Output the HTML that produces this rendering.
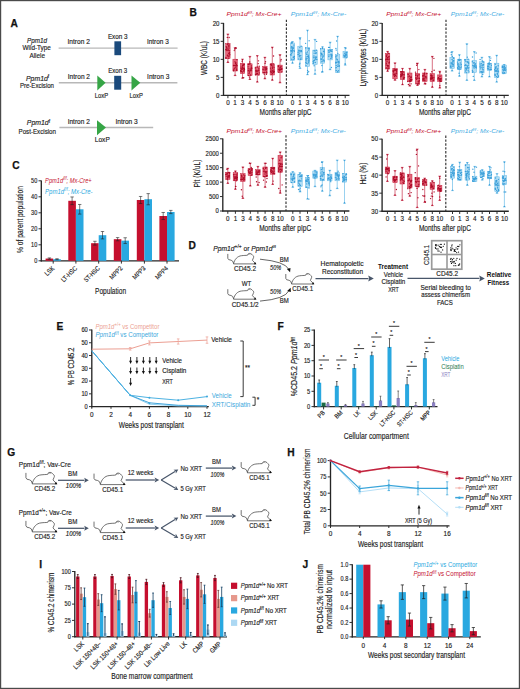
<!DOCTYPE html>
<html><head><meta charset="utf-8"><style>
html,body{margin:0;padding:0;background:#fff;}
#fig{position:absolute;left:0;top:0;width:520px;height:689px;overflow:hidden;}
svg{display:block;font-family:"Liberation Sans", sans-serif;}
</style></head><body><div id="fig">
<svg width="520" height="689" viewBox="0 0 520 689" fill="#222222">
<rect x="0" y="0" width="520" height="689" fill="#fff"/>
<text x="10.60" y="27.40" font-size="10.2" fill="#111" font-weight="bold" stroke="#111" stroke-width="0.25">A</text>
<text x="37.00" y="42.50" font-size="6.9" text-anchor="middle" stroke="#222222" stroke-width="0.15" font-style="italic" textLength="20.00" lengthAdjust="spacingAndGlyphs">Ppm1d</text>
<text x="36.70" y="50.30" font-size="6.9" text-anchor="middle" stroke="#222222" stroke-width="0.15" textLength="28.30" lengthAdjust="spacingAndGlyphs">Wild-Type</text>
<text x="37.20" y="57.60" font-size="6.9" text-anchor="middle" stroke="#222222" stroke-width="0.15" textLength="15.60" lengthAdjust="spacingAndGlyphs">Allele</text>
<line x1="58.60" y1="48.10" x2="177.60" y2="48.10" stroke="#b8b8b8" stroke-width="1.4"/>
<rect x="114.40" y="41.30" width="6.70" height="13.90" fill="#1b4a7c"/>
<text x="107.90" y="38.90" font-size="6.9" stroke="#222222" stroke-width="0.15" textLength="19.70" lengthAdjust="spacingAndGlyphs">Exon 3</text>
<text x="67.50" y="44.40" font-size="6.9" stroke="#222222" stroke-width="0.15" textLength="22.40" lengthAdjust="spacingAndGlyphs">Intron 2</text>
<text x="147.00" y="44.40" font-size="6.9" stroke="#222222" stroke-width="0.15" textLength="21.70" lengthAdjust="spacingAndGlyphs">Intron 3</text>
<text x="26.00" y="80.60" font-size="6.9" stroke="#222222" stroke-width="0.15"><tspan font-style="italic">Ppm1d</tspan><tspan font-size="72%" dy="-2.5">f</tspan></text>
<text x="19.90" y="88.00" font-size="6.9" stroke="#222222" stroke-width="0.15" textLength="34.10" lengthAdjust="spacingAndGlyphs">Pre-Excision</text>
<line x1="58.80" y1="82.80" x2="177.40" y2="82.80" stroke="#b8b8b8" stroke-width="1.4"/>
<rect x="114.20" y="75.80" width="7.00" height="13.90" fill="#1b4a7c"/>
<path d="M97.3,75.5 L105.6,82.8 L97.3,90.4 Z" stroke="none" fill="#36a546" stroke-width="0.8"/>
<path d="M131.5,75.5 L140.3,82.8 L131.5,90.4 Z" stroke="none" fill="#36a546" stroke-width="0.8"/>
<text x="108.20" y="72.70" font-size="6.9" stroke="#222222" stroke-width="0.15" textLength="19.00" lengthAdjust="spacingAndGlyphs">Exon 3</text>
<text x="67.80" y="78.60" font-size="6.9" stroke="#222222" stroke-width="0.15" textLength="22.20" lengthAdjust="spacingAndGlyphs">Intron 2</text>
<text x="147.10" y="79.00" font-size="6.9" stroke="#222222" stroke-width="0.15" textLength="22.20" lengthAdjust="spacingAndGlyphs">Intron 3</text>
<text x="94.80" y="97.50" font-size="6.9" stroke="#222222" stroke-width="0.15" textLength="13.40" lengthAdjust="spacingAndGlyphs">LoxP</text>
<text x="129.50" y="97.50" font-size="6.9" stroke="#222222" stroke-width="0.15" textLength="13.30" lengthAdjust="spacingAndGlyphs">LoxP</text>
<text x="26.80" y="125.40" font-size="6.9" stroke="#222222" stroke-width="0.15"><tspan font-style="italic">Ppm1d</tspan><tspan font-size="72%" dy="-2.5">f</tspan></text>
<text x="18.50" y="133.70" font-size="6.9" stroke="#222222" stroke-width="0.15" textLength="37.50" lengthAdjust="spacingAndGlyphs">Post-Excision</text>
<line x1="59.40" y1="127.50" x2="153.20" y2="127.50" stroke="#b8b8b8" stroke-width="1.4"/>
<path d="M97,120.2 L106,127.6 L97,135.2 Z" stroke="none" fill="#36a546" stroke-width="0.8"/>
<text x="67.70" y="123.80" font-size="6.9" stroke="#222222" stroke-width="0.15" textLength="22.10" lengthAdjust="spacingAndGlyphs">Intron 2</text>
<text x="115.40" y="123.80" font-size="6.9" stroke="#222222" stroke-width="0.15" textLength="22.40" lengthAdjust="spacingAndGlyphs">Intron 3</text>
<text x="94.80" y="142.30" font-size="6.9" stroke="#222222" stroke-width="0.15" textLength="15.00" lengthAdjust="spacingAndGlyphs">LoxP</text>
<text x="189.60" y="15.60" font-size="10.2" fill="#111" font-weight="bold" stroke="#111" stroke-width="0.25">B</text>
<line x1="223.50" y1="22.90" x2="223.50" y2="96.00" stroke="#262626" stroke-width="1.35"/>
<line x1="220.70" y1="95.40" x2="223.50" y2="95.40" stroke="#262626" stroke-width="0.95"/>
<text x="219.50" y="97.78" font-size="6.6" text-anchor="end" stroke="#222222" stroke-width="0.15" textLength="3.40" lengthAdjust="spacingAndGlyphs">0</text>
<line x1="220.70" y1="77.38" x2="223.50" y2="77.38" stroke="#262626" stroke-width="0.95"/>
<text x="219.50" y="79.75" font-size="6.6" text-anchor="end" stroke="#222222" stroke-width="0.15" textLength="3.40" lengthAdjust="spacingAndGlyphs">5</text>
<line x1="220.70" y1="59.35" x2="223.50" y2="59.35" stroke="#262626" stroke-width="0.95"/>
<text x="219.50" y="61.73" font-size="6.6" text-anchor="end" stroke="#222222" stroke-width="0.15" textLength="6.80" lengthAdjust="spacingAndGlyphs">10</text>
<line x1="220.70" y1="41.33" x2="223.50" y2="41.33" stroke="#262626" stroke-width="0.95"/>
<text x="219.50" y="43.70" font-size="6.6" text-anchor="end" stroke="#222222" stroke-width="0.15" textLength="6.80" lengthAdjust="spacingAndGlyphs">15</text>
<line x1="220.70" y1="23.30" x2="223.50" y2="23.30" stroke="#262626" stroke-width="0.95"/>
<text x="219.50" y="25.68" font-size="6.6" text-anchor="end" stroke="#222222" stroke-width="0.15" textLength="6.80" lengthAdjust="spacingAndGlyphs">20</text>
<line x1="222.90" y1="95.40" x2="349.50" y2="95.40" stroke="#262626" stroke-width="1.35"/>
<line x1="227.90" y1="95.40" x2="227.90" y2="98.20" stroke="#262626" stroke-width="0.95"/>
<text x="227.90" y="105.00" font-size="6.6" text-anchor="middle" stroke="#222222" stroke-width="0.15" textLength="3.50" lengthAdjust="spacingAndGlyphs">0</text>
<line x1="292.50" y1="95.40" x2="292.50" y2="98.20" stroke="#262626" stroke-width="0.95"/>
<text x="292.50" y="105.00" font-size="6.6" text-anchor="middle" stroke="#222222" stroke-width="0.15" textLength="3.50" lengthAdjust="spacingAndGlyphs">0</text>
<line x1="235.10" y1="95.40" x2="235.10" y2="98.20" stroke="#262626" stroke-width="0.95"/>
<text x="235.10" y="105.00" font-size="6.6" text-anchor="middle" stroke="#222222" stroke-width="0.15" textLength="3.50" lengthAdjust="spacingAndGlyphs">1</text>
<line x1="300.00" y1="95.40" x2="300.00" y2="98.20" stroke="#262626" stroke-width="0.95"/>
<text x="300.00" y="105.00" font-size="6.6" text-anchor="middle" stroke="#222222" stroke-width="0.15" textLength="3.50" lengthAdjust="spacingAndGlyphs">1</text>
<line x1="242.50" y1="95.40" x2="242.50" y2="98.20" stroke="#262626" stroke-width="0.95"/>
<text x="242.50" y="105.00" font-size="6.6" text-anchor="middle" stroke="#222222" stroke-width="0.15" textLength="3.50" lengthAdjust="spacingAndGlyphs">3</text>
<line x1="307.50" y1="95.40" x2="307.50" y2="98.20" stroke="#262626" stroke-width="0.95"/>
<text x="307.50" y="105.00" font-size="6.6" text-anchor="middle" stroke="#222222" stroke-width="0.15" textLength="3.50" lengthAdjust="spacingAndGlyphs">3</text>
<line x1="249.90" y1="95.40" x2="249.90" y2="98.20" stroke="#262626" stroke-width="0.95"/>
<text x="249.90" y="105.00" font-size="6.6" text-anchor="middle" stroke="#222222" stroke-width="0.15" textLength="3.50" lengthAdjust="spacingAndGlyphs">4</text>
<line x1="315.00" y1="95.40" x2="315.00" y2="98.20" stroke="#262626" stroke-width="0.95"/>
<text x="315.00" y="105.00" font-size="6.6" text-anchor="middle" stroke="#222222" stroke-width="0.15" textLength="3.50" lengthAdjust="spacingAndGlyphs">4</text>
<line x1="257.30" y1="95.40" x2="257.30" y2="98.20" stroke="#262626" stroke-width="0.95"/>
<text x="257.30" y="105.00" font-size="6.6" text-anchor="middle" stroke="#222222" stroke-width="0.15" textLength="3.50" lengthAdjust="spacingAndGlyphs">5</text>
<line x1="322.50" y1="95.40" x2="322.50" y2="98.20" stroke="#262626" stroke-width="0.95"/>
<text x="322.50" y="105.00" font-size="6.6" text-anchor="middle" stroke="#222222" stroke-width="0.15" textLength="3.50" lengthAdjust="spacingAndGlyphs">5</text>
<line x1="264.90" y1="95.40" x2="264.90" y2="98.20" stroke="#262626" stroke-width="0.95"/>
<text x="264.90" y="105.00" font-size="6.6" text-anchor="middle" stroke="#222222" stroke-width="0.15" textLength="3.50" lengthAdjust="spacingAndGlyphs">6</text>
<line x1="330.10" y1="95.40" x2="330.10" y2="98.20" stroke="#262626" stroke-width="0.95"/>
<text x="330.10" y="105.00" font-size="6.6" text-anchor="middle" stroke="#222222" stroke-width="0.15" textLength="3.50" lengthAdjust="spacingAndGlyphs">6</text>
<line x1="272.30" y1="95.40" x2="272.30" y2="98.20" stroke="#262626" stroke-width="0.95"/>
<text x="272.30" y="105.00" font-size="6.6" text-anchor="middle" stroke="#222222" stroke-width="0.15" textLength="3.50" lengthAdjust="spacingAndGlyphs">8</text>
<line x1="337.60" y1="95.40" x2="337.60" y2="98.20" stroke="#262626" stroke-width="0.95"/>
<text x="337.60" y="105.00" font-size="6.6" text-anchor="middle" stroke="#222222" stroke-width="0.15" textLength="3.50" lengthAdjust="spacingAndGlyphs">8</text>
<line x1="280.00" y1="95.40" x2="280.00" y2="98.20" stroke="#262626" stroke-width="0.95"/>
<text x="280.00" y="105.00" font-size="6.6" text-anchor="middle" stroke="#222222" stroke-width="0.15" textLength="7.00" lengthAdjust="spacingAndGlyphs">10</text>
<line x1="345.20" y1="95.40" x2="345.20" y2="98.20" stroke="#262626" stroke-width="0.95"/>
<text x="345.20" y="105.00" font-size="6.6" text-anchor="middle" stroke="#222222" stroke-width="0.15" textLength="7.00" lengthAdjust="spacingAndGlyphs">10</text>
<line x1="286.40" y1="19.70" x2="286.40" y2="95.40" stroke="#333" stroke-width="1.15" stroke-dasharray="2.4,1.5"/>
<line x1="227.90" y1="34.10" x2="227.90" y2="62.50" stroke="#c4233f" stroke-width="0.65"/>
<line x1="226.60" y1="34.10" x2="229.20" y2="34.10" stroke="#c4233f" stroke-width="0.75"/>
<line x1="226.60" y1="62.50" x2="229.20" y2="62.50" stroke="#c4233f" stroke-width="0.75"/>
<rect x="225.70" y="43.50" width="4.40" height="15.10" fill="#e5677a" stroke="#c4233f" stroke-width="0.5"/>
<line x1="225.70" y1="50.54" x2="230.10" y2="50.54" stroke="#ad0c29" stroke-width="0.8"/>
<circle cx="228.03" cy="49.42" r="0.7" fill="#ad0c29"/>
<circle cx="228.99" cy="53.68" r="0.7" fill="#ad0c29"/>
<circle cx="229.00" cy="53.53" r="0.7" fill="#ad0c29"/>
<circle cx="228.53" cy="58.08" r="0.7" fill="#ad0c29"/>
<circle cx="227.32" cy="37.41" r="0.7" fill="#ad0c29"/>
<circle cx="226.19" cy="49.51" r="0.7" fill="#ad0c29"/>
<circle cx="229.78" cy="54.64" r="0.7" fill="#ad0c29"/>
<circle cx="229.14" cy="55.93" r="0.7" fill="#ad0c29"/>
<circle cx="226.66" cy="47.67" r="0.7" fill="#ad0c29"/>
<circle cx="229.14" cy="37.48" r="0.7" fill="#ad0c29"/>
<circle cx="227.31" cy="44.33" r="0.7" fill="#ad0c29"/>
<circle cx="227.42" cy="55.31" r="0.7" fill="#ad0c29"/>
<circle cx="228.12" cy="56.24" r="0.7" fill="#ad0c29"/>
<circle cx="228.90" cy="47.98" r="0.7" fill="#ad0c29"/>
<circle cx="229.36" cy="52.15" r="0.7" fill="#ad0c29"/>
<circle cx="225.95" cy="57.40" r="0.7" fill="#ad0c29"/>
<circle cx="226.23" cy="46.70" r="0.7" fill="#ad0c29"/>
<circle cx="229.54" cy="52.84" r="0.7" fill="#ad0c29"/>
<circle cx="225.96" cy="58.39" r="0.7" fill="#ad0c29"/>
<circle cx="227.00" cy="48.32" r="0.7" fill="#ad0c29"/>
<circle cx="228.93" cy="46.32" r="0.7" fill="#ad0c29"/>
<circle cx="228.05" cy="43.65" r="0.7" fill="#ad0c29"/>
<circle cx="229.03" cy="45.03" r="0.7" fill="#ad0c29"/>
<circle cx="225.96" cy="49.38" r="0.7" fill="#ad0c29"/>
<circle cx="228.29" cy="45.89" r="0.7" fill="#ad0c29"/>
<circle cx="227.90" cy="34.60" r="0.7" fill="#ad0c29"/>
<circle cx="227.90" cy="62.00" r="0.7" fill="#ad0c29"/>
<line x1="235.10" y1="47.70" x2="235.10" y2="75.60" stroke="#c4233f" stroke-width="0.65"/>
<line x1="233.80" y1="47.70" x2="236.40" y2="47.70" stroke="#c4233f" stroke-width="0.75"/>
<line x1="233.80" y1="75.60" x2="236.40" y2="75.60" stroke="#c4233f" stroke-width="0.75"/>
<rect x="232.90" y="59.20" width="4.40" height="11.80" fill="#e5677a" stroke="#c4233f" stroke-width="0.5"/>
<line x1="232.90" y1="65.58" x2="237.30" y2="65.58" stroke="#ad0c29" stroke-width="0.8"/>
<circle cx="236.63" cy="70.28" r="0.7" fill="#ad0c29"/>
<circle cx="236.15" cy="66.98" r="0.7" fill="#ad0c29"/>
<circle cx="236.58" cy="69.92" r="0.7" fill="#ad0c29"/>
<circle cx="236.14" cy="65.07" r="0.7" fill="#ad0c29"/>
<circle cx="235.84" cy="47.73" r="0.7" fill="#ad0c29"/>
<circle cx="236.18" cy="48.36" r="0.7" fill="#ad0c29"/>
<circle cx="233.62" cy="70.03" r="0.7" fill="#ad0c29"/>
<circle cx="235.39" cy="65.86" r="0.7" fill="#ad0c29"/>
<circle cx="236.96" cy="59.66" r="0.7" fill="#ad0c29"/>
<circle cx="235.13" cy="67.68" r="0.7" fill="#ad0c29"/>
<circle cx="234.92" cy="61.86" r="0.7" fill="#ad0c29"/>
<circle cx="234.75" cy="65.38" r="0.7" fill="#ad0c29"/>
<circle cx="236.48" cy="68.89" r="0.7" fill="#ad0c29"/>
<circle cx="235.80" cy="62.51" r="0.7" fill="#ad0c29"/>
<circle cx="236.35" cy="64.21" r="0.7" fill="#ad0c29"/>
<circle cx="233.56" cy="70.71" r="0.7" fill="#ad0c29"/>
<circle cx="233.74" cy="65.54" r="0.7" fill="#ad0c29"/>
<circle cx="234.26" cy="50.59" r="0.7" fill="#ad0c29"/>
<circle cx="234.69" cy="48.98" r="0.7" fill="#ad0c29"/>
<circle cx="236.97" cy="65.73" r="0.7" fill="#ad0c29"/>
<circle cx="234.26" cy="68.81" r="0.7" fill="#ad0c29"/>
<circle cx="235.53" cy="63.47" r="0.7" fill="#ad0c29"/>
<circle cx="235.10" cy="48.20" r="0.7" fill="#ad0c29"/>
<circle cx="235.10" cy="75.10" r="0.7" fill="#ad0c29"/>
<line x1="242.50" y1="59.20" x2="242.50" y2="78.20" stroke="#c4233f" stroke-width="0.65"/>
<line x1="241.20" y1="59.20" x2="243.80" y2="59.20" stroke="#c4233f" stroke-width="0.75"/>
<line x1="241.20" y1="78.20" x2="243.80" y2="78.20" stroke="#c4233f" stroke-width="0.75"/>
<rect x="240.30" y="63.20" width="4.40" height="10.40" fill="#e5677a" stroke="#c4233f" stroke-width="0.5"/>
<line x1="240.30" y1="68.65" x2="244.70" y2="68.65" stroke="#ad0c29" stroke-width="0.8"/>
<circle cx="243.67" cy="77.63" r="0.7" fill="#ad0c29"/>
<circle cx="243.43" cy="65.04" r="0.7" fill="#ad0c29"/>
<circle cx="242.66" cy="67.25" r="0.7" fill="#ad0c29"/>
<circle cx="244.48" cy="69.52" r="0.7" fill="#ad0c29"/>
<circle cx="242.49" cy="66.97" r="0.7" fill="#ad0c29"/>
<circle cx="244.18" cy="68.23" r="0.7" fill="#ad0c29"/>
<circle cx="243.90" cy="70.40" r="0.7" fill="#ad0c29"/>
<circle cx="241.10" cy="67.09" r="0.7" fill="#ad0c29"/>
<circle cx="242.27" cy="71.94" r="0.7" fill="#ad0c29"/>
<circle cx="241.42" cy="71.28" r="0.7" fill="#ad0c29"/>
<circle cx="242.06" cy="69.46" r="0.7" fill="#ad0c29"/>
<circle cx="242.11" cy="61.19" r="0.7" fill="#ad0c29"/>
<circle cx="242.59" cy="67.91" r="0.7" fill="#ad0c29"/>
<circle cx="244.24" cy="64.55" r="0.7" fill="#ad0c29"/>
<circle cx="243.16" cy="64.68" r="0.7" fill="#ad0c29"/>
<circle cx="240.72" cy="70.82" r="0.7" fill="#ad0c29"/>
<circle cx="243.86" cy="71.27" r="0.7" fill="#ad0c29"/>
<circle cx="240.73" cy="71.10" r="0.7" fill="#ad0c29"/>
<circle cx="243.58" cy="68.78" r="0.7" fill="#ad0c29"/>
<circle cx="242.59" cy="65.51" r="0.7" fill="#ad0c29"/>
<circle cx="241.89" cy="69.14" r="0.7" fill="#ad0c29"/>
<circle cx="242.50" cy="59.70" r="0.7" fill="#ad0c29"/>
<circle cx="242.50" cy="77.70" r="0.7" fill="#ad0c29"/>
<line x1="249.90" y1="56.40" x2="249.90" y2="79.50" stroke="#c4233f" stroke-width="0.65"/>
<line x1="248.60" y1="56.40" x2="251.20" y2="56.40" stroke="#c4233f" stroke-width="0.75"/>
<line x1="248.60" y1="79.50" x2="251.20" y2="79.50" stroke="#c4233f" stroke-width="0.75"/>
<rect x="247.70" y="63.80" width="4.40" height="11.80" fill="#e5677a" stroke="#c4233f" stroke-width="0.5"/>
<line x1="247.70" y1="70.75" x2="252.10" y2="70.75" stroke="#ad0c29" stroke-width="0.8"/>
<circle cx="249.44" cy="71.83" r="0.7" fill="#ad0c29"/>
<circle cx="248.32" cy="64.57" r="0.7" fill="#ad0c29"/>
<circle cx="249.01" cy="73.60" r="0.7" fill="#ad0c29"/>
<circle cx="248.44" cy="70.63" r="0.7" fill="#ad0c29"/>
<circle cx="248.38" cy="68.87" r="0.7" fill="#ad0c29"/>
<circle cx="251.53" cy="67.98" r="0.7" fill="#ad0c29"/>
<circle cx="251.18" cy="69.23" r="0.7" fill="#ad0c29"/>
<circle cx="250.54" cy="74.96" r="0.7" fill="#ad0c29"/>
<circle cx="249.92" cy="63.82" r="0.7" fill="#ad0c29"/>
<circle cx="249.72" cy="62.06" r="0.7" fill="#ad0c29"/>
<circle cx="248.51" cy="75.57" r="0.7" fill="#ad0c29"/>
<circle cx="249.23" cy="72.83" r="0.7" fill="#ad0c29"/>
<circle cx="249.42" cy="77.11" r="0.7" fill="#ad0c29"/>
<circle cx="248.64" cy="64.20" r="0.7" fill="#ad0c29"/>
<circle cx="248.20" cy="66.87" r="0.7" fill="#ad0c29"/>
<circle cx="251.37" cy="66.01" r="0.7" fill="#ad0c29"/>
<circle cx="249.96" cy="68.97" r="0.7" fill="#ad0c29"/>
<circle cx="250.88" cy="70.17" r="0.7" fill="#ad0c29"/>
<circle cx="249.77" cy="63.96" r="0.7" fill="#ad0c29"/>
<circle cx="250.61" cy="70.62" r="0.7" fill="#ad0c29"/>
<circle cx="251.24" cy="67.92" r="0.7" fill="#ad0c29"/>
<circle cx="251.72" cy="68.28" r="0.7" fill="#ad0c29"/>
<circle cx="249.90" cy="56.90" r="0.7" fill="#ad0c29"/>
<circle cx="249.90" cy="79.00" r="0.7" fill="#ad0c29"/>
<line x1="257.30" y1="55.60" x2="257.30" y2="82.10" stroke="#c4233f" stroke-width="0.65"/>
<line x1="256.00" y1="55.60" x2="258.60" y2="55.60" stroke="#c4233f" stroke-width="0.75"/>
<line x1="256.00" y1="82.10" x2="258.60" y2="82.10" stroke="#c4233f" stroke-width="0.75"/>
<rect x="255.10" y="67.00" width="4.40" height="8.00" fill="#e5677a" stroke="#c4233f" stroke-width="0.5"/>
<line x1="255.10" y1="70.91" x2="259.50" y2="70.91" stroke="#ad0c29" stroke-width="0.8"/>
<circle cx="257.13" cy="71.62" r="0.7" fill="#ad0c29"/>
<circle cx="256.36" cy="70.91" r="0.7" fill="#ad0c29"/>
<circle cx="259.20" cy="66.27" r="0.7" fill="#ad0c29"/>
<circle cx="259.28" cy="72.90" r="0.7" fill="#ad0c29"/>
<circle cx="257.08" cy="74.16" r="0.7" fill="#ad0c29"/>
<circle cx="257.26" cy="67.04" r="0.7" fill="#ad0c29"/>
<circle cx="256.13" cy="73.95" r="0.7" fill="#ad0c29"/>
<circle cx="256.00" cy="70.32" r="0.7" fill="#ad0c29"/>
<circle cx="258.49" cy="60.86" r="0.7" fill="#ad0c29"/>
<circle cx="255.40" cy="67.89" r="0.7" fill="#ad0c29"/>
<circle cx="257.43" cy="73.39" r="0.7" fill="#ad0c29"/>
<circle cx="256.17" cy="71.86" r="0.7" fill="#ad0c29"/>
<circle cx="258.23" cy="63.62" r="0.7" fill="#ad0c29"/>
<circle cx="255.60" cy="74.69" r="0.7" fill="#ad0c29"/>
<circle cx="257.09" cy="73.49" r="0.7" fill="#ad0c29"/>
<circle cx="258.11" cy="70.56" r="0.7" fill="#ad0c29"/>
<circle cx="258.78" cy="69.88" r="0.7" fill="#ad0c29"/>
<circle cx="258.82" cy="68.36" r="0.7" fill="#ad0c29"/>
<circle cx="258.78" cy="74.91" r="0.7" fill="#ad0c29"/>
<circle cx="257.30" cy="56.10" r="0.7" fill="#ad0c29"/>
<circle cx="257.30" cy="81.60" r="0.7" fill="#ad0c29"/>
<line x1="264.90" y1="57.30" x2="264.90" y2="78.80" stroke="#c4233f" stroke-width="0.65"/>
<line x1="263.60" y1="57.30" x2="266.20" y2="57.30" stroke="#c4233f" stroke-width="0.75"/>
<line x1="263.60" y1="78.80" x2="266.20" y2="78.80" stroke="#c4233f" stroke-width="0.75"/>
<rect x="262.70" y="66.40" width="4.40" height="6.60" fill="#e5677a" stroke="#c4233f" stroke-width="0.5"/>
<line x1="262.70" y1="69.90" x2="267.10" y2="69.90" stroke="#ad0c29" stroke-width="0.8"/>
<circle cx="264.63" cy="72.55" r="0.7" fill="#ad0c29"/>
<circle cx="265.26" cy="67.91" r="0.7" fill="#ad0c29"/>
<circle cx="264.06" cy="67.82" r="0.7" fill="#ad0c29"/>
<circle cx="266.77" cy="72.89" r="0.7" fill="#ad0c29"/>
<circle cx="263.39" cy="72.81" r="0.7" fill="#ad0c29"/>
<circle cx="266.19" cy="67.79" r="0.7" fill="#ad0c29"/>
<circle cx="266.40" cy="69.13" r="0.7" fill="#ad0c29"/>
<circle cx="266.46" cy="71.98" r="0.7" fill="#ad0c29"/>
<circle cx="265.06" cy="63.38" r="0.7" fill="#ad0c29"/>
<circle cx="265.54" cy="61.82" r="0.7" fill="#ad0c29"/>
<circle cx="263.03" cy="69.19" r="0.7" fill="#ad0c29"/>
<circle cx="266.34" cy="72.79" r="0.7" fill="#ad0c29"/>
<circle cx="265.57" cy="69.83" r="0.7" fill="#ad0c29"/>
<circle cx="266.75" cy="68.66" r="0.7" fill="#ad0c29"/>
<circle cx="264.29" cy="74.17" r="0.7" fill="#ad0c29"/>
<circle cx="265.45" cy="68.10" r="0.7" fill="#ad0c29"/>
<circle cx="266.46" cy="74.18" r="0.7" fill="#ad0c29"/>
<circle cx="264.90" cy="57.80" r="0.7" fill="#ad0c29"/>
<circle cx="264.90" cy="78.30" r="0.7" fill="#ad0c29"/>
<line x1="272.30" y1="47.20" x2="272.30" y2="80.20" stroke="#c4233f" stroke-width="0.65"/>
<line x1="271.00" y1="47.20" x2="273.60" y2="47.20" stroke="#c4233f" stroke-width="0.75"/>
<line x1="271.00" y1="80.20" x2="273.60" y2="80.20" stroke="#c4233f" stroke-width="0.75"/>
<rect x="270.10" y="63.80" width="4.40" height="11.20" fill="#e5677a" stroke="#c4233f" stroke-width="0.5"/>
<line x1="270.10" y1="70.09" x2="274.50" y2="70.09" stroke="#ad0c29" stroke-width="0.8"/>
<circle cx="272.39" cy="67.32" r="0.7" fill="#ad0c29"/>
<circle cx="274.27" cy="71.70" r="0.7" fill="#ad0c29"/>
<circle cx="273.37" cy="71.23" r="0.7" fill="#ad0c29"/>
<circle cx="271.93" cy="74.18" r="0.7" fill="#ad0c29"/>
<circle cx="272.39" cy="73.31" r="0.7" fill="#ad0c29"/>
<circle cx="272.50" cy="70.63" r="0.7" fill="#ad0c29"/>
<circle cx="272.55" cy="68.36" r="0.7" fill="#ad0c29"/>
<circle cx="270.50" cy="64.63" r="0.7" fill="#ad0c29"/>
<circle cx="272.97" cy="65.93" r="0.7" fill="#ad0c29"/>
<circle cx="273.99" cy="67.58" r="0.7" fill="#ad0c29"/>
<circle cx="271.20" cy="63.87" r="0.7" fill="#ad0c29"/>
<circle cx="271.39" cy="72.31" r="0.7" fill="#ad0c29"/>
<circle cx="273.55" cy="55.95" r="0.7" fill="#ad0c29"/>
<circle cx="273.29" cy="72.26" r="0.7" fill="#ad0c29"/>
<circle cx="272.16" cy="71.37" r="0.7" fill="#ad0c29"/>
<circle cx="271.56" cy="65.59" r="0.7" fill="#ad0c29"/>
<circle cx="270.57" cy="71.70" r="0.7" fill="#ad0c29"/>
<circle cx="273.47" cy="72.48" r="0.7" fill="#ad0c29"/>
<circle cx="270.59" cy="68.13" r="0.7" fill="#ad0c29"/>
<circle cx="273.23" cy="63.94" r="0.7" fill="#ad0c29"/>
<circle cx="273.48" cy="71.73" r="0.7" fill="#ad0c29"/>
<circle cx="271.66" cy="64.73" r="0.7" fill="#ad0c29"/>
<circle cx="272.30" cy="47.70" r="0.7" fill="#ad0c29"/>
<circle cx="272.30" cy="79.70" r="0.7" fill="#ad0c29"/>
<line x1="280.00" y1="54.70" x2="280.00" y2="82.80" stroke="#c4233f" stroke-width="0.65"/>
<line x1="278.70" y1="54.70" x2="281.30" y2="54.70" stroke="#c4233f" stroke-width="0.75"/>
<line x1="278.70" y1="82.80" x2="281.30" y2="82.80" stroke="#c4233f" stroke-width="0.75"/>
<rect x="277.80" y="65.10" width="4.40" height="7.20" fill="#e5677a" stroke="#c4233f" stroke-width="0.5"/>
<line x1="277.80" y1="69.39" x2="282.20" y2="69.39" stroke="#ad0c29" stroke-width="0.8"/>
<circle cx="279.99" cy="69.80" r="0.7" fill="#ad0c29"/>
<circle cx="279.10" cy="70.07" r="0.7" fill="#ad0c29"/>
<circle cx="281.83" cy="71.84" r="0.7" fill="#ad0c29"/>
<circle cx="281.12" cy="59.44" r="0.7" fill="#ad0c29"/>
<circle cx="278.55" cy="66.51" r="0.7" fill="#ad0c29"/>
<circle cx="281.87" cy="68.81" r="0.7" fill="#ad0c29"/>
<circle cx="280.89" cy="69.15" r="0.7" fill="#ad0c29"/>
<circle cx="278.27" cy="66.09" r="0.7" fill="#ad0c29"/>
<circle cx="278.82" cy="72.15" r="0.7" fill="#ad0c29"/>
<circle cx="281.53" cy="69.18" r="0.7" fill="#ad0c29"/>
<circle cx="280.98" cy="66.44" r="0.7" fill="#ad0c29"/>
<circle cx="279.83" cy="70.69" r="0.7" fill="#ad0c29"/>
<circle cx="280.73" cy="67.58" r="0.7" fill="#ad0c29"/>
<circle cx="280.82" cy="60.89" r="0.7" fill="#ad0c29"/>
<circle cx="279.79" cy="69.57" r="0.7" fill="#ad0c29"/>
<circle cx="280.72" cy="69.14" r="0.7" fill="#ad0c29"/>
<circle cx="278.63" cy="66.00" r="0.7" fill="#ad0c29"/>
<circle cx="279.34" cy="68.06" r="0.7" fill="#ad0c29"/>
<circle cx="280.00" cy="55.20" r="0.7" fill="#ad0c29"/>
<circle cx="280.00" cy="82.30" r="0.7" fill="#ad0c29"/>
<line x1="292.50" y1="41.60" x2="292.50" y2="63.20" stroke="#62b8e6" stroke-width="0.65"/>
<line x1="291.20" y1="41.60" x2="293.80" y2="41.60" stroke="#62b8e6" stroke-width="0.75"/>
<line x1="291.20" y1="63.20" x2="293.80" y2="63.20" stroke="#62b8e6" stroke-width="0.75"/>
<rect x="290.30" y="42.90" width="4.40" height="17.60" fill="#b3def5" stroke="#62b8e6" stroke-width="0.5"/>
<line x1="290.30" y1="50.62" x2="294.70" y2="50.62" stroke="#3b9fd9" stroke-width="0.8"/>
<circle cx="293.42" cy="47.11" r="0.7" fill="#3b9fd9"/>
<circle cx="293.86" cy="45.11" r="0.7" fill="#3b9fd9"/>
<circle cx="292.42" cy="52.01" r="0.7" fill="#3b9fd9"/>
<circle cx="293.88" cy="57.48" r="0.7" fill="#3b9fd9"/>
<circle cx="291.72" cy="59.31" r="0.7" fill="#3b9fd9"/>
<circle cx="291.95" cy="50.21" r="0.7" fill="#3b9fd9"/>
<circle cx="291.22" cy="54.95" r="0.7" fill="#3b9fd9"/>
<circle cx="292.00" cy="48.01" r="0.7" fill="#3b9fd9"/>
<circle cx="291.67" cy="53.32" r="0.7" fill="#3b9fd9"/>
<circle cx="291.26" cy="47.92" r="0.7" fill="#3b9fd9"/>
<circle cx="294.32" cy="51.19" r="0.7" fill="#3b9fd9"/>
<circle cx="291.07" cy="50.93" r="0.7" fill="#3b9fd9"/>
<circle cx="291.49" cy="51.07" r="0.7" fill="#3b9fd9"/>
<circle cx="292.24" cy="50.88" r="0.7" fill="#3b9fd9"/>
<circle cx="293.28" cy="57.32" r="0.7" fill="#3b9fd9"/>
<circle cx="292.50" cy="49.26" r="0.7" fill="#3b9fd9"/>
<circle cx="291.71" cy="42.57" r="0.7" fill="#3b9fd9"/>
<circle cx="291.47" cy="46.76" r="0.7" fill="#3b9fd9"/>
<circle cx="293.19" cy="59.39" r="0.7" fill="#3b9fd9"/>
<circle cx="294.39" cy="56.56" r="0.7" fill="#3b9fd9"/>
<circle cx="293.02" cy="48.20" r="0.7" fill="#3b9fd9"/>
<circle cx="294.31" cy="58.78" r="0.7" fill="#3b9fd9"/>
<circle cx="293.49" cy="57.22" r="0.7" fill="#3b9fd9"/>
<circle cx="291.88" cy="43.40" r="0.7" fill="#3b9fd9"/>
<circle cx="293.09" cy="48.49" r="0.7" fill="#3b9fd9"/>
<circle cx="292.48" cy="47.13" r="0.7" fill="#3b9fd9"/>
<circle cx="290.52" cy="54.69" r="0.7" fill="#3b9fd9"/>
<circle cx="292.50" cy="42.10" r="0.7" fill="#3b9fd9"/>
<circle cx="292.50" cy="62.70" r="0.7" fill="#3b9fd9"/>
<line x1="300.00" y1="37.70" x2="300.00" y2="68.40" stroke="#62b8e6" stroke-width="0.65"/>
<line x1="298.70" y1="37.70" x2="301.30" y2="37.70" stroke="#62b8e6" stroke-width="0.75"/>
<line x1="298.70" y1="68.40" x2="301.30" y2="68.40" stroke="#62b8e6" stroke-width="0.75"/>
<rect x="297.80" y="46.20" width="4.40" height="13.70" fill="#b3def5" stroke="#62b8e6" stroke-width="0.5"/>
<line x1="297.80" y1="51.77" x2="302.20" y2="51.77" stroke="#3b9fd9" stroke-width="0.8"/>
<circle cx="299.82" cy="47.61" r="0.7" fill="#3b9fd9"/>
<circle cx="299.89" cy="63.18" r="0.7" fill="#3b9fd9"/>
<circle cx="301.26" cy="50.69" r="0.7" fill="#3b9fd9"/>
<circle cx="298.88" cy="54.72" r="0.7" fill="#3b9fd9"/>
<circle cx="299.18" cy="53.22" r="0.7" fill="#3b9fd9"/>
<circle cx="299.52" cy="64.15" r="0.7" fill="#3b9fd9"/>
<circle cx="299.85" cy="55.69" r="0.7" fill="#3b9fd9"/>
<circle cx="299.42" cy="66.23" r="0.7" fill="#3b9fd9"/>
<circle cx="298.05" cy="54.51" r="0.7" fill="#3b9fd9"/>
<circle cx="300.63" cy="59.30" r="0.7" fill="#3b9fd9"/>
<circle cx="298.81" cy="50.30" r="0.7" fill="#3b9fd9"/>
<circle cx="301.14" cy="46.22" r="0.7" fill="#3b9fd9"/>
<circle cx="298.98" cy="50.60" r="0.7" fill="#3b9fd9"/>
<circle cx="300.75" cy="59.35" r="0.7" fill="#3b9fd9"/>
<circle cx="299.61" cy="55.84" r="0.7" fill="#3b9fd9"/>
<circle cx="298.81" cy="59.04" r="0.7" fill="#3b9fd9"/>
<circle cx="299.97" cy="50.44" r="0.7" fill="#3b9fd9"/>
<circle cx="299.18" cy="56.79" r="0.7" fill="#3b9fd9"/>
<circle cx="300.81" cy="55.82" r="0.7" fill="#3b9fd9"/>
<circle cx="298.12" cy="52.62" r="0.7" fill="#3b9fd9"/>
<circle cx="300.99" cy="58.07" r="0.7" fill="#3b9fd9"/>
<circle cx="301.25" cy="50.74" r="0.7" fill="#3b9fd9"/>
<circle cx="300.13" cy="39.07" r="0.7" fill="#3b9fd9"/>
<circle cx="301.30" cy="51.19" r="0.7" fill="#3b9fd9"/>
<circle cx="300.00" cy="38.20" r="0.7" fill="#3b9fd9"/>
<circle cx="300.00" cy="67.90" r="0.7" fill="#3b9fd9"/>
<line x1="307.50" y1="30.20" x2="307.50" y2="74.70" stroke="#62b8e6" stroke-width="0.65"/>
<line x1="306.20" y1="30.20" x2="308.80" y2="30.20" stroke="#62b8e6" stroke-width="0.75"/>
<line x1="306.20" y1="74.70" x2="308.80" y2="74.70" stroke="#62b8e6" stroke-width="0.75"/>
<rect x="305.30" y="47.50" width="4.40" height="18.90" fill="#b3def5" stroke="#62b8e6" stroke-width="0.5"/>
<line x1="305.30" y1="58.32" x2="309.70" y2="58.32" stroke="#3b9fd9" stroke-width="0.8"/>
<circle cx="306.78" cy="60.91" r="0.7" fill="#3b9fd9"/>
<circle cx="305.82" cy="59.84" r="0.7" fill="#3b9fd9"/>
<circle cx="309.13" cy="40.82" r="0.7" fill="#3b9fd9"/>
<circle cx="308.46" cy="62.71" r="0.7" fill="#3b9fd9"/>
<circle cx="308.69" cy="61.15" r="0.7" fill="#3b9fd9"/>
<circle cx="306.26" cy="56.84" r="0.7" fill="#3b9fd9"/>
<circle cx="308.23" cy="48.46" r="0.7" fill="#3b9fd9"/>
<circle cx="306.60" cy="63.31" r="0.7" fill="#3b9fd9"/>
<circle cx="308.67" cy="71.69" r="0.7" fill="#3b9fd9"/>
<circle cx="307.76" cy="63.87" r="0.7" fill="#3b9fd9"/>
<circle cx="306.10" cy="53.07" r="0.7" fill="#3b9fd9"/>
<circle cx="308.53" cy="50.10" r="0.7" fill="#3b9fd9"/>
<circle cx="308.41" cy="56.65" r="0.7" fill="#3b9fd9"/>
<circle cx="307.58" cy="52.03" r="0.7" fill="#3b9fd9"/>
<circle cx="307.73" cy="56.40" r="0.7" fill="#3b9fd9"/>
<circle cx="305.82" cy="62.46" r="0.7" fill="#3b9fd9"/>
<circle cx="309.24" cy="48.73" r="0.7" fill="#3b9fd9"/>
<circle cx="308.84" cy="60.63" r="0.7" fill="#3b9fd9"/>
<circle cx="305.73" cy="48.03" r="0.7" fill="#3b9fd9"/>
<circle cx="307.94" cy="54.13" r="0.7" fill="#3b9fd9"/>
<circle cx="308.85" cy="59.69" r="0.7" fill="#3b9fd9"/>
<circle cx="305.60" cy="43.34" r="0.7" fill="#3b9fd9"/>
<circle cx="307.57" cy="70.47" r="0.7" fill="#3b9fd9"/>
<circle cx="307.61" cy="72.63" r="0.7" fill="#3b9fd9"/>
<circle cx="306.07" cy="65.63" r="0.7" fill="#3b9fd9"/>
<circle cx="308.62" cy="57.27" r="0.7" fill="#3b9fd9"/>
<circle cx="306.54" cy="59.04" r="0.7" fill="#3b9fd9"/>
<circle cx="308.32" cy="55.77" r="0.7" fill="#3b9fd9"/>
<circle cx="306.51" cy="54.36" r="0.7" fill="#3b9fd9"/>
<circle cx="307.50" cy="30.70" r="0.7" fill="#3b9fd9"/>
<circle cx="307.50" cy="74.20" r="0.7" fill="#3b9fd9"/>
<line x1="315.00" y1="39.40" x2="315.00" y2="74.30" stroke="#62b8e6" stroke-width="0.65"/>
<line x1="313.70" y1="39.40" x2="316.30" y2="39.40" stroke="#62b8e6" stroke-width="0.75"/>
<line x1="313.70" y1="74.30" x2="316.30" y2="74.30" stroke="#62b8e6" stroke-width="0.75"/>
<rect x="312.80" y="50.10" width="4.40" height="14.40" fill="#b3def5" stroke="#62b8e6" stroke-width="0.5"/>
<line x1="312.80" y1="57.10" x2="317.20" y2="57.10" stroke="#3b9fd9" stroke-width="0.8"/>
<circle cx="316.04" cy="52.83" r="0.7" fill="#3b9fd9"/>
<circle cx="314.52" cy="60.52" r="0.7" fill="#3b9fd9"/>
<circle cx="313.16" cy="61.34" r="0.7" fill="#3b9fd9"/>
<circle cx="316.59" cy="41.38" r="0.7" fill="#3b9fd9"/>
<circle cx="315.30" cy="62.56" r="0.7" fill="#3b9fd9"/>
<circle cx="316.88" cy="59.56" r="0.7" fill="#3b9fd9"/>
<circle cx="313.27" cy="63.40" r="0.7" fill="#3b9fd9"/>
<circle cx="315.44" cy="58.76" r="0.7" fill="#3b9fd9"/>
<circle cx="314.14" cy="65.76" r="0.7" fill="#3b9fd9"/>
<circle cx="313.91" cy="55.87" r="0.7" fill="#3b9fd9"/>
<circle cx="315.15" cy="70.12" r="0.7" fill="#3b9fd9"/>
<circle cx="316.33" cy="50.22" r="0.7" fill="#3b9fd9"/>
<circle cx="316.20" cy="52.93" r="0.7" fill="#3b9fd9"/>
<circle cx="315.02" cy="50.96" r="0.7" fill="#3b9fd9"/>
<circle cx="314.10" cy="50.69" r="0.7" fill="#3b9fd9"/>
<circle cx="313.67" cy="62.32" r="0.7" fill="#3b9fd9"/>
<circle cx="313.75" cy="60.53" r="0.7" fill="#3b9fd9"/>
<circle cx="315.66" cy="57.17" r="0.7" fill="#3b9fd9"/>
<circle cx="313.89" cy="57.75" r="0.7" fill="#3b9fd9"/>
<circle cx="316.24" cy="57.25" r="0.7" fill="#3b9fd9"/>
<circle cx="315.04" cy="59.35" r="0.7" fill="#3b9fd9"/>
<circle cx="315.35" cy="53.35" r="0.7" fill="#3b9fd9"/>
<circle cx="314.14" cy="53.14" r="0.7" fill="#3b9fd9"/>
<circle cx="316.19" cy="59.16" r="0.7" fill="#3b9fd9"/>
<circle cx="315.00" cy="39.90" r="0.7" fill="#3b9fd9"/>
<circle cx="315.00" cy="73.80" r="0.7" fill="#3b9fd9"/>
<line x1="322.50" y1="46.80" x2="322.50" y2="72.00" stroke="#62b8e6" stroke-width="0.65"/>
<line x1="321.20" y1="46.80" x2="323.80" y2="46.80" stroke="#62b8e6" stroke-width="0.75"/>
<line x1="321.20" y1="72.00" x2="323.80" y2="72.00" stroke="#62b8e6" stroke-width="0.75"/>
<rect x="320.30" y="48.80" width="4.40" height="14.40" fill="#b3def5" stroke="#62b8e6" stroke-width="0.5"/>
<line x1="320.30" y1="55.89" x2="324.70" y2="55.89" stroke="#3b9fd9" stroke-width="0.8"/>
<circle cx="321.31" cy="54.35" r="0.7" fill="#3b9fd9"/>
<circle cx="322.26" cy="58.96" r="0.7" fill="#3b9fd9"/>
<circle cx="321.54" cy="53.53" r="0.7" fill="#3b9fd9"/>
<circle cx="324.17" cy="60.99" r="0.7" fill="#3b9fd9"/>
<circle cx="322.50" cy="48.46" r="0.7" fill="#3b9fd9"/>
<circle cx="321.70" cy="54.11" r="0.7" fill="#3b9fd9"/>
<circle cx="324.35" cy="49.10" r="0.7" fill="#3b9fd9"/>
<circle cx="323.57" cy="59.86" r="0.7" fill="#3b9fd9"/>
<circle cx="320.66" cy="48.82" r="0.7" fill="#3b9fd9"/>
<circle cx="322.66" cy="57.37" r="0.7" fill="#3b9fd9"/>
<circle cx="320.92" cy="53.12" r="0.7" fill="#3b9fd9"/>
<circle cx="323.52" cy="51.57" r="0.7" fill="#3b9fd9"/>
<circle cx="321.93" cy="61.79" r="0.7" fill="#3b9fd9"/>
<circle cx="324.29" cy="53.97" r="0.7" fill="#3b9fd9"/>
<circle cx="323.81" cy="60.79" r="0.7" fill="#3b9fd9"/>
<circle cx="321.90" cy="65.57" r="0.7" fill="#3b9fd9"/>
<circle cx="321.00" cy="58.99" r="0.7" fill="#3b9fd9"/>
<circle cx="321.91" cy="72.00" r="0.7" fill="#3b9fd9"/>
<circle cx="321.32" cy="59.24" r="0.7" fill="#3b9fd9"/>
<circle cx="322.22" cy="60.90" r="0.7" fill="#3b9fd9"/>
<circle cx="324.30" cy="51.07" r="0.7" fill="#3b9fd9"/>
<circle cx="323.04" cy="56.21" r="0.7" fill="#3b9fd9"/>
<circle cx="324.45" cy="52.11" r="0.7" fill="#3b9fd9"/>
<circle cx="322.19" cy="54.35" r="0.7" fill="#3b9fd9"/>
<circle cx="322.50" cy="47.30" r="0.7" fill="#3b9fd9"/>
<circle cx="322.50" cy="71.50" r="0.7" fill="#3b9fd9"/>
<line x1="330.10" y1="42.20" x2="330.10" y2="69.70" stroke="#62b8e6" stroke-width="0.65"/>
<line x1="328.80" y1="42.20" x2="331.40" y2="42.20" stroke="#62b8e6" stroke-width="0.75"/>
<line x1="328.80" y1="69.70" x2="331.40" y2="69.70" stroke="#62b8e6" stroke-width="0.75"/>
<rect x="327.90" y="49.40" width="4.40" height="10.50" fill="#b3def5" stroke="#62b8e6" stroke-width="0.5"/>
<line x1="327.90" y1="54.95" x2="332.30" y2="54.95" stroke="#3b9fd9" stroke-width="0.8"/>
<circle cx="331.11" cy="54.29" r="0.7" fill="#3b9fd9"/>
<circle cx="331.35" cy="55.99" r="0.7" fill="#3b9fd9"/>
<circle cx="329.49" cy="47.41" r="0.7" fill="#3b9fd9"/>
<circle cx="331.44" cy="67.55" r="0.7" fill="#3b9fd9"/>
<circle cx="328.94" cy="52.26" r="0.7" fill="#3b9fd9"/>
<circle cx="328.61" cy="47.41" r="0.7" fill="#3b9fd9"/>
<circle cx="328.85" cy="56.55" r="0.7" fill="#3b9fd9"/>
<circle cx="328.50" cy="50.58" r="0.7" fill="#3b9fd9"/>
<circle cx="332.01" cy="49.59" r="0.7" fill="#3b9fd9"/>
<circle cx="330.80" cy="58.58" r="0.7" fill="#3b9fd9"/>
<circle cx="331.36" cy="56.71" r="0.7" fill="#3b9fd9"/>
<circle cx="329.16" cy="52.05" r="0.7" fill="#3b9fd9"/>
<circle cx="330.55" cy="50.94" r="0.7" fill="#3b9fd9"/>
<circle cx="330.02" cy="50.06" r="0.7" fill="#3b9fd9"/>
<circle cx="330.27" cy="50.48" r="0.7" fill="#3b9fd9"/>
<circle cx="331.62" cy="55.02" r="0.7" fill="#3b9fd9"/>
<circle cx="331.03" cy="58.15" r="0.7" fill="#3b9fd9"/>
<circle cx="331.59" cy="51.06" r="0.7" fill="#3b9fd9"/>
<circle cx="331.85" cy="56.96" r="0.7" fill="#3b9fd9"/>
<circle cx="331.85" cy="55.15" r="0.7" fill="#3b9fd9"/>
<circle cx="331.78" cy="51.39" r="0.7" fill="#3b9fd9"/>
<circle cx="330.10" cy="42.70" r="0.7" fill="#3b9fd9"/>
<circle cx="330.10" cy="69.20" r="0.7" fill="#3b9fd9"/>
<line x1="337.60" y1="36.30" x2="337.60" y2="72.30" stroke="#62b8e6" stroke-width="0.65"/>
<line x1="336.30" y1="36.30" x2="338.90" y2="36.30" stroke="#62b8e6" stroke-width="0.75"/>
<line x1="336.30" y1="72.30" x2="338.90" y2="72.30" stroke="#62b8e6" stroke-width="0.75"/>
<rect x="335.40" y="54.70" width="4.40" height="17.60" fill="#b3def5" stroke="#62b8e6" stroke-width="0.5"/>
<line x1="335.40" y1="62.24" x2="339.80" y2="62.24" stroke="#3b9fd9" stroke-width="0.8"/>
<circle cx="337.40" cy="59.36" r="0.7" fill="#3b9fd9"/>
<circle cx="335.91" cy="67.84" r="0.7" fill="#3b9fd9"/>
<circle cx="335.83" cy="62.99" r="0.7" fill="#3b9fd9"/>
<circle cx="339.17" cy="65.84" r="0.7" fill="#3b9fd9"/>
<circle cx="336.24" cy="50.11" r="0.7" fill="#3b9fd9"/>
<circle cx="335.92" cy="48.52" r="0.7" fill="#3b9fd9"/>
<circle cx="339.29" cy="65.93" r="0.7" fill="#3b9fd9"/>
<circle cx="336.31" cy="67.62" r="0.7" fill="#3b9fd9"/>
<circle cx="338.65" cy="66.09" r="0.7" fill="#3b9fd9"/>
<circle cx="336.31" cy="62.52" r="0.7" fill="#3b9fd9"/>
<circle cx="337.58" cy="66.28" r="0.7" fill="#3b9fd9"/>
<circle cx="338.35" cy="70.74" r="0.7" fill="#3b9fd9"/>
<circle cx="338.27" cy="61.88" r="0.7" fill="#3b9fd9"/>
<circle cx="336.38" cy="58.97" r="0.7" fill="#3b9fd9"/>
<circle cx="336.22" cy="70.49" r="0.7" fill="#3b9fd9"/>
<circle cx="338.78" cy="63.04" r="0.7" fill="#3b9fd9"/>
<circle cx="335.93" cy="62.56" r="0.7" fill="#3b9fd9"/>
<circle cx="336.19" cy="65.52" r="0.7" fill="#3b9fd9"/>
<circle cx="338.23" cy="61.33" r="0.7" fill="#3b9fd9"/>
<circle cx="335.94" cy="56.29" r="0.7" fill="#3b9fd9"/>
<circle cx="337.17" cy="60.12" r="0.7" fill="#3b9fd9"/>
<circle cx="336.98" cy="55.71" r="0.7" fill="#3b9fd9"/>
<circle cx="336.61" cy="41.02" r="0.7" fill="#3b9fd9"/>
<circle cx="335.98" cy="57.11" r="0.7" fill="#3b9fd9"/>
<circle cx="338.06" cy="64.35" r="0.7" fill="#3b9fd9"/>
<circle cx="337.84" cy="53.34" r="0.7" fill="#3b9fd9"/>
<circle cx="338.71" cy="61.55" r="0.7" fill="#3b9fd9"/>
<circle cx="337.60" cy="36.80" r="0.7" fill="#3b9fd9"/>
<circle cx="337.60" cy="71.80" r="0.7" fill="#3b9fd9"/>
<line x1="345.20" y1="47.50" x2="345.20" y2="65.10" stroke="#62b8e6" stroke-width="0.65"/>
<line x1="343.90" y1="47.50" x2="346.50" y2="47.50" stroke="#62b8e6" stroke-width="0.75"/>
<line x1="343.90" y1="65.10" x2="346.50" y2="65.10" stroke="#62b8e6" stroke-width="0.75"/>
<rect x="343.00" y="51.40" width="4.40" height="6.50" fill="#b3def5" stroke="#62b8e6" stroke-width="0.5"/>
<line x1="343.00" y1="55.16" x2="347.40" y2="55.16" stroke="#3b9fd9" stroke-width="0.8"/>
<circle cx="345.88" cy="54.57" r="0.7" fill="#3b9fd9"/>
<circle cx="346.21" cy="57.75" r="0.7" fill="#3b9fd9"/>
<circle cx="346.03" cy="55.23" r="0.7" fill="#3b9fd9"/>
<circle cx="344.15" cy="56.06" r="0.7" fill="#3b9fd9"/>
<circle cx="344.74" cy="53.29" r="0.7" fill="#3b9fd9"/>
<circle cx="345.13" cy="63.74" r="0.7" fill="#3b9fd9"/>
<circle cx="345.91" cy="54.42" r="0.7" fill="#3b9fd9"/>
<circle cx="345.37" cy="56.09" r="0.7" fill="#3b9fd9"/>
<circle cx="346.78" cy="52.52" r="0.7" fill="#3b9fd9"/>
<circle cx="344.69" cy="56.57" r="0.7" fill="#3b9fd9"/>
<circle cx="346.93" cy="56.85" r="0.7" fill="#3b9fd9"/>
<circle cx="346.05" cy="52.60" r="0.7" fill="#3b9fd9"/>
<circle cx="345.83" cy="48.47" r="0.7" fill="#3b9fd9"/>
<circle cx="344.68" cy="56.69" r="0.7" fill="#3b9fd9"/>
<circle cx="346.19" cy="54.15" r="0.7" fill="#3b9fd9"/>
<circle cx="346.07" cy="53.09" r="0.7" fill="#3b9fd9"/>
<circle cx="345.13" cy="55.28" r="0.7" fill="#3b9fd9"/>
<circle cx="345.20" cy="48.00" r="0.7" fill="#3b9fd9"/>
<circle cx="345.20" cy="64.60" r="0.7" fill="#3b9fd9"/>
<text x="226.50" y="16.20" font-size="6.0" fill="#c50f2e" font-style="italic" textLength="55.00" lengthAdjust="spacingAndGlyphs">Ppm1d<tspan font-size="72%" dy="-2.6">f/f</tspan><tspan dy="2.6">; Mx-Cre+</tspan></text>
<text x="290.80" y="16.20" font-size="6.0" fill="#45ace3" font-style="italic" textLength="55.50" lengthAdjust="spacingAndGlyphs">Ppm1d<tspan font-size="72%" dy="-2.6">f/f</tspan><tspan dy="2.6">; Mx-Cre-</tspan></text>
<text x="285.55" y="115.40" font-size="8.6" text-anchor="middle" stroke="#222222" stroke-width="0.15" textLength="52.00" lengthAdjust="spacingAndGlyphs">Months after pIpC</text>
<text x="207.20" y="58.00" font-size="8.4" text-anchor="middle" stroke="#222222" stroke-width="0.15" textLength="34.00" lengthAdjust="spacingAndGlyphs" transform="rotate(-90 207.20 58.00)">WBC (K/uL)</text>
<line x1="382.20" y1="22.90" x2="382.20" y2="96.00" stroke="#262626" stroke-width="1.35"/>
<line x1="379.40" y1="95.40" x2="382.20" y2="95.40" stroke="#262626" stroke-width="0.95"/>
<text x="378.20" y="97.78" font-size="6.6" text-anchor="end" stroke="#222222" stroke-width="0.15" textLength="3.40" lengthAdjust="spacingAndGlyphs">0</text>
<line x1="379.40" y1="77.38" x2="382.20" y2="77.38" stroke="#262626" stroke-width="0.95"/>
<text x="378.20" y="79.75" font-size="6.6" text-anchor="end" stroke="#222222" stroke-width="0.15" textLength="3.40" lengthAdjust="spacingAndGlyphs">5</text>
<line x1="379.40" y1="59.35" x2="382.20" y2="59.35" stroke="#262626" stroke-width="0.95"/>
<text x="378.20" y="61.73" font-size="6.6" text-anchor="end" stroke="#222222" stroke-width="0.15" textLength="6.80" lengthAdjust="spacingAndGlyphs">10</text>
<line x1="379.40" y1="41.33" x2="382.20" y2="41.33" stroke="#262626" stroke-width="0.95"/>
<text x="378.20" y="43.70" font-size="6.6" text-anchor="end" stroke="#222222" stroke-width="0.15" textLength="6.80" lengthAdjust="spacingAndGlyphs">15</text>
<line x1="379.40" y1="23.30" x2="382.20" y2="23.30" stroke="#262626" stroke-width="0.95"/>
<text x="378.20" y="25.68" font-size="6.6" text-anchor="end" stroke="#222222" stroke-width="0.15" textLength="6.80" lengthAdjust="spacingAndGlyphs">20</text>
<line x1="381.60" y1="95.40" x2="508.80" y2="95.40" stroke="#262626" stroke-width="1.35"/>
<line x1="387.60" y1="95.40" x2="387.60" y2="98.20" stroke="#262626" stroke-width="0.95"/>
<text x="387.60" y="105.00" font-size="6.6" text-anchor="middle" stroke="#222222" stroke-width="0.15" textLength="3.50" lengthAdjust="spacingAndGlyphs">0</text>
<line x1="452.10" y1="95.40" x2="452.10" y2="98.20" stroke="#262626" stroke-width="0.95"/>
<text x="452.10" y="105.00" font-size="6.6" text-anchor="middle" stroke="#222222" stroke-width="0.15" textLength="3.50" lengthAdjust="spacingAndGlyphs">0</text>
<line x1="395.00" y1="95.40" x2="395.00" y2="98.20" stroke="#262626" stroke-width="0.95"/>
<text x="395.00" y="105.00" font-size="6.6" text-anchor="middle" stroke="#222222" stroke-width="0.15" textLength="3.50" lengthAdjust="spacingAndGlyphs">1</text>
<line x1="459.40" y1="95.40" x2="459.40" y2="98.20" stroke="#262626" stroke-width="0.95"/>
<text x="459.40" y="105.00" font-size="6.6" text-anchor="middle" stroke="#222222" stroke-width="0.15" textLength="3.50" lengthAdjust="spacingAndGlyphs">1</text>
<line x1="402.50" y1="95.40" x2="402.50" y2="98.20" stroke="#262626" stroke-width="0.95"/>
<text x="402.50" y="105.00" font-size="6.6" text-anchor="middle" stroke="#222222" stroke-width="0.15" textLength="3.50" lengthAdjust="spacingAndGlyphs">3</text>
<line x1="466.90" y1="95.40" x2="466.90" y2="98.20" stroke="#262626" stroke-width="0.95"/>
<text x="466.90" y="105.00" font-size="6.6" text-anchor="middle" stroke="#222222" stroke-width="0.15" textLength="3.50" lengthAdjust="spacingAndGlyphs">3</text>
<line x1="409.80" y1="95.40" x2="409.80" y2="98.20" stroke="#262626" stroke-width="0.95"/>
<text x="409.80" y="105.00" font-size="6.6" text-anchor="middle" stroke="#222222" stroke-width="0.15" textLength="3.50" lengthAdjust="spacingAndGlyphs">4</text>
<line x1="474.30" y1="95.40" x2="474.30" y2="98.20" stroke="#262626" stroke-width="0.95"/>
<text x="474.30" y="105.00" font-size="6.6" text-anchor="middle" stroke="#222222" stroke-width="0.15" textLength="3.50" lengthAdjust="spacingAndGlyphs">4</text>
<line x1="417.50" y1="95.40" x2="417.50" y2="98.20" stroke="#262626" stroke-width="0.95"/>
<text x="417.50" y="105.00" font-size="6.6" text-anchor="middle" stroke="#222222" stroke-width="0.15" textLength="3.50" lengthAdjust="spacingAndGlyphs">5</text>
<line x1="481.90" y1="95.40" x2="481.90" y2="98.20" stroke="#262626" stroke-width="0.95"/>
<text x="481.90" y="105.00" font-size="6.6" text-anchor="middle" stroke="#222222" stroke-width="0.15" textLength="3.50" lengthAdjust="spacingAndGlyphs">5</text>
<line x1="424.90" y1="95.40" x2="424.90" y2="98.20" stroke="#262626" stroke-width="0.95"/>
<text x="424.90" y="105.00" font-size="6.6" text-anchor="middle" stroke="#222222" stroke-width="0.15" textLength="3.50" lengthAdjust="spacingAndGlyphs">6</text>
<line x1="489.40" y1="95.40" x2="489.40" y2="98.20" stroke="#262626" stroke-width="0.95"/>
<text x="489.40" y="105.00" font-size="6.6" text-anchor="middle" stroke="#222222" stroke-width="0.15" textLength="3.50" lengthAdjust="spacingAndGlyphs">6</text>
<line x1="432.30" y1="95.40" x2="432.30" y2="98.20" stroke="#262626" stroke-width="0.95"/>
<text x="432.30" y="105.00" font-size="6.6" text-anchor="middle" stroke="#222222" stroke-width="0.15" textLength="3.50" lengthAdjust="spacingAndGlyphs">8</text>
<line x1="496.70" y1="95.40" x2="496.70" y2="98.20" stroke="#262626" stroke-width="0.95"/>
<text x="496.70" y="105.00" font-size="6.6" text-anchor="middle" stroke="#222222" stroke-width="0.15" textLength="3.50" lengthAdjust="spacingAndGlyphs">8</text>
<line x1="439.80" y1="95.40" x2="439.80" y2="98.20" stroke="#262626" stroke-width="0.95"/>
<text x="439.80" y="105.00" font-size="6.6" text-anchor="middle" stroke="#222222" stroke-width="0.15" textLength="7.00" lengthAdjust="spacingAndGlyphs">10</text>
<line x1="504.20" y1="95.40" x2="504.20" y2="98.20" stroke="#262626" stroke-width="0.95"/>
<text x="504.20" y="105.00" font-size="6.6" text-anchor="middle" stroke="#222222" stroke-width="0.15" textLength="7.00" lengthAdjust="spacingAndGlyphs">10</text>
<line x1="446.00" y1="19.70" x2="446.00" y2="95.40" stroke="#333" stroke-width="1.15" stroke-dasharray="2.4,1.5"/>
<line x1="387.60" y1="51.40" x2="387.60" y2="71.30" stroke="#c4233f" stroke-width="0.65"/>
<line x1="386.30" y1="51.40" x2="388.90" y2="51.40" stroke="#c4233f" stroke-width="0.75"/>
<line x1="386.30" y1="71.30" x2="388.90" y2="71.30" stroke="#c4233f" stroke-width="0.75"/>
<rect x="385.40" y="53.30" width="4.40" height="15.70" fill="#e5677a" stroke="#c4233f" stroke-width="0.5"/>
<line x1="385.40" y1="59.76" x2="389.80" y2="59.76" stroke="#ad0c29" stroke-width="0.8"/>
<circle cx="388.64" cy="56.85" r="0.7" fill="#ad0c29"/>
<circle cx="387.56" cy="65.44" r="0.7" fill="#ad0c29"/>
<circle cx="386.96" cy="54.74" r="0.7" fill="#ad0c29"/>
<circle cx="388.34" cy="65.63" r="0.7" fill="#ad0c29"/>
<circle cx="386.33" cy="63.18" r="0.7" fill="#ad0c29"/>
<circle cx="389.27" cy="62.25" r="0.7" fill="#ad0c29"/>
<circle cx="386.54" cy="56.25" r="0.7" fill="#ad0c29"/>
<circle cx="386.28" cy="67.97" r="0.7" fill="#ad0c29"/>
<circle cx="387.79" cy="57.62" r="0.7" fill="#ad0c29"/>
<circle cx="386.98" cy="61.64" r="0.7" fill="#ad0c29"/>
<circle cx="388.07" cy="68.49" r="0.7" fill="#ad0c29"/>
<circle cx="389.09" cy="56.76" r="0.7" fill="#ad0c29"/>
<circle cx="389.20" cy="62.25" r="0.7" fill="#ad0c29"/>
<circle cx="386.20" cy="59.04" r="0.7" fill="#ad0c29"/>
<circle cx="387.35" cy="57.93" r="0.7" fill="#ad0c29"/>
<circle cx="386.55" cy="56.06" r="0.7" fill="#ad0c29"/>
<circle cx="387.64" cy="59.46" r="0.7" fill="#ad0c29"/>
<circle cx="387.20" cy="57.51" r="0.7" fill="#ad0c29"/>
<circle cx="386.26" cy="64.94" r="0.7" fill="#ad0c29"/>
<circle cx="389.08" cy="59.02" r="0.7" fill="#ad0c29"/>
<circle cx="388.69" cy="53.32" r="0.7" fill="#ad0c29"/>
<circle cx="387.98" cy="68.92" r="0.7" fill="#ad0c29"/>
<circle cx="389.07" cy="63.13" r="0.7" fill="#ad0c29"/>
<circle cx="387.99" cy="66.61" r="0.7" fill="#ad0c29"/>
<circle cx="388.11" cy="67.10" r="0.7" fill="#ad0c29"/>
<circle cx="385.93" cy="59.70" r="0.7" fill="#ad0c29"/>
<circle cx="387.60" cy="51.90" r="0.7" fill="#ad0c29"/>
<circle cx="387.60" cy="70.80" r="0.7" fill="#ad0c29"/>
<line x1="395.00" y1="62.90" x2="395.00" y2="80.20" stroke="#c4233f" stroke-width="0.65"/>
<line x1="393.70" y1="62.90" x2="396.30" y2="62.90" stroke="#c4233f" stroke-width="0.75"/>
<line x1="393.70" y1="80.20" x2="396.30" y2="80.20" stroke="#c4233f" stroke-width="0.75"/>
<rect x="392.80" y="68.40" width="4.40" height="10.40" fill="#e5677a" stroke="#c4233f" stroke-width="0.5"/>
<line x1="392.80" y1="73.95" x2="397.20" y2="73.95" stroke="#ad0c29" stroke-width="0.8"/>
<circle cx="394.66" cy="74.37" r="0.7" fill="#ad0c29"/>
<circle cx="396.20" cy="73.30" r="0.7" fill="#ad0c29"/>
<circle cx="393.99" cy="70.43" r="0.7" fill="#ad0c29"/>
<circle cx="394.19" cy="68.93" r="0.7" fill="#ad0c29"/>
<circle cx="393.60" cy="72.01" r="0.7" fill="#ad0c29"/>
<circle cx="396.39" cy="76.11" r="0.7" fill="#ad0c29"/>
<circle cx="396.12" cy="69.95" r="0.7" fill="#ad0c29"/>
<circle cx="393.96" cy="74.51" r="0.7" fill="#ad0c29"/>
<circle cx="396.64" cy="73.04" r="0.7" fill="#ad0c29"/>
<circle cx="394.62" cy="76.48" r="0.7" fill="#ad0c29"/>
<circle cx="396.81" cy="69.66" r="0.7" fill="#ad0c29"/>
<circle cx="393.51" cy="71.46" r="0.7" fill="#ad0c29"/>
<circle cx="394.23" cy="70.24" r="0.7" fill="#ad0c29"/>
<circle cx="396.57" cy="69.99" r="0.7" fill="#ad0c29"/>
<circle cx="394.75" cy="74.59" r="0.7" fill="#ad0c29"/>
<circle cx="394.13" cy="75.20" r="0.7" fill="#ad0c29"/>
<circle cx="395.40" cy="75.50" r="0.7" fill="#ad0c29"/>
<circle cx="395.34" cy="69.58" r="0.7" fill="#ad0c29"/>
<circle cx="396.60" cy="71.32" r="0.7" fill="#ad0c29"/>
<circle cx="393.05" cy="71.00" r="0.7" fill="#ad0c29"/>
<circle cx="395.30" cy="70.21" r="0.7" fill="#ad0c29"/>
<circle cx="395.00" cy="63.40" r="0.7" fill="#ad0c29"/>
<circle cx="395.00" cy="79.70" r="0.7" fill="#ad0c29"/>
<line x1="402.50" y1="68.40" x2="402.50" y2="84.70" stroke="#c4233f" stroke-width="0.65"/>
<line x1="401.20" y1="68.40" x2="403.80" y2="68.40" stroke="#c4233f" stroke-width="0.75"/>
<line x1="401.20" y1="84.70" x2="403.80" y2="84.70" stroke="#c4233f" stroke-width="0.75"/>
<rect x="400.30" y="71.70" width="4.40" height="7.80" fill="#e5677a" stroke="#c4233f" stroke-width="0.5"/>
<line x1="400.30" y1="74.90" x2="404.70" y2="74.90" stroke="#ad0c29" stroke-width="0.8"/>
<circle cx="401.09" cy="76.04" r="0.7" fill="#ad0c29"/>
<circle cx="403.92" cy="74.58" r="0.7" fill="#ad0c29"/>
<circle cx="400.87" cy="74.75" r="0.7" fill="#ad0c29"/>
<circle cx="402.38" cy="74.44" r="0.7" fill="#ad0c29"/>
<circle cx="401.99" cy="74.16" r="0.7" fill="#ad0c29"/>
<circle cx="403.39" cy="77.14" r="0.7" fill="#ad0c29"/>
<circle cx="404.48" cy="77.61" r="0.7" fill="#ad0c29"/>
<circle cx="403.89" cy="79.09" r="0.7" fill="#ad0c29"/>
<circle cx="401.94" cy="75.73" r="0.7" fill="#ad0c29"/>
<circle cx="402.04" cy="73.67" r="0.7" fill="#ad0c29"/>
<circle cx="401.62" cy="75.66" r="0.7" fill="#ad0c29"/>
<circle cx="401.62" cy="71.75" r="0.7" fill="#ad0c29"/>
<circle cx="400.85" cy="71.70" r="0.7" fill="#ad0c29"/>
<circle cx="402.42" cy="71.50" r="0.7" fill="#ad0c29"/>
<circle cx="403.42" cy="78.38" r="0.7" fill="#ad0c29"/>
<circle cx="400.76" cy="76.64" r="0.7" fill="#ad0c29"/>
<circle cx="402.39" cy="73.72" r="0.7" fill="#ad0c29"/>
<circle cx="402.03" cy="72.80" r="0.7" fill="#ad0c29"/>
<circle cx="403.26" cy="72.02" r="0.7" fill="#ad0c29"/>
<circle cx="402.50" cy="68.90" r="0.7" fill="#ad0c29"/>
<circle cx="402.50" cy="84.20" r="0.7" fill="#ad0c29"/>
<line x1="409.80" y1="68.40" x2="409.80" y2="86.00" stroke="#c4233f" stroke-width="0.65"/>
<line x1="408.50" y1="68.40" x2="411.10" y2="68.40" stroke="#c4233f" stroke-width="0.75"/>
<line x1="408.50" y1="86.00" x2="411.10" y2="86.00" stroke="#c4233f" stroke-width="0.75"/>
<rect x="407.60" y="73.00" width="4.40" height="8.50" fill="#e5677a" stroke="#c4233f" stroke-width="0.5"/>
<line x1="407.60" y1="76.82" x2="412.00" y2="76.82" stroke="#ad0c29" stroke-width="0.8"/>
<circle cx="411.38" cy="79.67" r="0.7" fill="#ad0c29"/>
<circle cx="409.71" cy="81.29" r="0.7" fill="#ad0c29"/>
<circle cx="411.16" cy="83.86" r="0.7" fill="#ad0c29"/>
<circle cx="409.40" cy="80.61" r="0.7" fill="#ad0c29"/>
<circle cx="410.41" cy="81.19" r="0.7" fill="#ad0c29"/>
<circle cx="408.41" cy="84.49" r="0.7" fill="#ad0c29"/>
<circle cx="411.66" cy="79.42" r="0.7" fill="#ad0c29"/>
<circle cx="410.73" cy="79.77" r="0.7" fill="#ad0c29"/>
<circle cx="410.83" cy="79.91" r="0.7" fill="#ad0c29"/>
<circle cx="407.83" cy="81.54" r="0.7" fill="#ad0c29"/>
<circle cx="410.70" cy="79.75" r="0.7" fill="#ad0c29"/>
<circle cx="409.27" cy="75.98" r="0.7" fill="#ad0c29"/>
<circle cx="411.67" cy="80.03" r="0.7" fill="#ad0c29"/>
<circle cx="411.21" cy="77.33" r="0.7" fill="#ad0c29"/>
<circle cx="410.03" cy="81.03" r="0.7" fill="#ad0c29"/>
<circle cx="409.73" cy="78.89" r="0.7" fill="#ad0c29"/>
<circle cx="410.78" cy="77.80" r="0.7" fill="#ad0c29"/>
<circle cx="408.12" cy="74.43" r="0.7" fill="#ad0c29"/>
<circle cx="410.73" cy="80.80" r="0.7" fill="#ad0c29"/>
<circle cx="409.80" cy="68.90" r="0.7" fill="#ad0c29"/>
<circle cx="409.80" cy="85.50" r="0.7" fill="#ad0c29"/>
<line x1="417.50" y1="63.20" x2="417.50" y2="85.40" stroke="#c4233f" stroke-width="0.65"/>
<line x1="416.20" y1="63.20" x2="418.80" y2="63.20" stroke="#c4233f" stroke-width="0.75"/>
<line x1="416.20" y1="85.40" x2="418.80" y2="85.40" stroke="#c4233f" stroke-width="0.75"/>
<rect x="415.30" y="73.60" width="4.40" height="10.40" fill="#e5677a" stroke="#c4233f" stroke-width="0.5"/>
<line x1="415.30" y1="78.07" x2="419.70" y2="78.07" stroke="#ad0c29" stroke-width="0.8"/>
<circle cx="416.82" cy="63.59" r="0.7" fill="#ad0c29"/>
<circle cx="417.35" cy="78.11" r="0.7" fill="#ad0c29"/>
<circle cx="415.72" cy="75.27" r="0.7" fill="#ad0c29"/>
<circle cx="418.22" cy="81.67" r="0.7" fill="#ad0c29"/>
<circle cx="417.74" cy="75.22" r="0.7" fill="#ad0c29"/>
<circle cx="419.26" cy="81.06" r="0.7" fill="#ad0c29"/>
<circle cx="415.54" cy="72.14" r="0.7" fill="#ad0c29"/>
<circle cx="416.71" cy="65.21" r="0.7" fill="#ad0c29"/>
<circle cx="415.90" cy="77.93" r="0.7" fill="#ad0c29"/>
<circle cx="418.88" cy="69.58" r="0.7" fill="#ad0c29"/>
<circle cx="416.52" cy="79.19" r="0.7" fill="#ad0c29"/>
<circle cx="415.88" cy="75.10" r="0.7" fill="#ad0c29"/>
<circle cx="417.08" cy="83.82" r="0.7" fill="#ad0c29"/>
<circle cx="418.83" cy="81.95" r="0.7" fill="#ad0c29"/>
<circle cx="418.34" cy="83.80" r="0.7" fill="#ad0c29"/>
<circle cx="419.06" cy="74.73" r="0.7" fill="#ad0c29"/>
<circle cx="415.78" cy="73.86" r="0.7" fill="#ad0c29"/>
<circle cx="419.30" cy="78.50" r="0.7" fill="#ad0c29"/>
<circle cx="419.08" cy="83.99" r="0.7" fill="#ad0c29"/>
<circle cx="417.56" cy="76.26" r="0.7" fill="#ad0c29"/>
<circle cx="419.12" cy="80.34" r="0.7" fill="#ad0c29"/>
<circle cx="417.50" cy="63.70" r="0.7" fill="#ad0c29"/>
<circle cx="417.50" cy="84.90" r="0.7" fill="#ad0c29"/>
<line x1="424.90" y1="69.40" x2="424.90" y2="84.00" stroke="#c4233f" stroke-width="0.65"/>
<line x1="423.60" y1="69.40" x2="426.20" y2="69.40" stroke="#c4233f" stroke-width="0.75"/>
<line x1="423.60" y1="84.00" x2="426.20" y2="84.00" stroke="#c4233f" stroke-width="0.75"/>
<rect x="422.70" y="73.00" width="4.40" height="8.50" fill="#e5677a" stroke="#c4233f" stroke-width="0.5"/>
<line x1="422.70" y1="77.98" x2="427.10" y2="77.98" stroke="#ad0c29" stroke-width="0.8"/>
<circle cx="423.08" cy="79.96" r="0.7" fill="#ad0c29"/>
<circle cx="423.10" cy="78.63" r="0.7" fill="#ad0c29"/>
<circle cx="425.96" cy="76.93" r="0.7" fill="#ad0c29"/>
<circle cx="422.94" cy="75.70" r="0.7" fill="#ad0c29"/>
<circle cx="424.24" cy="75.16" r="0.7" fill="#ad0c29"/>
<circle cx="423.02" cy="76.26" r="0.7" fill="#ad0c29"/>
<circle cx="423.36" cy="78.97" r="0.7" fill="#ad0c29"/>
<circle cx="425.76" cy="76.68" r="0.7" fill="#ad0c29"/>
<circle cx="424.99" cy="76.55" r="0.7" fill="#ad0c29"/>
<circle cx="424.33" cy="73.48" r="0.7" fill="#ad0c29"/>
<circle cx="426.84" cy="73.56" r="0.7" fill="#ad0c29"/>
<circle cx="423.04" cy="80.05" r="0.7" fill="#ad0c29"/>
<circle cx="424.93" cy="80.18" r="0.7" fill="#ad0c29"/>
<circle cx="424.40" cy="73.24" r="0.7" fill="#ad0c29"/>
<circle cx="424.25" cy="74.78" r="0.7" fill="#ad0c29"/>
<circle cx="425.65" cy="83.78" r="0.7" fill="#ad0c29"/>
<circle cx="424.16" cy="80.26" r="0.7" fill="#ad0c29"/>
<circle cx="424.11" cy="78.77" r="0.7" fill="#ad0c29"/>
<circle cx="423.12" cy="75.35" r="0.7" fill="#ad0c29"/>
<circle cx="424.90" cy="69.90" r="0.7" fill="#ad0c29"/>
<circle cx="424.90" cy="83.50" r="0.7" fill="#ad0c29"/>
<line x1="432.30" y1="56.40" x2="432.30" y2="87.30" stroke="#c4233f" stroke-width="0.65"/>
<line x1="431.00" y1="56.40" x2="433.60" y2="56.40" stroke="#c4233f" stroke-width="0.75"/>
<line x1="431.00" y1="87.30" x2="433.60" y2="87.30" stroke="#c4233f" stroke-width="0.75"/>
<rect x="430.10" y="73.60" width="4.40" height="7.90" fill="#e5677a" stroke="#c4233f" stroke-width="0.5"/>
<line x1="430.10" y1="77.65" x2="434.50" y2="77.65" stroke="#ad0c29" stroke-width="0.8"/>
<circle cx="430.56" cy="78.58" r="0.7" fill="#ad0c29"/>
<circle cx="431.21" cy="76.87" r="0.7" fill="#ad0c29"/>
<circle cx="433.28" cy="80.30" r="0.7" fill="#ad0c29"/>
<circle cx="431.08" cy="75.17" r="0.7" fill="#ad0c29"/>
<circle cx="431.40" cy="78.56" r="0.7" fill="#ad0c29"/>
<circle cx="434.12" cy="70.20" r="0.7" fill="#ad0c29"/>
<circle cx="433.20" cy="80.20" r="0.7" fill="#ad0c29"/>
<circle cx="432.33" cy="78.18" r="0.7" fill="#ad0c29"/>
<circle cx="432.00" cy="79.06" r="0.7" fill="#ad0c29"/>
<circle cx="432.57" cy="75.94" r="0.7" fill="#ad0c29"/>
<circle cx="431.22" cy="75.46" r="0.7" fill="#ad0c29"/>
<circle cx="431.50" cy="76.07" r="0.7" fill="#ad0c29"/>
<circle cx="430.88" cy="79.45" r="0.7" fill="#ad0c29"/>
<circle cx="433.90" cy="58.33" r="0.7" fill="#ad0c29"/>
<circle cx="432.24" cy="78.28" r="0.7" fill="#ad0c29"/>
<circle cx="432.10" cy="77.82" r="0.7" fill="#ad0c29"/>
<circle cx="431.85" cy="71.76" r="0.7" fill="#ad0c29"/>
<circle cx="432.81" cy="78.19" r="0.7" fill="#ad0c29"/>
<circle cx="431.29" cy="75.28" r="0.7" fill="#ad0c29"/>
<circle cx="432.30" cy="56.90" r="0.7" fill="#ad0c29"/>
<circle cx="432.30" cy="86.80" r="0.7" fill="#ad0c29"/>
<line x1="439.80" y1="71.30" x2="439.80" y2="88.00" stroke="#c4233f" stroke-width="0.65"/>
<line x1="438.50" y1="71.30" x2="441.10" y2="71.30" stroke="#c4233f" stroke-width="0.75"/>
<line x1="438.50" y1="88.00" x2="441.10" y2="88.00" stroke="#c4233f" stroke-width="0.75"/>
<rect x="437.60" y="74.90" width="4.40" height="6.60" fill="#e5677a" stroke="#c4233f" stroke-width="0.5"/>
<line x1="437.60" y1="78.82" x2="442.00" y2="78.82" stroke="#ad0c29" stroke-width="0.8"/>
<circle cx="440.93" cy="81.00" r="0.7" fill="#ad0c29"/>
<circle cx="438.44" cy="77.72" r="0.7" fill="#ad0c29"/>
<circle cx="439.97" cy="76.22" r="0.7" fill="#ad0c29"/>
<circle cx="439.39" cy="80.39" r="0.7" fill="#ad0c29"/>
<circle cx="440.64" cy="79.11" r="0.7" fill="#ad0c29"/>
<circle cx="438.48" cy="77.58" r="0.7" fill="#ad0c29"/>
<circle cx="439.67" cy="80.38" r="0.7" fill="#ad0c29"/>
<circle cx="440.78" cy="78.96" r="0.7" fill="#ad0c29"/>
<circle cx="439.85" cy="85.67" r="0.7" fill="#ad0c29"/>
<circle cx="440.95" cy="81.15" r="0.7" fill="#ad0c29"/>
<circle cx="439.92" cy="80.99" r="0.7" fill="#ad0c29"/>
<circle cx="439.90" cy="72.79" r="0.7" fill="#ad0c29"/>
<circle cx="438.00" cy="79.04" r="0.7" fill="#ad0c29"/>
<circle cx="439.69" cy="79.14" r="0.7" fill="#ad0c29"/>
<circle cx="440.13" cy="78.79" r="0.7" fill="#ad0c29"/>
<circle cx="439.02" cy="78.52" r="0.7" fill="#ad0c29"/>
<circle cx="440.68" cy="81.42" r="0.7" fill="#ad0c29"/>
<circle cx="439.80" cy="71.80" r="0.7" fill="#ad0c29"/>
<circle cx="439.80" cy="87.50" r="0.7" fill="#ad0c29"/>
<line x1="452.10" y1="51.60" x2="452.10" y2="71.00" stroke="#62b8e6" stroke-width="0.65"/>
<line x1="450.80" y1="51.60" x2="453.40" y2="51.60" stroke="#62b8e6" stroke-width="0.75"/>
<line x1="450.80" y1="71.00" x2="453.40" y2="71.00" stroke="#62b8e6" stroke-width="0.75"/>
<rect x="449.90" y="57.30" width="4.40" height="11.10" fill="#b3def5" stroke="#62b8e6" stroke-width="0.5"/>
<line x1="449.90" y1="63.04" x2="454.30" y2="63.04" stroke="#3b9fd9" stroke-width="0.8"/>
<circle cx="453.31" cy="58.01" r="0.7" fill="#3b9fd9"/>
<circle cx="450.84" cy="65.13" r="0.7" fill="#3b9fd9"/>
<circle cx="452.77" cy="64.35" r="0.7" fill="#3b9fd9"/>
<circle cx="450.97" cy="67.44" r="0.7" fill="#3b9fd9"/>
<circle cx="452.95" cy="60.48" r="0.7" fill="#3b9fd9"/>
<circle cx="453.35" cy="64.66" r="0.7" fill="#3b9fd9"/>
<circle cx="451.33" cy="54.72" r="0.7" fill="#3b9fd9"/>
<circle cx="453.70" cy="60.79" r="0.7" fill="#3b9fd9"/>
<circle cx="452.67" cy="66.11" r="0.7" fill="#3b9fd9"/>
<circle cx="453.63" cy="60.92" r="0.7" fill="#3b9fd9"/>
<circle cx="453.73" cy="58.26" r="0.7" fill="#3b9fd9"/>
<circle cx="452.75" cy="61.66" r="0.7" fill="#3b9fd9"/>
<circle cx="453.25" cy="65.95" r="0.7" fill="#3b9fd9"/>
<circle cx="451.81" cy="63.82" r="0.7" fill="#3b9fd9"/>
<circle cx="451.21" cy="52.54" r="0.7" fill="#3b9fd9"/>
<circle cx="450.66" cy="66.45" r="0.7" fill="#3b9fd9"/>
<circle cx="450.87" cy="66.61" r="0.7" fill="#3b9fd9"/>
<circle cx="452.11" cy="59.38" r="0.7" fill="#3b9fd9"/>
<circle cx="452.28" cy="56.56" r="0.7" fill="#3b9fd9"/>
<circle cx="451.92" cy="62.78" r="0.7" fill="#3b9fd9"/>
<circle cx="452.31" cy="63.92" r="0.7" fill="#3b9fd9"/>
<circle cx="452.10" cy="52.10" r="0.7" fill="#3b9fd9"/>
<circle cx="452.10" cy="70.50" r="0.7" fill="#3b9fd9"/>
<line x1="459.40" y1="54.70" x2="459.40" y2="76.20" stroke="#62b8e6" stroke-width="0.65"/>
<line x1="458.10" y1="54.70" x2="460.70" y2="54.70" stroke="#62b8e6" stroke-width="0.75"/>
<line x1="458.10" y1="76.20" x2="460.70" y2="76.20" stroke="#62b8e6" stroke-width="0.75"/>
<rect x="457.20" y="59.20" width="4.40" height="10.50" fill="#b3def5" stroke="#62b8e6" stroke-width="0.5"/>
<line x1="457.20" y1="64.99" x2="461.60" y2="64.99" stroke="#3b9fd9" stroke-width="0.8"/>
<circle cx="458.48" cy="65.99" r="0.7" fill="#3b9fd9"/>
<circle cx="457.47" cy="62.12" r="0.7" fill="#3b9fd9"/>
<circle cx="461.23" cy="67.04" r="0.7" fill="#3b9fd9"/>
<circle cx="457.89" cy="68.31" r="0.7" fill="#3b9fd9"/>
<circle cx="458.35" cy="68.94" r="0.7" fill="#3b9fd9"/>
<circle cx="459.76" cy="69.06" r="0.7" fill="#3b9fd9"/>
<circle cx="458.84" cy="59.52" r="0.7" fill="#3b9fd9"/>
<circle cx="459.06" cy="60.06" r="0.7" fill="#3b9fd9"/>
<circle cx="459.68" cy="60.21" r="0.7" fill="#3b9fd9"/>
<circle cx="458.54" cy="66.73" r="0.7" fill="#3b9fd9"/>
<circle cx="458.41" cy="63.92" r="0.7" fill="#3b9fd9"/>
<circle cx="460.06" cy="67.54" r="0.7" fill="#3b9fd9"/>
<circle cx="457.62" cy="64.07" r="0.7" fill="#3b9fd9"/>
<circle cx="460.45" cy="59.67" r="0.7" fill="#3b9fd9"/>
<circle cx="459.42" cy="66.91" r="0.7" fill="#3b9fd9"/>
<circle cx="460.00" cy="69.04" r="0.7" fill="#3b9fd9"/>
<circle cx="458.83" cy="60.21" r="0.7" fill="#3b9fd9"/>
<circle cx="459.10" cy="73.22" r="0.7" fill="#3b9fd9"/>
<circle cx="457.59" cy="67.81" r="0.7" fill="#3b9fd9"/>
<circle cx="461.22" cy="64.33" r="0.7" fill="#3b9fd9"/>
<circle cx="460.26" cy="62.93" r="0.7" fill="#3b9fd9"/>
<circle cx="459.40" cy="55.20" r="0.7" fill="#3b9fd9"/>
<circle cx="459.40" cy="75.70" r="0.7" fill="#3b9fd9"/>
<line x1="466.90" y1="43.80" x2="466.90" y2="80.40" stroke="#62b8e6" stroke-width="0.65"/>
<line x1="465.60" y1="43.80" x2="468.20" y2="43.80" stroke="#62b8e6" stroke-width="0.75"/>
<line x1="465.60" y1="80.40" x2="468.20" y2="80.40" stroke="#62b8e6" stroke-width="0.75"/>
<rect x="464.70" y="59.20" width="4.40" height="13.80" fill="#b3def5" stroke="#62b8e6" stroke-width="0.5"/>
<line x1="464.70" y1="65.56" x2="469.10" y2="65.56" stroke="#3b9fd9" stroke-width="0.8"/>
<circle cx="466.21" cy="68.20" r="0.7" fill="#3b9fd9"/>
<circle cx="467.50" cy="66.72" r="0.7" fill="#3b9fd9"/>
<circle cx="466.22" cy="72.65" r="0.7" fill="#3b9fd9"/>
<circle cx="468.67" cy="63.77" r="0.7" fill="#3b9fd9"/>
<circle cx="468.84" cy="71.86" r="0.7" fill="#3b9fd9"/>
<circle cx="465.76" cy="64.80" r="0.7" fill="#3b9fd9"/>
<circle cx="465.88" cy="61.56" r="0.7" fill="#3b9fd9"/>
<circle cx="467.31" cy="61.91" r="0.7" fill="#3b9fd9"/>
<circle cx="468.06" cy="59.19" r="0.7" fill="#3b9fd9"/>
<circle cx="465.78" cy="68.04" r="0.7" fill="#3b9fd9"/>
<circle cx="466.10" cy="69.07" r="0.7" fill="#3b9fd9"/>
<circle cx="468.81" cy="67.72" r="0.7" fill="#3b9fd9"/>
<circle cx="468.62" cy="62.25" r="0.7" fill="#3b9fd9"/>
<circle cx="466.25" cy="68.87" r="0.7" fill="#3b9fd9"/>
<circle cx="465.10" cy="59.81" r="0.7" fill="#3b9fd9"/>
<circle cx="468.18" cy="70.22" r="0.7" fill="#3b9fd9"/>
<circle cx="467.60" cy="62.07" r="0.7" fill="#3b9fd9"/>
<circle cx="467.96" cy="68.41" r="0.7" fill="#3b9fd9"/>
<circle cx="465.62" cy="70.97" r="0.7" fill="#3b9fd9"/>
<circle cx="467.22" cy="67.20" r="0.7" fill="#3b9fd9"/>
<circle cx="467.31" cy="57.17" r="0.7" fill="#3b9fd9"/>
<circle cx="464.99" cy="65.36" r="0.7" fill="#3b9fd9"/>
<circle cx="465.14" cy="60.05" r="0.7" fill="#3b9fd9"/>
<circle cx="466.36" cy="69.92" r="0.7" fill="#3b9fd9"/>
<circle cx="466.90" cy="44.30" r="0.7" fill="#3b9fd9"/>
<circle cx="466.90" cy="79.90" r="0.7" fill="#3b9fd9"/>
<line x1="474.30" y1="51.60" x2="474.30" y2="80.40" stroke="#62b8e6" stroke-width="0.65"/>
<line x1="473.00" y1="51.60" x2="475.60" y2="51.60" stroke="#62b8e6" stroke-width="0.75"/>
<line x1="473.00" y1="80.40" x2="475.60" y2="80.40" stroke="#62b8e6" stroke-width="0.75"/>
<rect x="472.10" y="60.50" width="4.40" height="11.80" fill="#b3def5" stroke="#62b8e6" stroke-width="0.5"/>
<line x1="472.10" y1="65.67" x2="476.50" y2="65.67" stroke="#3b9fd9" stroke-width="0.8"/>
<circle cx="472.43" cy="70.33" r="0.7" fill="#3b9fd9"/>
<circle cx="475.15" cy="67.02" r="0.7" fill="#3b9fd9"/>
<circle cx="473.63" cy="62.93" r="0.7" fill="#3b9fd9"/>
<circle cx="473.28" cy="76.38" r="0.7" fill="#3b9fd9"/>
<circle cx="474.80" cy="65.61" r="0.7" fill="#3b9fd9"/>
<circle cx="476.10" cy="53.05" r="0.7" fill="#3b9fd9"/>
<circle cx="474.95" cy="64.24" r="0.7" fill="#3b9fd9"/>
<circle cx="474.12" cy="68.03" r="0.7" fill="#3b9fd9"/>
<circle cx="476.17" cy="66.09" r="0.7" fill="#3b9fd9"/>
<circle cx="472.33" cy="61.82" r="0.7" fill="#3b9fd9"/>
<circle cx="475.01" cy="64.01" r="0.7" fill="#3b9fd9"/>
<circle cx="472.48" cy="57.07" r="0.7" fill="#3b9fd9"/>
<circle cx="473.02" cy="65.33" r="0.7" fill="#3b9fd9"/>
<circle cx="472.85" cy="71.82" r="0.7" fill="#3b9fd9"/>
<circle cx="472.51" cy="72.13" r="0.7" fill="#3b9fd9"/>
<circle cx="473.55" cy="66.83" r="0.7" fill="#3b9fd9"/>
<circle cx="474.44" cy="66.42" r="0.7" fill="#3b9fd9"/>
<circle cx="476.15" cy="67.25" r="0.7" fill="#3b9fd9"/>
<circle cx="475.78" cy="67.11" r="0.7" fill="#3b9fd9"/>
<circle cx="476.22" cy="67.94" r="0.7" fill="#3b9fd9"/>
<circle cx="474.22" cy="62.34" r="0.7" fill="#3b9fd9"/>
<circle cx="475.41" cy="63.83" r="0.7" fill="#3b9fd9"/>
<circle cx="474.30" cy="52.10" r="0.7" fill="#3b9fd9"/>
<circle cx="474.30" cy="79.90" r="0.7" fill="#3b9fd9"/>
<line x1="481.90" y1="57.30" x2="481.90" y2="76.90" stroke="#62b8e6" stroke-width="0.65"/>
<line x1="480.60" y1="57.30" x2="483.20" y2="57.30" stroke="#62b8e6" stroke-width="0.75"/>
<line x1="480.60" y1="76.90" x2="483.20" y2="76.90" stroke="#62b8e6" stroke-width="0.75"/>
<rect x="479.70" y="61.80" width="4.40" height="11.20" fill="#b3def5" stroke="#62b8e6" stroke-width="0.5"/>
<line x1="479.70" y1="67.40" x2="484.10" y2="67.40" stroke="#3b9fd9" stroke-width="0.8"/>
<circle cx="482.28" cy="72.60" r="0.7" fill="#3b9fd9"/>
<circle cx="482.72" cy="74.48" r="0.7" fill="#3b9fd9"/>
<circle cx="482.80" cy="61.90" r="0.7" fill="#3b9fd9"/>
<circle cx="480.43" cy="71.84" r="0.7" fill="#3b9fd9"/>
<circle cx="480.18" cy="64.06" r="0.7" fill="#3b9fd9"/>
<circle cx="482.50" cy="65.87" r="0.7" fill="#3b9fd9"/>
<circle cx="482.93" cy="64.68" r="0.7" fill="#3b9fd9"/>
<circle cx="482.55" cy="69.00" r="0.7" fill="#3b9fd9"/>
<circle cx="481.06" cy="65.72" r="0.7" fill="#3b9fd9"/>
<circle cx="480.10" cy="59.46" r="0.7" fill="#3b9fd9"/>
<circle cx="482.83" cy="72.26" r="0.7" fill="#3b9fd9"/>
<circle cx="480.65" cy="68.85" r="0.7" fill="#3b9fd9"/>
<circle cx="483.52" cy="64.42" r="0.7" fill="#3b9fd9"/>
<circle cx="481.45" cy="63.71" r="0.7" fill="#3b9fd9"/>
<circle cx="483.17" cy="69.82" r="0.7" fill="#3b9fd9"/>
<circle cx="483.02" cy="65.36" r="0.7" fill="#3b9fd9"/>
<circle cx="481.33" cy="71.81" r="0.7" fill="#3b9fd9"/>
<circle cx="482.51" cy="61.03" r="0.7" fill="#3b9fd9"/>
<circle cx="483.72" cy="61.93" r="0.7" fill="#3b9fd9"/>
<circle cx="481.57" cy="71.93" r="0.7" fill="#3b9fd9"/>
<circle cx="482.97" cy="71.22" r="0.7" fill="#3b9fd9"/>
<circle cx="480.12" cy="66.15" r="0.7" fill="#3b9fd9"/>
<circle cx="481.90" cy="57.80" r="0.7" fill="#3b9fd9"/>
<circle cx="481.90" cy="76.40" r="0.7" fill="#3b9fd9"/>
<line x1="489.40" y1="56.60" x2="489.40" y2="76.90" stroke="#62b8e6" stroke-width="0.65"/>
<line x1="488.10" y1="56.60" x2="490.70" y2="56.60" stroke="#62b8e6" stroke-width="0.75"/>
<line x1="488.10" y1="76.90" x2="490.70" y2="76.90" stroke="#62b8e6" stroke-width="0.75"/>
<rect x="487.20" y="63.20" width="4.40" height="7.10" fill="#b3def5" stroke="#62b8e6" stroke-width="0.5"/>
<line x1="487.20" y1="67.20" x2="491.60" y2="67.20" stroke="#3b9fd9" stroke-width="0.8"/>
<circle cx="488.67" cy="68.84" r="0.7" fill="#3b9fd9"/>
<circle cx="490.40" cy="60.38" r="0.7" fill="#3b9fd9"/>
<circle cx="488.72" cy="68.95" r="0.7" fill="#3b9fd9"/>
<circle cx="488.65" cy="66.40" r="0.7" fill="#3b9fd9"/>
<circle cx="490.81" cy="63.81" r="0.7" fill="#3b9fd9"/>
<circle cx="488.54" cy="64.91" r="0.7" fill="#3b9fd9"/>
<circle cx="489.53" cy="64.65" r="0.7" fill="#3b9fd9"/>
<circle cx="489.30" cy="63.23" r="0.7" fill="#3b9fd9"/>
<circle cx="489.04" cy="63.20" r="0.7" fill="#3b9fd9"/>
<circle cx="490.83" cy="58.10" r="0.7" fill="#3b9fd9"/>
<circle cx="489.77" cy="69.67" r="0.7" fill="#3b9fd9"/>
<circle cx="487.60" cy="68.76" r="0.7" fill="#3b9fd9"/>
<circle cx="491.03" cy="69.56" r="0.7" fill="#3b9fd9"/>
<circle cx="487.66" cy="66.26" r="0.7" fill="#3b9fd9"/>
<circle cx="491.34" cy="65.34" r="0.7" fill="#3b9fd9"/>
<circle cx="490.84" cy="69.54" r="0.7" fill="#3b9fd9"/>
<circle cx="488.48" cy="63.57" r="0.7" fill="#3b9fd9"/>
<circle cx="490.67" cy="69.18" r="0.7" fill="#3b9fd9"/>
<circle cx="489.40" cy="57.10" r="0.7" fill="#3b9fd9"/>
<circle cx="489.40" cy="76.40" r="0.7" fill="#3b9fd9"/>
<line x1="496.70" y1="55.30" x2="496.70" y2="82.10" stroke="#62b8e6" stroke-width="0.65"/>
<line x1="495.40" y1="55.30" x2="498.00" y2="55.30" stroke="#62b8e6" stroke-width="0.75"/>
<line x1="495.40" y1="82.10" x2="498.00" y2="82.10" stroke="#62b8e6" stroke-width="0.75"/>
<rect x="494.50" y="63.20" width="4.40" height="14.30" fill="#b3def5" stroke="#62b8e6" stroke-width="0.5"/>
<line x1="494.50" y1="70.30" x2="498.90" y2="70.30" stroke="#3b9fd9" stroke-width="0.8"/>
<circle cx="496.18" cy="66.74" r="0.7" fill="#3b9fd9"/>
<circle cx="498.45" cy="71.77" r="0.7" fill="#3b9fd9"/>
<circle cx="495.23" cy="75.09" r="0.7" fill="#3b9fd9"/>
<circle cx="496.50" cy="70.98" r="0.7" fill="#3b9fd9"/>
<circle cx="497.79" cy="68.35" r="0.7" fill="#3b9fd9"/>
<circle cx="496.32" cy="76.39" r="0.7" fill="#3b9fd9"/>
<circle cx="495.60" cy="71.08" r="0.7" fill="#3b9fd9"/>
<circle cx="494.99" cy="71.08" r="0.7" fill="#3b9fd9"/>
<circle cx="496.12" cy="71.04" r="0.7" fill="#3b9fd9"/>
<circle cx="495.91" cy="68.07" r="0.7" fill="#3b9fd9"/>
<circle cx="497.37" cy="74.18" r="0.7" fill="#3b9fd9"/>
<circle cx="495.10" cy="75.29" r="0.7" fill="#3b9fd9"/>
<circle cx="495.29" cy="64.31" r="0.7" fill="#3b9fd9"/>
<circle cx="494.97" cy="74.28" r="0.7" fill="#3b9fd9"/>
<circle cx="497.29" cy="71.77" r="0.7" fill="#3b9fd9"/>
<circle cx="497.27" cy="73.43" r="0.7" fill="#3b9fd9"/>
<circle cx="495.56" cy="67.20" r="0.7" fill="#3b9fd9"/>
<circle cx="498.17" cy="65.70" r="0.7" fill="#3b9fd9"/>
<circle cx="497.62" cy="77.36" r="0.7" fill="#3b9fd9"/>
<circle cx="498.09" cy="75.61" r="0.7" fill="#3b9fd9"/>
<circle cx="494.77" cy="69.43" r="0.7" fill="#3b9fd9"/>
<circle cx="498.26" cy="76.45" r="0.7" fill="#3b9fd9"/>
<circle cx="495.65" cy="68.41" r="0.7" fill="#3b9fd9"/>
<circle cx="497.30" cy="69.62" r="0.7" fill="#3b9fd9"/>
<circle cx="496.70" cy="55.80" r="0.7" fill="#3b9fd9"/>
<circle cx="496.70" cy="81.60" r="0.7" fill="#3b9fd9"/>
<line x1="504.20" y1="64.50" x2="504.20" y2="73.60" stroke="#62b8e6" stroke-width="0.65"/>
<line x1="502.90" y1="64.50" x2="505.50" y2="64.50" stroke="#62b8e6" stroke-width="0.75"/>
<line x1="502.90" y1="73.60" x2="505.50" y2="73.60" stroke="#62b8e6" stroke-width="0.75"/>
<rect x="502.00" y="65.10" width="4.40" height="8.50" fill="#b3def5" stroke="#62b8e6" stroke-width="0.5"/>
<line x1="502.00" y1="69.70" x2="506.40" y2="69.70" stroke="#3b9fd9" stroke-width="0.8"/>
<circle cx="502.87" cy="66.41" r="0.7" fill="#3b9fd9"/>
<circle cx="504.44" cy="70.05" r="0.7" fill="#3b9fd9"/>
<circle cx="503.44" cy="70.71" r="0.7" fill="#3b9fd9"/>
<circle cx="504.57" cy="72.71" r="0.7" fill="#3b9fd9"/>
<circle cx="503.10" cy="67.77" r="0.7" fill="#3b9fd9"/>
<circle cx="502.34" cy="67.42" r="0.7" fill="#3b9fd9"/>
<circle cx="504.20" cy="69.35" r="0.7" fill="#3b9fd9"/>
<circle cx="504.67" cy="69.30" r="0.7" fill="#3b9fd9"/>
<circle cx="503.04" cy="73.59" r="0.7" fill="#3b9fd9"/>
<circle cx="502.40" cy="66.52" r="0.7" fill="#3b9fd9"/>
<circle cx="505.02" cy="67.76" r="0.7" fill="#3b9fd9"/>
<circle cx="505.02" cy="67.97" r="0.7" fill="#3b9fd9"/>
<circle cx="503.08" cy="67.03" r="0.7" fill="#3b9fd9"/>
<circle cx="504.50" cy="66.52" r="0.7" fill="#3b9fd9"/>
<circle cx="504.94" cy="68.20" r="0.7" fill="#3b9fd9"/>
<circle cx="504.00" cy="68.31" r="0.7" fill="#3b9fd9"/>
<circle cx="503.96" cy="70.58" r="0.7" fill="#3b9fd9"/>
<circle cx="505.50" cy="70.60" r="0.7" fill="#3b9fd9"/>
<circle cx="502.92" cy="72.48" r="0.7" fill="#3b9fd9"/>
<circle cx="504.20" cy="65.00" r="0.7" fill="#3b9fd9"/>
<circle cx="504.20" cy="73.10" r="0.7" fill="#3b9fd9"/>
<text x="386.30" y="16.20" font-size="6.0" fill="#c50f2e" font-style="italic" textLength="55.00" lengthAdjust="spacingAndGlyphs">Ppm1d<tspan font-size="72%" dy="-2.6">f/f</tspan><tspan dy="2.6">; Mx-Cre+</tspan></text>
<text x="450.80" y="16.20" font-size="6.0" fill="#45ace3" font-style="italic" textLength="53.50" lengthAdjust="spacingAndGlyphs">Ppm1d<tspan font-size="72%" dy="-2.6">f/f</tspan><tspan dy="2.6">; Mx-Cre-</tspan></text>
<text x="444.90" y="115.40" font-size="8.6" text-anchor="middle" stroke="#222222" stroke-width="0.15" textLength="52.00" lengthAdjust="spacingAndGlyphs">Months after pIpC</text>
<text x="366.30" y="57.70" font-size="8.4" text-anchor="middle" stroke="#222222" stroke-width="0.15" textLength="57.80" lengthAdjust="spacingAndGlyphs" transform="rotate(-90 366.30 57.70)">Lymphocytes (K/uL)</text>
<line x1="222.80" y1="138.40" x2="222.80" y2="211.60" stroke="#262626" stroke-width="1.35"/>
<line x1="220.00" y1="211.00" x2="222.80" y2="211.00" stroke="#262626" stroke-width="0.95"/>
<text x="218.80" y="213.38" font-size="6.6" text-anchor="end" stroke="#222222" stroke-width="0.15" textLength="3.30" lengthAdjust="spacingAndGlyphs">0</text>
<line x1="220.00" y1="196.56" x2="222.80" y2="196.56" stroke="#262626" stroke-width="0.95"/>
<text x="218.80" y="198.94" font-size="6.6" text-anchor="end" stroke="#222222" stroke-width="0.15" textLength="9.90" lengthAdjust="spacingAndGlyphs">500</text>
<line x1="220.00" y1="182.12" x2="222.80" y2="182.12" stroke="#262626" stroke-width="0.95"/>
<text x="218.80" y="184.50" font-size="6.6" text-anchor="end" stroke="#222222" stroke-width="0.15" textLength="13.20" lengthAdjust="spacingAndGlyphs">1000</text>
<line x1="220.00" y1="167.68" x2="222.80" y2="167.68" stroke="#262626" stroke-width="0.95"/>
<text x="218.80" y="170.06" font-size="6.6" text-anchor="end" stroke="#222222" stroke-width="0.15" textLength="13.20" lengthAdjust="spacingAndGlyphs">1500</text>
<line x1="220.00" y1="153.24" x2="222.80" y2="153.24" stroke="#262626" stroke-width="0.95"/>
<text x="218.80" y="155.62" font-size="6.6" text-anchor="end" stroke="#222222" stroke-width="0.15" textLength="13.20" lengthAdjust="spacingAndGlyphs">2000</text>
<line x1="220.00" y1="138.80" x2="222.80" y2="138.80" stroke="#262626" stroke-width="0.95"/>
<text x="218.80" y="141.18" font-size="6.6" text-anchor="end" stroke="#222222" stroke-width="0.15" textLength="13.20" lengthAdjust="spacingAndGlyphs">2500</text>
<line x1="222.20" y1="211.00" x2="349.40" y2="211.00" stroke="#262626" stroke-width="1.35"/>
<line x1="227.80" y1="211.00" x2="227.80" y2="213.80" stroke="#262626" stroke-width="0.95"/>
<text x="227.80" y="220.60" font-size="6.6" text-anchor="middle" stroke="#222222" stroke-width="0.15" textLength="3.50" lengthAdjust="spacingAndGlyphs">0</text>
<line x1="292.80" y1="211.00" x2="292.80" y2="213.80" stroke="#262626" stroke-width="0.95"/>
<text x="292.80" y="220.60" font-size="6.6" text-anchor="middle" stroke="#222222" stroke-width="0.15" textLength="3.50" lengthAdjust="spacingAndGlyphs">0</text>
<line x1="235.40" y1="211.00" x2="235.40" y2="213.80" stroke="#262626" stroke-width="0.95"/>
<text x="235.40" y="220.60" font-size="6.6" text-anchor="middle" stroke="#222222" stroke-width="0.15" textLength="3.50" lengthAdjust="spacingAndGlyphs">1</text>
<line x1="300.00" y1="211.00" x2="300.00" y2="213.80" stroke="#262626" stroke-width="0.95"/>
<text x="300.00" y="220.60" font-size="6.6" text-anchor="middle" stroke="#222222" stroke-width="0.15" textLength="3.50" lengthAdjust="spacingAndGlyphs">1</text>
<line x1="242.90" y1="211.00" x2="242.90" y2="213.80" stroke="#262626" stroke-width="0.95"/>
<text x="242.90" y="220.60" font-size="6.6" text-anchor="middle" stroke="#222222" stroke-width="0.15" textLength="3.50" lengthAdjust="spacingAndGlyphs">3</text>
<line x1="307.50" y1="211.00" x2="307.50" y2="213.80" stroke="#262626" stroke-width="0.95"/>
<text x="307.50" y="220.60" font-size="6.6" text-anchor="middle" stroke="#222222" stroke-width="0.15" textLength="3.50" lengthAdjust="spacingAndGlyphs">3</text>
<line x1="250.30" y1="211.00" x2="250.30" y2="213.80" stroke="#262626" stroke-width="0.95"/>
<text x="250.30" y="220.60" font-size="6.6" text-anchor="middle" stroke="#222222" stroke-width="0.15" textLength="3.50" lengthAdjust="spacingAndGlyphs">4</text>
<line x1="315.00" y1="211.00" x2="315.00" y2="213.80" stroke="#262626" stroke-width="0.95"/>
<text x="315.00" y="220.60" font-size="6.6" text-anchor="middle" stroke="#222222" stroke-width="0.15" textLength="3.50" lengthAdjust="spacingAndGlyphs">4</text>
<line x1="257.90" y1="211.00" x2="257.90" y2="213.80" stroke="#262626" stroke-width="0.95"/>
<text x="257.90" y="220.60" font-size="6.6" text-anchor="middle" stroke="#222222" stroke-width="0.15" textLength="3.50" lengthAdjust="spacingAndGlyphs">5</text>
<line x1="322.30" y1="211.00" x2="322.30" y2="213.80" stroke="#262626" stroke-width="0.95"/>
<text x="322.30" y="220.60" font-size="6.6" text-anchor="middle" stroke="#222222" stroke-width="0.15" textLength="3.50" lengthAdjust="spacingAndGlyphs">5</text>
<line x1="265.10" y1="211.00" x2="265.10" y2="213.80" stroke="#262626" stroke-width="0.95"/>
<text x="265.10" y="220.60" font-size="6.6" text-anchor="middle" stroke="#222222" stroke-width="0.15" textLength="3.50" lengthAdjust="spacingAndGlyphs">6</text>
<line x1="329.80" y1="211.00" x2="329.80" y2="213.80" stroke="#262626" stroke-width="0.95"/>
<text x="329.80" y="220.60" font-size="6.6" text-anchor="middle" stroke="#222222" stroke-width="0.15" textLength="3.50" lengthAdjust="spacingAndGlyphs">6</text>
<line x1="272.70" y1="211.00" x2="272.70" y2="213.80" stroke="#262626" stroke-width="0.95"/>
<text x="272.70" y="220.60" font-size="6.6" text-anchor="middle" stroke="#222222" stroke-width="0.15" textLength="3.50" lengthAdjust="spacingAndGlyphs">8</text>
<line x1="337.20" y1="211.00" x2="337.20" y2="213.80" stroke="#262626" stroke-width="0.95"/>
<text x="337.20" y="220.60" font-size="6.6" text-anchor="middle" stroke="#222222" stroke-width="0.15" textLength="3.50" lengthAdjust="spacingAndGlyphs">8</text>
<line x1="280.20" y1="211.00" x2="280.20" y2="213.80" stroke="#262626" stroke-width="0.95"/>
<text x="280.20" y="220.60" font-size="6.6" text-anchor="middle" stroke="#222222" stroke-width="0.15" textLength="7.00" lengthAdjust="spacingAndGlyphs">10</text>
<line x1="344.50" y1="211.00" x2="344.50" y2="213.80" stroke="#262626" stroke-width="0.95"/>
<text x="344.50" y="220.60" font-size="6.6" text-anchor="middle" stroke="#222222" stroke-width="0.15" textLength="7.00" lengthAdjust="spacingAndGlyphs">10</text>
<line x1="286.00" y1="135.20" x2="286.00" y2="211.00" stroke="#333" stroke-width="1.15" stroke-dasharray="2.4,1.5"/>
<line x1="227.80" y1="168.30" x2="227.80" y2="183.40" stroke="#c4233f" stroke-width="0.65"/>
<line x1="226.50" y1="168.30" x2="229.10" y2="168.30" stroke="#c4233f" stroke-width="0.75"/>
<line x1="226.50" y1="183.40" x2="229.10" y2="183.40" stroke="#c4233f" stroke-width="0.75"/>
<rect x="225.60" y="172.30" width="4.40" height="7.20" fill="#e5677a" stroke="#c4233f" stroke-width="0.5"/>
<line x1="225.60" y1="176.30" x2="230.00" y2="176.30" stroke="#ad0c29" stroke-width="0.8"/>
<circle cx="225.94" cy="174.50" r="0.7" fill="#ad0c29"/>
<circle cx="227.57" cy="177.63" r="0.7" fill="#ad0c29"/>
<circle cx="229.53" cy="172.42" r="0.7" fill="#ad0c29"/>
<circle cx="227.86" cy="175.83" r="0.7" fill="#ad0c29"/>
<circle cx="227.15" cy="174.10" r="0.7" fill="#ad0c29"/>
<circle cx="229.38" cy="175.48" r="0.7" fill="#ad0c29"/>
<circle cx="226.91" cy="169.25" r="0.7" fill="#ad0c29"/>
<circle cx="228.44" cy="175.97" r="0.7" fill="#ad0c29"/>
<circle cx="227.09" cy="172.94" r="0.7" fill="#ad0c29"/>
<circle cx="229.04" cy="177.67" r="0.7" fill="#ad0c29"/>
<circle cx="229.39" cy="176.05" r="0.7" fill="#ad0c29"/>
<circle cx="229.42" cy="173.74" r="0.7" fill="#ad0c29"/>
<circle cx="227.28" cy="178.68" r="0.7" fill="#ad0c29"/>
<circle cx="227.97" cy="176.92" r="0.7" fill="#ad0c29"/>
<circle cx="227.24" cy="173.73" r="0.7" fill="#ad0c29"/>
<circle cx="228.54" cy="172.52" r="0.7" fill="#ad0c29"/>
<circle cx="227.42" cy="179.60" r="0.7" fill="#ad0c29"/>
<circle cx="226.06" cy="174.49" r="0.7" fill="#ad0c29"/>
<circle cx="227.80" cy="168.80" r="0.7" fill="#ad0c29"/>
<circle cx="227.80" cy="182.90" r="0.7" fill="#ad0c29"/>
<line x1="235.40" y1="171.00" x2="235.40" y2="189.30" stroke="#c4233f" stroke-width="0.65"/>
<line x1="234.10" y1="171.00" x2="236.70" y2="171.00" stroke="#c4233f" stroke-width="0.75"/>
<line x1="234.10" y1="189.30" x2="236.70" y2="189.30" stroke="#c4233f" stroke-width="0.75"/>
<rect x="233.20" y="172.70" width="4.40" height="8.10" fill="#e5677a" stroke="#c4233f" stroke-width="0.5"/>
<line x1="233.20" y1="176.80" x2="237.60" y2="176.80" stroke="#ad0c29" stroke-width="0.8"/>
<circle cx="236.57" cy="177.01" r="0.7" fill="#ad0c29"/>
<circle cx="235.85" cy="186.35" r="0.7" fill="#ad0c29"/>
<circle cx="234.59" cy="180.04" r="0.7" fill="#ad0c29"/>
<circle cx="236.97" cy="179.21" r="0.7" fill="#ad0c29"/>
<circle cx="236.28" cy="180.71" r="0.7" fill="#ad0c29"/>
<circle cx="237.19" cy="173.14" r="0.7" fill="#ad0c29"/>
<circle cx="236.48" cy="178.70" r="0.7" fill="#ad0c29"/>
<circle cx="234.62" cy="178.27" r="0.7" fill="#ad0c29"/>
<circle cx="236.95" cy="175.16" r="0.7" fill="#ad0c29"/>
<circle cx="235.31" cy="178.44" r="0.7" fill="#ad0c29"/>
<circle cx="235.18" cy="177.47" r="0.7" fill="#ad0c29"/>
<circle cx="236.91" cy="174.68" r="0.7" fill="#ad0c29"/>
<circle cx="237.05" cy="177.82" r="0.7" fill="#ad0c29"/>
<circle cx="235.06" cy="177.05" r="0.7" fill="#ad0c29"/>
<circle cx="235.54" cy="186.47" r="0.7" fill="#ad0c29"/>
<circle cx="233.60" cy="174.75" r="0.7" fill="#ad0c29"/>
<circle cx="234.98" cy="174.67" r="0.7" fill="#ad0c29"/>
<circle cx="237.02" cy="177.46" r="0.7" fill="#ad0c29"/>
<circle cx="237.14" cy="177.55" r="0.7" fill="#ad0c29"/>
<circle cx="235.40" cy="171.50" r="0.7" fill="#ad0c29"/>
<circle cx="235.40" cy="188.80" r="0.7" fill="#ad0c29"/>
<line x1="242.90" y1="167.00" x2="242.90" y2="198.40" stroke="#c4233f" stroke-width="0.65"/>
<line x1="241.60" y1="167.00" x2="244.20" y2="167.00" stroke="#c4233f" stroke-width="0.75"/>
<line x1="241.60" y1="198.40" x2="244.20" y2="198.40" stroke="#c4233f" stroke-width="0.75"/>
<rect x="240.70" y="173.60" width="4.40" height="7.80" fill="#e5677a" stroke="#c4233f" stroke-width="0.5"/>
<line x1="240.70" y1="177.77" x2="245.10" y2="177.77" stroke="#ad0c29" stroke-width="0.8"/>
<circle cx="241.24" cy="179.31" r="0.7" fill="#ad0c29"/>
<circle cx="242.12" cy="179.47" r="0.7" fill="#ad0c29"/>
<circle cx="244.06" cy="179.04" r="0.7" fill="#ad0c29"/>
<circle cx="242.30" cy="179.30" r="0.7" fill="#ad0c29"/>
<circle cx="241.49" cy="175.25" r="0.7" fill="#ad0c29"/>
<circle cx="241.12" cy="179.50" r="0.7" fill="#ad0c29"/>
<circle cx="241.23" cy="179.84" r="0.7" fill="#ad0c29"/>
<circle cx="244.41" cy="176.85" r="0.7" fill="#ad0c29"/>
<circle cx="241.89" cy="176.20" r="0.7" fill="#ad0c29"/>
<circle cx="243.59" cy="174.90" r="0.7" fill="#ad0c29"/>
<circle cx="242.22" cy="196.31" r="0.7" fill="#ad0c29"/>
<circle cx="243.71" cy="179.83" r="0.7" fill="#ad0c29"/>
<circle cx="241.42" cy="189.71" r="0.7" fill="#ad0c29"/>
<circle cx="243.55" cy="178.26" r="0.7" fill="#ad0c29"/>
<circle cx="244.81" cy="175.66" r="0.7" fill="#ad0c29"/>
<circle cx="243.87" cy="180.11" r="0.7" fill="#ad0c29"/>
<circle cx="244.53" cy="179.59" r="0.7" fill="#ad0c29"/>
<circle cx="241.64" cy="176.03" r="0.7" fill="#ad0c29"/>
<circle cx="244.01" cy="178.06" r="0.7" fill="#ad0c29"/>
<circle cx="242.90" cy="167.50" r="0.7" fill="#ad0c29"/>
<circle cx="242.90" cy="197.90" r="0.7" fill="#ad0c29"/>
<line x1="250.30" y1="163.10" x2="250.30" y2="186.00" stroke="#c4233f" stroke-width="0.65"/>
<line x1="249.00" y1="163.10" x2="251.60" y2="163.10" stroke="#c4233f" stroke-width="0.75"/>
<line x1="249.00" y1="186.00" x2="251.60" y2="186.00" stroke="#c4233f" stroke-width="0.75"/>
<rect x="248.10" y="168.30" width="4.40" height="7.20" fill="#e5677a" stroke="#c4233f" stroke-width="0.5"/>
<line x1="248.10" y1="172.59" x2="252.50" y2="172.59" stroke="#ad0c29" stroke-width="0.8"/>
<circle cx="250.11" cy="171.36" r="0.7" fill="#ad0c29"/>
<circle cx="248.33" cy="170.19" r="0.7" fill="#ad0c29"/>
<circle cx="251.00" cy="170.56" r="0.7" fill="#ad0c29"/>
<circle cx="250.87" cy="173.41" r="0.7" fill="#ad0c29"/>
<circle cx="249.46" cy="169.45" r="0.7" fill="#ad0c29"/>
<circle cx="251.25" cy="167.39" r="0.7" fill="#ad0c29"/>
<circle cx="252.28" cy="169.05" r="0.7" fill="#ad0c29"/>
<circle cx="249.89" cy="172.96" r="0.7" fill="#ad0c29"/>
<circle cx="251.28" cy="169.62" r="0.7" fill="#ad0c29"/>
<circle cx="249.43" cy="169.40" r="0.7" fill="#ad0c29"/>
<circle cx="250.29" cy="171.63" r="0.7" fill="#ad0c29"/>
<circle cx="249.40" cy="163.17" r="0.7" fill="#ad0c29"/>
<circle cx="251.37" cy="168.80" r="0.7" fill="#ad0c29"/>
<circle cx="248.51" cy="171.81" r="0.7" fill="#ad0c29"/>
<circle cx="251.88" cy="174.95" r="0.7" fill="#ad0c29"/>
<circle cx="251.04" cy="175.25" r="0.7" fill="#ad0c29"/>
<circle cx="249.57" cy="173.25" r="0.7" fill="#ad0c29"/>
<circle cx="251.88" cy="170.81" r="0.7" fill="#ad0c29"/>
<circle cx="250.30" cy="163.60" r="0.7" fill="#ad0c29"/>
<circle cx="250.30" cy="185.50" r="0.7" fill="#ad0c29"/>
<line x1="257.90" y1="166.40" x2="257.90" y2="185.30" stroke="#c4233f" stroke-width="0.65"/>
<line x1="256.60" y1="166.40" x2="259.20" y2="166.40" stroke="#c4233f" stroke-width="0.75"/>
<line x1="256.60" y1="185.30" x2="259.20" y2="185.30" stroke="#c4233f" stroke-width="0.75"/>
<rect x="255.70" y="169.70" width="4.40" height="5.20" fill="#e5677a" stroke="#c4233f" stroke-width="0.5"/>
<line x1="255.70" y1="172.18" x2="260.10" y2="172.18" stroke="#ad0c29" stroke-width="0.8"/>
<circle cx="256.19" cy="177.02" r="0.7" fill="#ad0c29"/>
<circle cx="256.58" cy="170.95" r="0.7" fill="#ad0c29"/>
<circle cx="259.68" cy="171.83" r="0.7" fill="#ad0c29"/>
<circle cx="257.15" cy="172.54" r="0.7" fill="#ad0c29"/>
<circle cx="256.55" cy="181.73" r="0.7" fill="#ad0c29"/>
<circle cx="256.67" cy="174.44" r="0.7" fill="#ad0c29"/>
<circle cx="258.21" cy="170.81" r="0.7" fill="#ad0c29"/>
<circle cx="257.73" cy="174.39" r="0.7" fill="#ad0c29"/>
<circle cx="258.21" cy="171.70" r="0.7" fill="#ad0c29"/>
<circle cx="259.62" cy="170.82" r="0.7" fill="#ad0c29"/>
<circle cx="258.89" cy="174.49" r="0.7" fill="#ad0c29"/>
<circle cx="256.90" cy="173.73" r="0.7" fill="#ad0c29"/>
<circle cx="259.07" cy="182.48" r="0.7" fill="#ad0c29"/>
<circle cx="259.50" cy="174.17" r="0.7" fill="#ad0c29"/>
<circle cx="258.18" cy="172.16" r="0.7" fill="#ad0c29"/>
<circle cx="256.98" cy="173.82" r="0.7" fill="#ad0c29"/>
<circle cx="257.90" cy="166.90" r="0.7" fill="#ad0c29"/>
<circle cx="257.90" cy="184.80" r="0.7" fill="#ad0c29"/>
<line x1="265.10" y1="163.10" x2="265.10" y2="187.30" stroke="#c4233f" stroke-width="0.65"/>
<line x1="263.80" y1="163.10" x2="266.40" y2="163.10" stroke="#c4233f" stroke-width="0.75"/>
<line x1="263.80" y1="187.30" x2="266.40" y2="187.30" stroke="#c4233f" stroke-width="0.75"/>
<rect x="262.90" y="167.00" width="4.40" height="9.80" fill="#e5677a" stroke="#c4233f" stroke-width="0.5"/>
<line x1="262.90" y1="171.54" x2="267.30" y2="171.54" stroke="#ad0c29" stroke-width="0.8"/>
<circle cx="265.19" cy="172.21" r="0.7" fill="#ad0c29"/>
<circle cx="266.40" cy="175.20" r="0.7" fill="#ad0c29"/>
<circle cx="266.53" cy="173.08" r="0.7" fill="#ad0c29"/>
<circle cx="265.01" cy="174.04" r="0.7" fill="#ad0c29"/>
<circle cx="266.35" cy="182.01" r="0.7" fill="#ad0c29"/>
<circle cx="263.76" cy="176.56" r="0.7" fill="#ad0c29"/>
<circle cx="263.56" cy="180.15" r="0.7" fill="#ad0c29"/>
<circle cx="266.91" cy="175.94" r="0.7" fill="#ad0c29"/>
<circle cx="267.06" cy="175.34" r="0.7" fill="#ad0c29"/>
<circle cx="265.65" cy="168.33" r="0.7" fill="#ad0c29"/>
<circle cx="265.78" cy="167.95" r="0.7" fill="#ad0c29"/>
<circle cx="264.65" cy="176.72" r="0.7" fill="#ad0c29"/>
<circle cx="265.87" cy="163.39" r="0.7" fill="#ad0c29"/>
<circle cx="266.09" cy="167.42" r="0.7" fill="#ad0c29"/>
<circle cx="266.96" cy="178.46" r="0.7" fill="#ad0c29"/>
<circle cx="266.10" cy="172.24" r="0.7" fill="#ad0c29"/>
<circle cx="263.33" cy="168.57" r="0.7" fill="#ad0c29"/>
<circle cx="264.12" cy="169.96" r="0.7" fill="#ad0c29"/>
<circle cx="266.13" cy="176.16" r="0.7" fill="#ad0c29"/>
<circle cx="266.36" cy="176.25" r="0.7" fill="#ad0c29"/>
<circle cx="265.10" cy="163.60" r="0.7" fill="#ad0c29"/>
<circle cx="265.10" cy="186.80" r="0.7" fill="#ad0c29"/>
<line x1="272.70" y1="158.30" x2="272.70" y2="184.40" stroke="#c4233f" stroke-width="0.65"/>
<line x1="271.40" y1="158.30" x2="274.00" y2="158.30" stroke="#c4233f" stroke-width="0.75"/>
<line x1="271.40" y1="184.40" x2="274.00" y2="184.40" stroke="#c4233f" stroke-width="0.75"/>
<rect x="270.50" y="167.70" width="4.40" height="6.50" fill="#e5677a" stroke="#c4233f" stroke-width="0.5"/>
<line x1="270.50" y1="171.11" x2="274.90" y2="171.11" stroke="#ad0c29" stroke-width="0.8"/>
<circle cx="272.77" cy="171.25" r="0.7" fill="#ad0c29"/>
<circle cx="273.72" cy="173.49" r="0.7" fill="#ad0c29"/>
<circle cx="273.18" cy="181.12" r="0.7" fill="#ad0c29"/>
<circle cx="273.10" cy="172.43" r="0.7" fill="#ad0c29"/>
<circle cx="274.52" cy="173.65" r="0.7" fill="#ad0c29"/>
<circle cx="270.81" cy="171.30" r="0.7" fill="#ad0c29"/>
<circle cx="271.25" cy="170.55" r="0.7" fill="#ad0c29"/>
<circle cx="272.70" cy="168.31" r="0.7" fill="#ad0c29"/>
<circle cx="271.77" cy="168.72" r="0.7" fill="#ad0c29"/>
<circle cx="271.76" cy="167.56" r="0.7" fill="#ad0c29"/>
<circle cx="274.01" cy="167.39" r="0.7" fill="#ad0c29"/>
<circle cx="273.75" cy="169.02" r="0.7" fill="#ad0c29"/>
<circle cx="274.08" cy="168.53" r="0.7" fill="#ad0c29"/>
<circle cx="271.00" cy="169.69" r="0.7" fill="#ad0c29"/>
<circle cx="272.89" cy="173.51" r="0.7" fill="#ad0c29"/>
<circle cx="271.40" cy="172.42" r="0.7" fill="#ad0c29"/>
<circle cx="273.82" cy="168.01" r="0.7" fill="#ad0c29"/>
<circle cx="272.70" cy="158.80" r="0.7" fill="#ad0c29"/>
<circle cx="272.70" cy="183.90" r="0.7" fill="#ad0c29"/>
<line x1="280.20" y1="152.00" x2="280.20" y2="193.20" stroke="#c4233f" stroke-width="0.65"/>
<line x1="278.90" y1="152.00" x2="281.50" y2="152.00" stroke="#c4233f" stroke-width="0.75"/>
<line x1="278.90" y1="193.20" x2="281.50" y2="193.20" stroke="#c4233f" stroke-width="0.75"/>
<rect x="278.00" y="155.30" width="4.40" height="17.00" fill="#e5677a" stroke="#c4233f" stroke-width="0.5"/>
<line x1="278.00" y1="163.74" x2="282.40" y2="163.74" stroke="#ad0c29" stroke-width="0.8"/>
<circle cx="279.70" cy="166.81" r="0.7" fill="#ad0c29"/>
<circle cx="281.52" cy="166.67" r="0.7" fill="#ad0c29"/>
<circle cx="278.65" cy="169.06" r="0.7" fill="#ad0c29"/>
<circle cx="278.66" cy="167.96" r="0.7" fill="#ad0c29"/>
<circle cx="279.94" cy="166.58" r="0.7" fill="#ad0c29"/>
<circle cx="281.09" cy="157.73" r="0.7" fill="#ad0c29"/>
<circle cx="280.11" cy="169.47" r="0.7" fill="#ad0c29"/>
<circle cx="282.14" cy="184.89" r="0.7" fill="#ad0c29"/>
<circle cx="281.88" cy="156.86" r="0.7" fill="#ad0c29"/>
<circle cx="281.80" cy="169.23" r="0.7" fill="#ad0c29"/>
<circle cx="282.10" cy="164.54" r="0.7" fill="#ad0c29"/>
<circle cx="281.84" cy="166.26" r="0.7" fill="#ad0c29"/>
<circle cx="279.04" cy="170.11" r="0.7" fill="#ad0c29"/>
<circle cx="278.77" cy="188.47" r="0.7" fill="#ad0c29"/>
<circle cx="282.01" cy="166.48" r="0.7" fill="#ad0c29"/>
<circle cx="280.85" cy="169.84" r="0.7" fill="#ad0c29"/>
<circle cx="279.96" cy="163.40" r="0.7" fill="#ad0c29"/>
<circle cx="279.75" cy="165.72" r="0.7" fill="#ad0c29"/>
<circle cx="280.50" cy="171.81" r="0.7" fill="#ad0c29"/>
<circle cx="279.83" cy="166.55" r="0.7" fill="#ad0c29"/>
<circle cx="279.66" cy="160.27" r="0.7" fill="#ad0c29"/>
<circle cx="280.34" cy="190.89" r="0.7" fill="#ad0c29"/>
<circle cx="278.58" cy="171.18" r="0.7" fill="#ad0c29"/>
<circle cx="280.81" cy="166.48" r="0.7" fill="#ad0c29"/>
<circle cx="280.30" cy="169.28" r="0.7" fill="#ad0c29"/>
<circle cx="280.48" cy="164.48" r="0.7" fill="#ad0c29"/>
<circle cx="281.73" cy="170.73" r="0.7" fill="#ad0c29"/>
<circle cx="280.20" cy="152.50" r="0.7" fill="#ad0c29"/>
<circle cx="280.20" cy="192.70" r="0.7" fill="#ad0c29"/>
<line x1="292.80" y1="171.60" x2="292.80" y2="187.30" stroke="#62b8e6" stroke-width="0.65"/>
<line x1="291.50" y1="171.60" x2="294.10" y2="171.60" stroke="#62b8e6" stroke-width="0.75"/>
<line x1="291.50" y1="187.30" x2="294.10" y2="187.30" stroke="#62b8e6" stroke-width="0.75"/>
<rect x="290.60" y="172.90" width="4.40" height="9.80" fill="#b3def5" stroke="#62b8e6" stroke-width="0.5"/>
<line x1="290.60" y1="178.74" x2="295.00" y2="178.74" stroke="#3b9fd9" stroke-width="0.8"/>
<circle cx="292.79" cy="179.29" r="0.7" fill="#3b9fd9"/>
<circle cx="291.90" cy="179.66" r="0.7" fill="#3b9fd9"/>
<circle cx="294.63" cy="182.08" r="0.7" fill="#3b9fd9"/>
<circle cx="293.92" cy="174.25" r="0.7" fill="#3b9fd9"/>
<circle cx="291.35" cy="174.82" r="0.7" fill="#3b9fd9"/>
<circle cx="294.67" cy="177.95" r="0.7" fill="#3b9fd9"/>
<circle cx="293.69" cy="178.41" r="0.7" fill="#3b9fd9"/>
<circle cx="291.07" cy="174.25" r="0.7" fill="#3b9fd9"/>
<circle cx="291.62" cy="182.49" r="0.7" fill="#3b9fd9"/>
<circle cx="294.33" cy="178.46" r="0.7" fill="#3b9fd9"/>
<circle cx="293.78" cy="174.72" r="0.7" fill="#3b9fd9"/>
<circle cx="292.63" cy="180.51" r="0.7" fill="#3b9fd9"/>
<circle cx="293.53" cy="176.27" r="0.7" fill="#3b9fd9"/>
<circle cx="293.62" cy="175.06" r="0.7" fill="#3b9fd9"/>
<circle cx="292.59" cy="178.98" r="0.7" fill="#3b9fd9"/>
<circle cx="293.52" cy="178.40" r="0.7" fill="#3b9fd9"/>
<circle cx="291.43" cy="174.12" r="0.7" fill="#3b9fd9"/>
<circle cx="292.14" cy="176.93" r="0.7" fill="#3b9fd9"/>
<circle cx="294.47" cy="181.64" r="0.7" fill="#3b9fd9"/>
<circle cx="293.27" cy="178.21" r="0.7" fill="#3b9fd9"/>
<circle cx="292.80" cy="172.10" r="0.7" fill="#3b9fd9"/>
<circle cx="292.80" cy="186.80" r="0.7" fill="#3b9fd9"/>
<line x1="300.00" y1="172.70" x2="300.00" y2="191.90" stroke="#62b8e6" stroke-width="0.65"/>
<line x1="298.70" y1="172.70" x2="301.30" y2="172.70" stroke="#62b8e6" stroke-width="0.75"/>
<line x1="298.70" y1="191.90" x2="301.30" y2="191.90" stroke="#62b8e6" stroke-width="0.75"/>
<rect x="297.80" y="174.20" width="4.40" height="12.50" fill="#b3def5" stroke="#62b8e6" stroke-width="0.5"/>
<line x1="297.80" y1="181.01" x2="302.20" y2="181.01" stroke="#3b9fd9" stroke-width="0.8"/>
<circle cx="299.06" cy="180.81" r="0.7" fill="#3b9fd9"/>
<circle cx="300.50" cy="191.09" r="0.7" fill="#3b9fd9"/>
<circle cx="298.60" cy="182.98" r="0.7" fill="#3b9fd9"/>
<circle cx="301.00" cy="176.42" r="0.7" fill="#3b9fd9"/>
<circle cx="301.64" cy="176.45" r="0.7" fill="#3b9fd9"/>
<circle cx="299.24" cy="180.15" r="0.7" fill="#3b9fd9"/>
<circle cx="299.51" cy="176.61" r="0.7" fill="#3b9fd9"/>
<circle cx="301.48" cy="176.48" r="0.7" fill="#3b9fd9"/>
<circle cx="299.32" cy="183.85" r="0.7" fill="#3b9fd9"/>
<circle cx="298.71" cy="181.04" r="0.7" fill="#3b9fd9"/>
<circle cx="299.09" cy="174.66" r="0.7" fill="#3b9fd9"/>
<circle cx="300.46" cy="185.41" r="0.7" fill="#3b9fd9"/>
<circle cx="300.68" cy="176.58" r="0.7" fill="#3b9fd9"/>
<circle cx="298.86" cy="185.43" r="0.7" fill="#3b9fd9"/>
<circle cx="301.48" cy="178.85" r="0.7" fill="#3b9fd9"/>
<circle cx="298.52" cy="189.50" r="0.7" fill="#3b9fd9"/>
<circle cx="301.25" cy="175.88" r="0.7" fill="#3b9fd9"/>
<circle cx="300.69" cy="180.83" r="0.7" fill="#3b9fd9"/>
<circle cx="300.56" cy="175.92" r="0.7" fill="#3b9fd9"/>
<circle cx="300.18" cy="188.18" r="0.7" fill="#3b9fd9"/>
<circle cx="299.65" cy="184.63" r="0.7" fill="#3b9fd9"/>
<circle cx="299.75" cy="189.83" r="0.7" fill="#3b9fd9"/>
<circle cx="301.84" cy="175.29" r="0.7" fill="#3b9fd9"/>
<circle cx="300.00" cy="173.20" r="0.7" fill="#3b9fd9"/>
<circle cx="300.00" cy="191.40" r="0.7" fill="#3b9fd9"/>
<line x1="307.50" y1="175.50" x2="307.50" y2="199.10" stroke="#62b8e6" stroke-width="0.65"/>
<line x1="306.20" y1="175.50" x2="308.80" y2="175.50" stroke="#62b8e6" stroke-width="0.75"/>
<line x1="306.20" y1="199.10" x2="308.80" y2="199.10" stroke="#62b8e6" stroke-width="0.75"/>
<rect x="305.30" y="177.50" width="4.40" height="9.80" fill="#b3def5" stroke="#62b8e6" stroke-width="0.5"/>
<line x1="305.30" y1="181.77" x2="309.70" y2="181.77" stroke="#3b9fd9" stroke-width="0.8"/>
<circle cx="308.44" cy="179.45" r="0.7" fill="#3b9fd9"/>
<circle cx="308.93" cy="183.40" r="0.7" fill="#3b9fd9"/>
<circle cx="306.74" cy="183.89" r="0.7" fill="#3b9fd9"/>
<circle cx="306.73" cy="187.11" r="0.7" fill="#3b9fd9"/>
<circle cx="308.93" cy="182.57" r="0.7" fill="#3b9fd9"/>
<circle cx="307.31" cy="181.12" r="0.7" fill="#3b9fd9"/>
<circle cx="307.70" cy="179.72" r="0.7" fill="#3b9fd9"/>
<circle cx="306.05" cy="180.38" r="0.7" fill="#3b9fd9"/>
<circle cx="308.18" cy="180.58" r="0.7" fill="#3b9fd9"/>
<circle cx="306.38" cy="179.99" r="0.7" fill="#3b9fd9"/>
<circle cx="308.97" cy="187.97" r="0.7" fill="#3b9fd9"/>
<circle cx="308.58" cy="177.81" r="0.7" fill="#3b9fd9"/>
<circle cx="306.13" cy="180.99" r="0.7" fill="#3b9fd9"/>
<circle cx="306.63" cy="181.18" r="0.7" fill="#3b9fd9"/>
<circle cx="308.93" cy="199.08" r="0.7" fill="#3b9fd9"/>
<circle cx="309.01" cy="183.75" r="0.7" fill="#3b9fd9"/>
<circle cx="308.45" cy="175.80" r="0.7" fill="#3b9fd9"/>
<circle cx="307.28" cy="178.16" r="0.7" fill="#3b9fd9"/>
<circle cx="306.11" cy="187.24" r="0.7" fill="#3b9fd9"/>
<circle cx="309.24" cy="185.07" r="0.7" fill="#3b9fd9"/>
<circle cx="307.50" cy="176.00" r="0.7" fill="#3b9fd9"/>
<circle cx="307.50" cy="198.60" r="0.7" fill="#3b9fd9"/>
<line x1="315.00" y1="170.30" x2="315.00" y2="186.70" stroke="#62b8e6" stroke-width="0.65"/>
<line x1="313.70" y1="170.30" x2="316.30" y2="170.30" stroke="#62b8e6" stroke-width="0.75"/>
<line x1="313.70" y1="186.70" x2="316.30" y2="186.70" stroke="#62b8e6" stroke-width="0.75"/>
<rect x="312.80" y="171.00" width="4.40" height="7.20" fill="#b3def5" stroke="#62b8e6" stroke-width="0.5"/>
<line x1="312.80" y1="174.14" x2="317.20" y2="174.14" stroke="#3b9fd9" stroke-width="0.8"/>
<circle cx="314.14" cy="175.54" r="0.7" fill="#3b9fd9"/>
<circle cx="315.46" cy="176.59" r="0.7" fill="#3b9fd9"/>
<circle cx="315.76" cy="175.08" r="0.7" fill="#3b9fd9"/>
<circle cx="316.79" cy="176.93" r="0.7" fill="#3b9fd9"/>
<circle cx="314.97" cy="178.01" r="0.7" fill="#3b9fd9"/>
<circle cx="314.08" cy="177.65" r="0.7" fill="#3b9fd9"/>
<circle cx="315.15" cy="171.94" r="0.7" fill="#3b9fd9"/>
<circle cx="316.80" cy="176.09" r="0.7" fill="#3b9fd9"/>
<circle cx="314.99" cy="174.39" r="0.7" fill="#3b9fd9"/>
<circle cx="315.73" cy="175.71" r="0.7" fill="#3b9fd9"/>
<circle cx="313.67" cy="176.02" r="0.7" fill="#3b9fd9"/>
<circle cx="313.45" cy="174.82" r="0.7" fill="#3b9fd9"/>
<circle cx="313.96" cy="175.10" r="0.7" fill="#3b9fd9"/>
<circle cx="316.68" cy="172.02" r="0.7" fill="#3b9fd9"/>
<circle cx="315.16" cy="176.81" r="0.7" fill="#3b9fd9"/>
<circle cx="316.85" cy="172.98" r="0.7" fill="#3b9fd9"/>
<circle cx="315.82" cy="175.29" r="0.7" fill="#3b9fd9"/>
<circle cx="316.52" cy="174.82" r="0.7" fill="#3b9fd9"/>
<circle cx="315.00" cy="170.80" r="0.7" fill="#3b9fd9"/>
<circle cx="315.00" cy="186.20" r="0.7" fill="#3b9fd9"/>
<line x1="322.30" y1="161.80" x2="322.30" y2="191.20" stroke="#62b8e6" stroke-width="0.65"/>
<line x1="321.00" y1="161.80" x2="323.60" y2="161.80" stroke="#62b8e6" stroke-width="0.75"/>
<line x1="321.00" y1="191.20" x2="323.60" y2="191.20" stroke="#62b8e6" stroke-width="0.75"/>
<rect x="320.10" y="167.70" width="4.40" height="13.10" fill="#b3def5" stroke="#62b8e6" stroke-width="0.5"/>
<line x1="320.10" y1="173.01" x2="324.50" y2="173.01" stroke="#3b9fd9" stroke-width="0.8"/>
<circle cx="321.58" cy="162.19" r="0.7" fill="#3b9fd9"/>
<circle cx="321.21" cy="185.73" r="0.7" fill="#3b9fd9"/>
<circle cx="322.42" cy="167.84" r="0.7" fill="#3b9fd9"/>
<circle cx="322.83" cy="180.03" r="0.7" fill="#3b9fd9"/>
<circle cx="320.91" cy="178.84" r="0.7" fill="#3b9fd9"/>
<circle cx="322.46" cy="179.84" r="0.7" fill="#3b9fd9"/>
<circle cx="322.20" cy="176.35" r="0.7" fill="#3b9fd9"/>
<circle cx="320.48" cy="176.21" r="0.7" fill="#3b9fd9"/>
<circle cx="321.83" cy="175.22" r="0.7" fill="#3b9fd9"/>
<circle cx="323.93" cy="174.55" r="0.7" fill="#3b9fd9"/>
<circle cx="322.93" cy="175.86" r="0.7" fill="#3b9fd9"/>
<circle cx="322.08" cy="185.04" r="0.7" fill="#3b9fd9"/>
<circle cx="322.08" cy="174.79" r="0.7" fill="#3b9fd9"/>
<circle cx="323.73" cy="172.55" r="0.7" fill="#3b9fd9"/>
<circle cx="320.55" cy="176.57" r="0.7" fill="#3b9fd9"/>
<circle cx="320.58" cy="178.54" r="0.7" fill="#3b9fd9"/>
<circle cx="321.05" cy="179.83" r="0.7" fill="#3b9fd9"/>
<circle cx="321.38" cy="169.40" r="0.7" fill="#3b9fd9"/>
<circle cx="320.91" cy="186.83" r="0.7" fill="#3b9fd9"/>
<circle cx="323.38" cy="179.43" r="0.7" fill="#3b9fd9"/>
<circle cx="323.55" cy="172.68" r="0.7" fill="#3b9fd9"/>
<circle cx="322.11" cy="171.24" r="0.7" fill="#3b9fd9"/>
<circle cx="322.67" cy="168.93" r="0.7" fill="#3b9fd9"/>
<circle cx="322.30" cy="162.30" r="0.7" fill="#3b9fd9"/>
<circle cx="322.30" cy="190.70" r="0.7" fill="#3b9fd9"/>
<line x1="329.80" y1="170.30" x2="329.80" y2="195.80" stroke="#62b8e6" stroke-width="0.65"/>
<line x1="328.50" y1="170.30" x2="331.10" y2="170.30" stroke="#62b8e6" stroke-width="0.75"/>
<line x1="328.50" y1="195.80" x2="331.10" y2="195.80" stroke="#62b8e6" stroke-width="0.75"/>
<rect x="327.60" y="174.20" width="4.40" height="6.60" fill="#b3def5" stroke="#62b8e6" stroke-width="0.5"/>
<line x1="327.60" y1="177.98" x2="332.00" y2="177.98" stroke="#3b9fd9" stroke-width="0.8"/>
<circle cx="330.72" cy="181.65" r="0.7" fill="#3b9fd9"/>
<circle cx="330.95" cy="175.17" r="0.7" fill="#3b9fd9"/>
<circle cx="328.53" cy="174.96" r="0.7" fill="#3b9fd9"/>
<circle cx="327.88" cy="174.57" r="0.7" fill="#3b9fd9"/>
<circle cx="328.93" cy="175.64" r="0.7" fill="#3b9fd9"/>
<circle cx="330.38" cy="180.19" r="0.7" fill="#3b9fd9"/>
<circle cx="330.17" cy="179.40" r="0.7" fill="#3b9fd9"/>
<circle cx="328.07" cy="178.91" r="0.7" fill="#3b9fd9"/>
<circle cx="328.04" cy="178.94" r="0.7" fill="#3b9fd9"/>
<circle cx="330.83" cy="190.57" r="0.7" fill="#3b9fd9"/>
<circle cx="331.26" cy="177.15" r="0.7" fill="#3b9fd9"/>
<circle cx="329.92" cy="177.85" r="0.7" fill="#3b9fd9"/>
<circle cx="331.36" cy="178.52" r="0.7" fill="#3b9fd9"/>
<circle cx="330.74" cy="176.76" r="0.7" fill="#3b9fd9"/>
<circle cx="330.16" cy="179.55" r="0.7" fill="#3b9fd9"/>
<circle cx="328.60" cy="178.30" r="0.7" fill="#3b9fd9"/>
<circle cx="331.59" cy="178.22" r="0.7" fill="#3b9fd9"/>
<circle cx="329.80" cy="170.80" r="0.7" fill="#3b9fd9"/>
<circle cx="329.80" cy="195.30" r="0.7" fill="#3b9fd9"/>
<line x1="337.20" y1="160.10" x2="337.20" y2="188.60" stroke="#62b8e6" stroke-width="0.65"/>
<line x1="335.90" y1="160.10" x2="338.50" y2="160.10" stroke="#62b8e6" stroke-width="0.75"/>
<line x1="335.90" y1="188.60" x2="338.50" y2="188.60" stroke="#62b8e6" stroke-width="0.75"/>
<rect x="335.00" y="172.30" width="4.40" height="8.50" fill="#b3def5" stroke="#62b8e6" stroke-width="0.5"/>
<line x1="335.00" y1="175.89" x2="339.40" y2="175.89" stroke="#3b9fd9" stroke-width="0.8"/>
<circle cx="338.51" cy="176.52" r="0.7" fill="#3b9fd9"/>
<circle cx="338.02" cy="178.58" r="0.7" fill="#3b9fd9"/>
<circle cx="338.10" cy="171.25" r="0.7" fill="#3b9fd9"/>
<circle cx="335.39" cy="177.59" r="0.7" fill="#3b9fd9"/>
<circle cx="336.35" cy="178.06" r="0.7" fill="#3b9fd9"/>
<circle cx="339.16" cy="178.85" r="0.7" fill="#3b9fd9"/>
<circle cx="337.63" cy="174.26" r="0.7" fill="#3b9fd9"/>
<circle cx="337.11" cy="174.91" r="0.7" fill="#3b9fd9"/>
<circle cx="335.92" cy="174.05" r="0.7" fill="#3b9fd9"/>
<circle cx="337.52" cy="175.72" r="0.7" fill="#3b9fd9"/>
<circle cx="338.86" cy="175.20" r="0.7" fill="#3b9fd9"/>
<circle cx="337.34" cy="172.94" r="0.7" fill="#3b9fd9"/>
<circle cx="336.32" cy="179.41" r="0.7" fill="#3b9fd9"/>
<circle cx="336.13" cy="173.50" r="0.7" fill="#3b9fd9"/>
<circle cx="338.16" cy="179.35" r="0.7" fill="#3b9fd9"/>
<circle cx="338.38" cy="177.70" r="0.7" fill="#3b9fd9"/>
<circle cx="337.10" cy="174.63" r="0.7" fill="#3b9fd9"/>
<circle cx="338.91" cy="174.97" r="0.7" fill="#3b9fd9"/>
<circle cx="335.83" cy="173.89" r="0.7" fill="#3b9fd9"/>
<circle cx="337.20" cy="160.60" r="0.7" fill="#3b9fd9"/>
<circle cx="337.20" cy="188.10" r="0.7" fill="#3b9fd9"/>
<line x1="344.50" y1="160.10" x2="344.50" y2="203.30" stroke="#62b8e6" stroke-width="0.65"/>
<line x1="343.20" y1="160.10" x2="345.80" y2="160.10" stroke="#62b8e6" stroke-width="0.75"/>
<line x1="343.20" y1="203.30" x2="345.80" y2="203.30" stroke="#62b8e6" stroke-width="0.75"/>
<rect x="342.30" y="173.60" width="4.40" height="8.50" fill="#b3def5" stroke="#62b8e6" stroke-width="0.5"/>
<line x1="342.30" y1="177.70" x2="346.70" y2="177.70" stroke="#3b9fd9" stroke-width="0.8"/>
<circle cx="344.75" cy="179.93" r="0.7" fill="#3b9fd9"/>
<circle cx="344.59" cy="176.43" r="0.7" fill="#3b9fd9"/>
<circle cx="343.04" cy="173.67" r="0.7" fill="#3b9fd9"/>
<circle cx="343.56" cy="176.12" r="0.7" fill="#3b9fd9"/>
<circle cx="343.98" cy="179.06" r="0.7" fill="#3b9fd9"/>
<circle cx="344.17" cy="178.11" r="0.7" fill="#3b9fd9"/>
<circle cx="346.18" cy="177.69" r="0.7" fill="#3b9fd9"/>
<circle cx="346.47" cy="174.23" r="0.7" fill="#3b9fd9"/>
<circle cx="344.46" cy="179.64" r="0.7" fill="#3b9fd9"/>
<circle cx="345.13" cy="179.37" r="0.7" fill="#3b9fd9"/>
<circle cx="342.63" cy="177.29" r="0.7" fill="#3b9fd9"/>
<circle cx="346.44" cy="179.70" r="0.7" fill="#3b9fd9"/>
<circle cx="343.72" cy="178.23" r="0.7" fill="#3b9fd9"/>
<circle cx="345.29" cy="175.01" r="0.7" fill="#3b9fd9"/>
<circle cx="344.59" cy="180.84" r="0.7" fill="#3b9fd9"/>
<circle cx="343.79" cy="180.48" r="0.7" fill="#3b9fd9"/>
<circle cx="343.50" cy="179.83" r="0.7" fill="#3b9fd9"/>
<circle cx="342.87" cy="181.52" r="0.7" fill="#3b9fd9"/>
<circle cx="346.38" cy="174.29" r="0.7" fill="#3b9fd9"/>
<circle cx="344.50" cy="160.60" r="0.7" fill="#3b9fd9"/>
<circle cx="344.50" cy="202.80" r="0.7" fill="#3b9fd9"/>
<text x="226.50" y="133.20" font-size="6.0" fill="#c50f2e" font-style="italic" textLength="55.50" lengthAdjust="spacingAndGlyphs">Ppm1d<tspan font-size="72%" dy="-2.6">f/f</tspan><tspan dy="2.6">; Mx-Cre+</tspan></text>
<text x="290.80" y="133.20" font-size="6.0" fill="#45ace3" font-style="italic" textLength="55.00" lengthAdjust="spacingAndGlyphs">Ppm1d<tspan font-size="72%" dy="-2.6">f/f</tspan><tspan dy="2.6">; Mx-Cre-</tspan></text>
<text x="285.15" y="231.30" font-size="8.6" text-anchor="middle" stroke="#222222" stroke-width="0.15" textLength="52.00" lengthAdjust="spacingAndGlyphs">Months after pIpC</text>
<text x="199.60" y="173.50" font-size="8.4" text-anchor="middle" stroke="#222222" stroke-width="0.15" textLength="27.80" lengthAdjust="spacingAndGlyphs" transform="rotate(-90 199.60 173.50)">Plt (K/uL)</text>
<line x1="382.10" y1="138.70" x2="382.10" y2="211.80" stroke="#262626" stroke-width="1.35"/>
<line x1="379.30" y1="211.20" x2="382.10" y2="211.20" stroke="#262626" stroke-width="0.95"/>
<text x="378.10" y="213.58" font-size="6.6" text-anchor="end" stroke="#222222" stroke-width="0.15" textLength="6.80" lengthAdjust="spacingAndGlyphs">30</text>
<line x1="379.30" y1="193.17" x2="382.10" y2="193.17" stroke="#262626" stroke-width="0.95"/>
<text x="378.10" y="195.55" font-size="6.6" text-anchor="end" stroke="#222222" stroke-width="0.15" textLength="6.80" lengthAdjust="spacingAndGlyphs">35</text>
<line x1="379.30" y1="175.15" x2="382.10" y2="175.15" stroke="#262626" stroke-width="0.95"/>
<text x="378.10" y="177.53" font-size="6.6" text-anchor="end" stroke="#222222" stroke-width="0.15" textLength="6.80" lengthAdjust="spacingAndGlyphs">40</text>
<line x1="379.30" y1="157.12" x2="382.10" y2="157.12" stroke="#262626" stroke-width="0.95"/>
<text x="378.10" y="159.50" font-size="6.6" text-anchor="end" stroke="#222222" stroke-width="0.15" textLength="6.80" lengthAdjust="spacingAndGlyphs">45</text>
<line x1="379.30" y1="139.10" x2="382.10" y2="139.10" stroke="#262626" stroke-width="0.95"/>
<text x="378.10" y="141.48" font-size="6.6" text-anchor="end" stroke="#222222" stroke-width="0.15" textLength="6.80" lengthAdjust="spacingAndGlyphs">50</text>
<line x1="381.50" y1="211.20" x2="508.80" y2="211.20" stroke="#262626" stroke-width="1.35"/>
<line x1="387.40" y1="211.20" x2="387.40" y2="214.00" stroke="#262626" stroke-width="0.95"/>
<text x="387.40" y="220.80" font-size="6.6" text-anchor="middle" stroke="#222222" stroke-width="0.15" textLength="3.50" lengthAdjust="spacingAndGlyphs">0</text>
<line x1="452.50" y1="211.20" x2="452.50" y2="214.00" stroke="#262626" stroke-width="0.95"/>
<text x="452.50" y="220.80" font-size="6.6" text-anchor="middle" stroke="#222222" stroke-width="0.15" textLength="3.50" lengthAdjust="spacingAndGlyphs">0</text>
<line x1="395.00" y1="211.20" x2="395.00" y2="214.00" stroke="#262626" stroke-width="0.95"/>
<text x="395.00" y="220.80" font-size="6.6" text-anchor="middle" stroke="#222222" stroke-width="0.15" textLength="3.50" lengthAdjust="spacingAndGlyphs">1</text>
<line x1="459.70" y1="211.20" x2="459.70" y2="214.00" stroke="#262626" stroke-width="0.95"/>
<text x="459.70" y="220.80" font-size="6.6" text-anchor="middle" stroke="#222222" stroke-width="0.15" textLength="3.50" lengthAdjust="spacingAndGlyphs">1</text>
<line x1="402.20" y1="211.20" x2="402.20" y2="214.00" stroke="#262626" stroke-width="0.95"/>
<text x="402.20" y="220.80" font-size="6.6" text-anchor="middle" stroke="#222222" stroke-width="0.15" textLength="3.50" lengthAdjust="spacingAndGlyphs">3</text>
<line x1="467.30" y1="211.20" x2="467.30" y2="214.00" stroke="#262626" stroke-width="0.95"/>
<text x="467.30" y="220.80" font-size="6.6" text-anchor="middle" stroke="#222222" stroke-width="0.15" textLength="3.50" lengthAdjust="spacingAndGlyphs">3</text>
<line x1="409.80" y1="211.20" x2="409.80" y2="214.00" stroke="#262626" stroke-width="0.95"/>
<text x="409.80" y="220.80" font-size="6.6" text-anchor="middle" stroke="#222222" stroke-width="0.15" textLength="3.50" lengthAdjust="spacingAndGlyphs">4</text>
<line x1="474.70" y1="211.20" x2="474.70" y2="214.00" stroke="#262626" stroke-width="0.95"/>
<text x="474.70" y="220.80" font-size="6.6" text-anchor="middle" stroke="#222222" stroke-width="0.15" textLength="3.50" lengthAdjust="spacingAndGlyphs">4</text>
<line x1="417.20" y1="211.20" x2="417.20" y2="214.00" stroke="#262626" stroke-width="0.95"/>
<text x="417.20" y="220.80" font-size="6.6" text-anchor="middle" stroke="#222222" stroke-width="0.15" textLength="3.50" lengthAdjust="spacingAndGlyphs">5</text>
<line x1="482.20" y1="211.20" x2="482.20" y2="214.00" stroke="#262626" stroke-width="0.95"/>
<text x="482.20" y="220.80" font-size="6.6" text-anchor="middle" stroke="#222222" stroke-width="0.15" textLength="3.50" lengthAdjust="spacingAndGlyphs">5</text>
<line x1="424.70" y1="211.20" x2="424.70" y2="214.00" stroke="#262626" stroke-width="0.95"/>
<text x="424.70" y="220.80" font-size="6.6" text-anchor="middle" stroke="#222222" stroke-width="0.15" textLength="3.50" lengthAdjust="spacingAndGlyphs">6</text>
<line x1="489.50" y1="211.20" x2="489.50" y2="214.00" stroke="#262626" stroke-width="0.95"/>
<text x="489.50" y="220.80" font-size="6.6" text-anchor="middle" stroke="#222222" stroke-width="0.15" textLength="3.50" lengthAdjust="spacingAndGlyphs">6</text>
<line x1="432.30" y1="211.20" x2="432.30" y2="214.00" stroke="#262626" stroke-width="0.95"/>
<text x="432.30" y="220.80" font-size="6.6" text-anchor="middle" stroke="#222222" stroke-width="0.15" textLength="3.50" lengthAdjust="spacingAndGlyphs">8</text>
<line x1="497.00" y1="211.20" x2="497.00" y2="214.00" stroke="#262626" stroke-width="0.95"/>
<text x="497.00" y="220.80" font-size="6.6" text-anchor="middle" stroke="#222222" stroke-width="0.15" textLength="3.50" lengthAdjust="spacingAndGlyphs">8</text>
<line x1="439.70" y1="211.20" x2="439.70" y2="214.00" stroke="#262626" stroke-width="0.95"/>
<text x="439.70" y="220.80" font-size="6.6" text-anchor="middle" stroke="#222222" stroke-width="0.15" textLength="7.00" lengthAdjust="spacingAndGlyphs">10</text>
<line x1="504.40" y1="211.20" x2="504.40" y2="214.00" stroke="#262626" stroke-width="0.95"/>
<text x="504.40" y="220.80" font-size="6.6" text-anchor="middle" stroke="#222222" stroke-width="0.15" textLength="7.00" lengthAdjust="spacingAndGlyphs">10</text>
<line x1="445.80" y1="135.50" x2="445.80" y2="211.20" stroke="#333" stroke-width="1.15" stroke-dasharray="2.4,1.5"/>
<line x1="387.40" y1="154.40" x2="387.40" y2="181.40" stroke="#c4233f" stroke-width="0.65"/>
<line x1="386.10" y1="154.40" x2="388.70" y2="154.40" stroke="#c4233f" stroke-width="0.75"/>
<line x1="386.10" y1="181.40" x2="388.70" y2="181.40" stroke="#c4233f" stroke-width="0.75"/>
<rect x="385.20" y="167.00" width="4.40" height="6.60" fill="#e5677a" stroke="#c4233f" stroke-width="0.5"/>
<line x1="385.20" y1="169.71" x2="389.60" y2="169.71" stroke="#ad0c29" stroke-width="0.8"/>
<circle cx="388.44" cy="168.49" r="0.7" fill="#ad0c29"/>
<circle cx="387.36" cy="172.11" r="0.7" fill="#ad0c29"/>
<circle cx="386.76" cy="158.93" r="0.7" fill="#ad0c29"/>
<circle cx="388.14" cy="173.70" r="0.7" fill="#ad0c29"/>
<circle cx="386.13" cy="171.15" r="0.7" fill="#ad0c29"/>
<circle cx="389.07" cy="170.76" r="0.7" fill="#ad0c29"/>
<circle cx="386.34" cy="168.24" r="0.7" fill="#ad0c29"/>
<circle cx="386.08" cy="176.88" r="0.7" fill="#ad0c29"/>
<circle cx="387.59" cy="168.82" r="0.7" fill="#ad0c29"/>
<circle cx="386.78" cy="168.29" r="0.7" fill="#ad0c29"/>
<circle cx="387.87" cy="173.39" r="0.7" fill="#ad0c29"/>
<circle cx="388.89" cy="168.46" r="0.7" fill="#ad0c29"/>
<circle cx="389.00" cy="170.76" r="0.7" fill="#ad0c29"/>
<circle cx="386.00" cy="169.41" r="0.7" fill="#ad0c29"/>
<circle cx="387.15" cy="168.95" r="0.7" fill="#ad0c29"/>
<circle cx="386.35" cy="168.16" r="0.7" fill="#ad0c29"/>
<circle cx="387.44" cy="169.59" r="0.7" fill="#ad0c29"/>
<circle cx="387.40" cy="154.90" r="0.7" fill="#ad0c29"/>
<circle cx="387.40" cy="180.90" r="0.7" fill="#ad0c29"/>
<line x1="395.00" y1="170.60" x2="395.00" y2="195.40" stroke="#c4233f" stroke-width="0.65"/>
<line x1="393.70" y1="170.60" x2="396.30" y2="170.60" stroke="#c4233f" stroke-width="0.75"/>
<line x1="393.70" y1="195.40" x2="396.30" y2="195.40" stroke="#c4233f" stroke-width="0.75"/>
<rect x="392.80" y="176.20" width="4.40" height="6.50" fill="#e5677a" stroke="#c4233f" stroke-width="0.5"/>
<line x1="392.80" y1="179.67" x2="397.20" y2="179.67" stroke="#ad0c29" stroke-width="0.8"/>
<circle cx="394.66" cy="179.93" r="0.7" fill="#ad0c29"/>
<circle cx="396.20" cy="179.27" r="0.7" fill="#ad0c29"/>
<circle cx="393.99" cy="177.47" r="0.7" fill="#ad0c29"/>
<circle cx="394.19" cy="176.53" r="0.7" fill="#ad0c29"/>
<circle cx="393.60" cy="178.45" r="0.7" fill="#ad0c29"/>
<circle cx="396.39" cy="189.53" r="0.7" fill="#ad0c29"/>
<circle cx="396.12" cy="177.17" r="0.7" fill="#ad0c29"/>
<circle cx="393.96" cy="180.02" r="0.7" fill="#ad0c29"/>
<circle cx="396.64" cy="179.10" r="0.7" fill="#ad0c29"/>
<circle cx="394.62" cy="181.25" r="0.7" fill="#ad0c29"/>
<circle cx="396.81" cy="176.99" r="0.7" fill="#ad0c29"/>
<circle cx="393.51" cy="178.11" r="0.7" fill="#ad0c29"/>
<circle cx="394.23" cy="177.35" r="0.7" fill="#ad0c29"/>
<circle cx="396.57" cy="177.19" r="0.7" fill="#ad0c29"/>
<circle cx="394.75" cy="180.07" r="0.7" fill="#ad0c29"/>
<circle cx="394.13" cy="180.45" r="0.7" fill="#ad0c29"/>
<circle cx="395.40" cy="180.64" r="0.7" fill="#ad0c29"/>
<circle cx="395.00" cy="171.10" r="0.7" fill="#ad0c29"/>
<circle cx="395.00" cy="194.90" r="0.7" fill="#ad0c29"/>
<line x1="402.20" y1="167.40" x2="402.20" y2="200.40" stroke="#c4233f" stroke-width="0.65"/>
<line x1="400.90" y1="167.40" x2="403.50" y2="167.40" stroke="#c4233f" stroke-width="0.75"/>
<line x1="400.90" y1="200.40" x2="403.50" y2="200.40" stroke="#c4233f" stroke-width="0.75"/>
<rect x="400.00" y="172.90" width="4.40" height="11.10" fill="#e5677a" stroke="#c4233f" stroke-width="0.5"/>
<line x1="400.00" y1="177.45" x2="404.40" y2="177.45" stroke="#ad0c29" stroke-width="0.8"/>
<circle cx="400.79" cy="179.07" r="0.7" fill="#ad0c29"/>
<circle cx="403.62" cy="176.99" r="0.7" fill="#ad0c29"/>
<circle cx="400.57" cy="177.24" r="0.7" fill="#ad0c29"/>
<circle cx="402.08" cy="179.63" r="0.7" fill="#ad0c29"/>
<circle cx="401.69" cy="176.40" r="0.7" fill="#ad0c29"/>
<circle cx="403.09" cy="180.65" r="0.7" fill="#ad0c29"/>
<circle cx="404.18" cy="181.32" r="0.7" fill="#ad0c29"/>
<circle cx="403.59" cy="183.42" r="0.7" fill="#ad0c29"/>
<circle cx="401.64" cy="178.64" r="0.7" fill="#ad0c29"/>
<circle cx="401.74" cy="175.70" r="0.7" fill="#ad0c29"/>
<circle cx="401.32" cy="178.54" r="0.7" fill="#ad0c29"/>
<circle cx="401.32" cy="174.18" r="0.7" fill="#ad0c29"/>
<circle cx="400.55" cy="172.91" r="0.7" fill="#ad0c29"/>
<circle cx="402.12" cy="173.67" r="0.7" fill="#ad0c29"/>
<circle cx="403.12" cy="182.40" r="0.7" fill="#ad0c29"/>
<circle cx="400.46" cy="179.93" r="0.7" fill="#ad0c29"/>
<circle cx="402.09" cy="175.77" r="0.7" fill="#ad0c29"/>
<circle cx="401.73" cy="174.47" r="0.7" fill="#ad0c29"/>
<circle cx="402.96" cy="173.36" r="0.7" fill="#ad0c29"/>
<circle cx="400.52" cy="174.51" r="0.7" fill="#ad0c29"/>
<circle cx="402.42" cy="178.70" r="0.7" fill="#ad0c29"/>
<circle cx="402.20" cy="167.90" r="0.7" fill="#ad0c29"/>
<circle cx="402.20" cy="199.90" r="0.7" fill="#ad0c29"/>
<line x1="409.80" y1="166.40" x2="409.80" y2="196.20" stroke="#c4233f" stroke-width="0.65"/>
<line x1="408.50" y1="166.40" x2="411.10" y2="166.40" stroke="#c4233f" stroke-width="0.75"/>
<line x1="408.50" y1="196.20" x2="411.10" y2="196.20" stroke="#c4233f" stroke-width="0.75"/>
<rect x="407.60" y="174.20" width="4.40" height="13.80" fill="#e5677a" stroke="#c4233f" stroke-width="0.5"/>
<line x1="407.60" y1="180.41" x2="412.00" y2="180.41" stroke="#ad0c29" stroke-width="0.8"/>
<circle cx="411.38" cy="185.02" r="0.7" fill="#ad0c29"/>
<circle cx="409.71" cy="188.23" r="0.7" fill="#ad0c29"/>
<circle cx="411.16" cy="192.58" r="0.7" fill="#ad0c29"/>
<circle cx="409.40" cy="186.55" r="0.7" fill="#ad0c29"/>
<circle cx="410.41" cy="187.50" r="0.7" fill="#ad0c29"/>
<circle cx="408.41" cy="193.64" r="0.7" fill="#ad0c29"/>
<circle cx="411.66" cy="184.63" r="0.7" fill="#ad0c29"/>
<circle cx="410.73" cy="185.20" r="0.7" fill="#ad0c29"/>
<circle cx="410.83" cy="185.42" r="0.7" fill="#ad0c29"/>
<circle cx="407.83" cy="188.65" r="0.7" fill="#ad0c29"/>
<circle cx="410.70" cy="185.15" r="0.7" fill="#ad0c29"/>
<circle cx="409.27" cy="179.04" r="0.7" fill="#ad0c29"/>
<circle cx="411.67" cy="186.10" r="0.7" fill="#ad0c29"/>
<circle cx="411.21" cy="181.24" r="0.7" fill="#ad0c29"/>
<circle cx="410.03" cy="187.24" r="0.7" fill="#ad0c29"/>
<circle cx="409.73" cy="183.76" r="0.7" fill="#ad0c29"/>
<circle cx="410.78" cy="181.99" r="0.7" fill="#ad0c29"/>
<circle cx="408.12" cy="176.52" r="0.7" fill="#ad0c29"/>
<circle cx="410.73" cy="186.87" r="0.7" fill="#ad0c29"/>
<circle cx="410.61" cy="181.33" r="0.7" fill="#ad0c29"/>
<circle cx="411.54" cy="180.52" r="0.7" fill="#ad0c29"/>
<circle cx="409.14" cy="179.27" r="0.7" fill="#ad0c29"/>
<circle cx="408.36" cy="180.82" r="0.7" fill="#ad0c29"/>
<circle cx="408.43" cy="175.18" r="0.7" fill="#ad0c29"/>
<circle cx="409.80" cy="166.90" r="0.7" fill="#ad0c29"/>
<circle cx="409.80" cy="195.70" r="0.7" fill="#ad0c29"/>
<line x1="417.20" y1="149.10" x2="417.20" y2="207.60" stroke="#c4233f" stroke-width="0.65"/>
<line x1="415.90" y1="149.10" x2="418.50" y2="149.10" stroke="#c4233f" stroke-width="0.75"/>
<line x1="415.90" y1="207.60" x2="418.50" y2="207.60" stroke="#c4233f" stroke-width="0.75"/>
<rect x="415.00" y="177.50" width="4.40" height="9.20" fill="#e5677a" stroke="#c4233f" stroke-width="0.5"/>
<line x1="415.00" y1="181.45" x2="419.40" y2="181.45" stroke="#ad0c29" stroke-width="0.8"/>
<circle cx="416.52" cy="150.13" r="0.7" fill="#ad0c29"/>
<circle cx="417.05" cy="188.39" r="0.7" fill="#ad0c29"/>
<circle cx="415.42" cy="178.97" r="0.7" fill="#ad0c29"/>
<circle cx="417.92" cy="197.76" r="0.7" fill="#ad0c29"/>
<circle cx="417.44" cy="178.93" r="0.7" fill="#ad0c29"/>
<circle cx="418.96" cy="184.09" r="0.7" fill="#ad0c29"/>
<circle cx="415.24" cy="172.67" r="0.7" fill="#ad0c29"/>
<circle cx="416.41" cy="154.40" r="0.7" fill="#ad0c29"/>
<circle cx="415.60" cy="181.33" r="0.7" fill="#ad0c29"/>
<circle cx="418.58" cy="165.91" r="0.7" fill="#ad0c29"/>
<circle cx="416.22" cy="182.44" r="0.7" fill="#ad0c29"/>
<circle cx="415.58" cy="178.82" r="0.7" fill="#ad0c29"/>
<circle cx="416.78" cy="186.54" r="0.7" fill="#ad0c29"/>
<circle cx="418.53" cy="184.89" r="0.7" fill="#ad0c29"/>
<circle cx="418.04" cy="186.52" r="0.7" fill="#ad0c29"/>
<circle cx="418.76" cy="178.50" r="0.7" fill="#ad0c29"/>
<circle cx="415.48" cy="177.73" r="0.7" fill="#ad0c29"/>
<circle cx="419.00" cy="181.83" r="0.7" fill="#ad0c29"/>
<circle cx="418.78" cy="186.70" r="0.7" fill="#ad0c29"/>
<circle cx="417.26" cy="179.85" r="0.7" fill="#ad0c29"/>
<circle cx="417.20" cy="149.60" r="0.7" fill="#ad0c29"/>
<circle cx="417.20" cy="207.10" r="0.7" fill="#ad0c29"/>
<line x1="424.70" y1="178.20" x2="424.70" y2="202.30" stroke="#c4233f" stroke-width="0.65"/>
<line x1="423.40" y1="178.20" x2="426.00" y2="178.20" stroke="#c4233f" stroke-width="0.75"/>
<line x1="423.40" y1="202.30" x2="426.00" y2="202.30" stroke="#c4233f" stroke-width="0.75"/>
<rect x="422.50" y="179.50" width="4.40" height="5.80" fill="#e5677a" stroke="#c4233f" stroke-width="0.5"/>
<line x1="422.50" y1="182.90" x2="426.90" y2="182.90" stroke="#ad0c29" stroke-width="0.8"/>
<circle cx="422.88" cy="195.63" r="0.7" fill="#ad0c29"/>
<circle cx="422.90" cy="183.34" r="0.7" fill="#ad0c29"/>
<circle cx="425.76" cy="182.18" r="0.7" fill="#ad0c29"/>
<circle cx="422.74" cy="181.34" r="0.7" fill="#ad0c29"/>
<circle cx="424.04" cy="180.98" r="0.7" fill="#ad0c29"/>
<circle cx="422.82" cy="189.53" r="0.7" fill="#ad0c29"/>
<circle cx="423.16" cy="183.58" r="0.7" fill="#ad0c29"/>
<circle cx="425.56" cy="182.01" r="0.7" fill="#ad0c29"/>
<circle cx="424.79" cy="181.92" r="0.7" fill="#ad0c29"/>
<circle cx="424.13" cy="184.93" r="0.7" fill="#ad0c29"/>
<circle cx="426.64" cy="185.07" r="0.7" fill="#ad0c29"/>
<circle cx="422.84" cy="184.31" r="0.7" fill="#ad0c29"/>
<circle cx="424.73" cy="195.99" r="0.7" fill="#ad0c29"/>
<circle cx="424.20" cy="179.66" r="0.7" fill="#ad0c29"/>
<circle cx="424.05" cy="180.72" r="0.7" fill="#ad0c29"/>
<circle cx="425.45" cy="201.94" r="0.7" fill="#ad0c29"/>
<circle cx="423.96" cy="196.13" r="0.7" fill="#ad0c29"/>
<circle cx="424.70" cy="178.70" r="0.7" fill="#ad0c29"/>
<circle cx="424.70" cy="201.80" r="0.7" fill="#ad0c29"/>
<line x1="432.30" y1="180.80" x2="432.30" y2="205.60" stroke="#c4233f" stroke-width="0.65"/>
<line x1="431.00" y1="180.80" x2="433.60" y2="180.80" stroke="#c4233f" stroke-width="0.75"/>
<line x1="431.00" y1="205.60" x2="433.60" y2="205.60" stroke="#c4233f" stroke-width="0.75"/>
<rect x="430.10" y="182.70" width="4.40" height="6.60" fill="#e5677a" stroke="#c4233f" stroke-width="0.5"/>
<line x1="430.10" y1="186.08" x2="434.50" y2="186.08" stroke="#ad0c29" stroke-width="0.8"/>
<circle cx="430.56" cy="198.60" r="0.7" fill="#ad0c29"/>
<circle cx="431.21" cy="185.43" r="0.7" fill="#ad0c29"/>
<circle cx="433.28" cy="188.30" r="0.7" fill="#ad0c29"/>
<circle cx="431.08" cy="184.01" r="0.7" fill="#ad0c29"/>
<circle cx="431.40" cy="186.84" r="0.7" fill="#ad0c29"/>
<circle cx="434.12" cy="191.88" r="0.7" fill="#ad0c29"/>
<circle cx="433.20" cy="188.21" r="0.7" fill="#ad0c29"/>
<circle cx="432.33" cy="186.53" r="0.7" fill="#ad0c29"/>
<circle cx="432.00" cy="187.26" r="0.7" fill="#ad0c29"/>
<circle cx="432.57" cy="196.48" r="0.7" fill="#ad0c29"/>
<circle cx="431.22" cy="196.10" r="0.7" fill="#ad0c29"/>
<circle cx="431.50" cy="184.76" r="0.7" fill="#ad0c29"/>
<circle cx="430.88" cy="187.59" r="0.7" fill="#ad0c29"/>
<circle cx="433.90" cy="182.35" r="0.7" fill="#ad0c29"/>
<circle cx="432.24" cy="186.61" r="0.7" fill="#ad0c29"/>
<circle cx="432.10" cy="186.22" r="0.7" fill="#ad0c29"/>
<circle cx="431.85" cy="193.13" r="0.7" fill="#ad0c29"/>
<circle cx="432.30" cy="181.30" r="0.7" fill="#ad0c29"/>
<circle cx="432.30" cy="205.10" r="0.7" fill="#ad0c29"/>
<line x1="439.70" y1="176.20" x2="439.70" y2="200.40" stroke="#c4233f" stroke-width="0.65"/>
<line x1="438.40" y1="176.20" x2="441.00" y2="176.20" stroke="#c4233f" stroke-width="0.75"/>
<line x1="438.40" y1="200.40" x2="441.00" y2="200.40" stroke="#c4233f" stroke-width="0.75"/>
<rect x="437.50" y="185.30" width="4.40" height="5.90" fill="#e5677a" stroke="#c4233f" stroke-width="0.5"/>
<line x1="437.50" y1="188.80" x2="441.90" y2="188.80" stroke="#ad0c29" stroke-width="0.8"/>
<circle cx="440.83" cy="190.76" r="0.7" fill="#ad0c29"/>
<circle cx="438.34" cy="187.82" r="0.7" fill="#ad0c29"/>
<circle cx="439.87" cy="186.48" r="0.7" fill="#ad0c29"/>
<circle cx="439.29" cy="190.21" r="0.7" fill="#ad0c29"/>
<circle cx="440.54" cy="189.06" r="0.7" fill="#ad0c29"/>
<circle cx="438.38" cy="185.30" r="0.7" fill="#ad0c29"/>
<circle cx="439.57" cy="190.20" r="0.7" fill="#ad0c29"/>
<circle cx="440.68" cy="188.93" r="0.7" fill="#ad0c29"/>
<circle cx="439.75" cy="197.02" r="0.7" fill="#ad0c29"/>
<circle cx="440.85" cy="190.89" r="0.7" fill="#ad0c29"/>
<circle cx="439.82" cy="190.74" r="0.7" fill="#ad0c29"/>
<circle cx="439.80" cy="178.36" r="0.7" fill="#ad0c29"/>
<circle cx="437.90" cy="189.00" r="0.7" fill="#ad0c29"/>
<circle cx="439.59" cy="189.09" r="0.7" fill="#ad0c29"/>
<circle cx="440.03" cy="188.78" r="0.7" fill="#ad0c29"/>
<circle cx="438.92" cy="188.54" r="0.7" fill="#ad0c29"/>
<circle cx="440.58" cy="191.13" r="0.7" fill="#ad0c29"/>
<circle cx="439.70" cy="176.70" r="0.7" fill="#ad0c29"/>
<circle cx="439.70" cy="199.90" r="0.7" fill="#ad0c29"/>
<line x1="452.50" y1="164.40" x2="452.50" y2="190.60" stroke="#62b8e6" stroke-width="0.65"/>
<line x1="451.20" y1="164.40" x2="453.80" y2="164.40" stroke="#62b8e6" stroke-width="0.75"/>
<line x1="451.20" y1="190.60" x2="453.80" y2="190.60" stroke="#62b8e6" stroke-width="0.75"/>
<rect x="450.30" y="166.40" width="4.40" height="11.80" fill="#b3def5" stroke="#62b8e6" stroke-width="0.5"/>
<line x1="450.30" y1="172.50" x2="454.70" y2="172.50" stroke="#3b9fd9" stroke-width="0.8"/>
<circle cx="453.71" cy="167.16" r="0.7" fill="#3b9fd9"/>
<circle cx="451.24" cy="174.73" r="0.7" fill="#3b9fd9"/>
<circle cx="453.17" cy="173.89" r="0.7" fill="#3b9fd9"/>
<circle cx="451.37" cy="177.18" r="0.7" fill="#3b9fd9"/>
<circle cx="453.35" cy="169.79" r="0.7" fill="#3b9fd9"/>
<circle cx="453.75" cy="174.23" r="0.7" fill="#3b9fd9"/>
<circle cx="451.73" cy="168.62" r="0.7" fill="#3b9fd9"/>
<circle cx="454.10" cy="170.11" r="0.7" fill="#3b9fd9"/>
<circle cx="453.07" cy="175.76" r="0.7" fill="#3b9fd9"/>
<circle cx="454.03" cy="170.25" r="0.7" fill="#3b9fd9"/>
<circle cx="454.13" cy="173.39" r="0.7" fill="#3b9fd9"/>
<circle cx="453.15" cy="171.04" r="0.7" fill="#3b9fd9"/>
<circle cx="453.65" cy="175.60" r="0.7" fill="#3b9fd9"/>
<circle cx="452.21" cy="173.33" r="0.7" fill="#3b9fd9"/>
<circle cx="451.61" cy="165.67" r="0.7" fill="#3b9fd9"/>
<circle cx="451.06" cy="176.13" r="0.7" fill="#3b9fd9"/>
<circle cx="451.27" cy="176.30" r="0.7" fill="#3b9fd9"/>
<circle cx="452.51" cy="168.61" r="0.7" fill="#3b9fd9"/>
<circle cx="452.68" cy="171.10" r="0.7" fill="#3b9fd9"/>
<circle cx="452.32" cy="179.50" r="0.7" fill="#3b9fd9"/>
<circle cx="452.71" cy="173.44" r="0.7" fill="#3b9fd9"/>
<circle cx="451.60" cy="169.75" r="0.7" fill="#3b9fd9"/>
<circle cx="452.50" cy="164.90" r="0.7" fill="#3b9fd9"/>
<circle cx="452.50" cy="190.10" r="0.7" fill="#3b9fd9"/>
<line x1="459.70" y1="162.20" x2="459.70" y2="180.10" stroke="#62b8e6" stroke-width="0.65"/>
<line x1="458.40" y1="162.20" x2="461.00" y2="162.20" stroke="#62b8e6" stroke-width="0.75"/>
<line x1="458.40" y1="180.10" x2="461.00" y2="180.10" stroke="#62b8e6" stroke-width="0.75"/>
<rect x="457.50" y="169.70" width="4.40" height="10.40" fill="#b3def5" stroke="#62b8e6" stroke-width="0.5"/>
<line x1="457.50" y1="175.43" x2="461.90" y2="175.43" stroke="#3b9fd9" stroke-width="0.8"/>
<circle cx="458.78" cy="176.42" r="0.7" fill="#3b9fd9"/>
<circle cx="457.77" cy="172.60" r="0.7" fill="#3b9fd9"/>
<circle cx="461.53" cy="172.47" r="0.7" fill="#3b9fd9"/>
<circle cx="458.19" cy="178.73" r="0.7" fill="#3b9fd9"/>
<circle cx="458.65" cy="179.35" r="0.7" fill="#3b9fd9"/>
<circle cx="460.06" cy="179.47" r="0.7" fill="#3b9fd9"/>
<circle cx="459.14" cy="170.02" r="0.7" fill="#3b9fd9"/>
<circle cx="459.36" cy="166.66" r="0.7" fill="#3b9fd9"/>
<circle cx="459.98" cy="170.70" r="0.7" fill="#3b9fd9"/>
<circle cx="458.84" cy="172.21" r="0.7" fill="#3b9fd9"/>
<circle cx="458.71" cy="174.38" r="0.7" fill="#3b9fd9"/>
<circle cx="460.36" cy="172.89" r="0.7" fill="#3b9fd9"/>
<circle cx="457.92" cy="174.52" r="0.7" fill="#3b9fd9"/>
<circle cx="460.75" cy="170.16" r="0.7" fill="#3b9fd9"/>
<circle cx="459.72" cy="177.34" r="0.7" fill="#3b9fd9"/>
<circle cx="460.30" cy="179.44" r="0.7" fill="#3b9fd9"/>
<circle cx="459.13" cy="170.70" r="0.7" fill="#3b9fd9"/>
<circle cx="459.40" cy="177.62" r="0.7" fill="#3b9fd9"/>
<circle cx="457.89" cy="178.23" r="0.7" fill="#3b9fd9"/>
<circle cx="461.52" cy="174.79" r="0.7" fill="#3b9fd9"/>
<circle cx="460.56" cy="173.39" r="0.7" fill="#3b9fd9"/>
<circle cx="459.70" cy="162.70" r="0.7" fill="#3b9fd9"/>
<circle cx="459.70" cy="179.60" r="0.7" fill="#3b9fd9"/>
<line x1="467.30" y1="162.50" x2="467.30" y2="185.30" stroke="#62b8e6" stroke-width="0.65"/>
<line x1="466.00" y1="162.50" x2="468.60" y2="162.50" stroke="#62b8e6" stroke-width="0.75"/>
<line x1="466.00" y1="185.30" x2="468.60" y2="185.30" stroke="#62b8e6" stroke-width="0.75"/>
<rect x="465.10" y="164.40" width="4.40" height="15.70" fill="#b3def5" stroke="#62b8e6" stroke-width="0.5"/>
<line x1="465.10" y1="171.63" x2="469.50" y2="171.63" stroke="#3b9fd9" stroke-width="0.8"/>
<circle cx="466.61" cy="174.64" r="0.7" fill="#3b9fd9"/>
<circle cx="467.90" cy="172.95" r="0.7" fill="#3b9fd9"/>
<circle cx="466.62" cy="179.70" r="0.7" fill="#3b9fd9"/>
<circle cx="469.07" cy="169.60" r="0.7" fill="#3b9fd9"/>
<circle cx="469.24" cy="178.81" r="0.7" fill="#3b9fd9"/>
<circle cx="466.16" cy="175.58" r="0.7" fill="#3b9fd9"/>
<circle cx="466.28" cy="173.57" r="0.7" fill="#3b9fd9"/>
<circle cx="467.71" cy="167.49" r="0.7" fill="#3b9fd9"/>
<circle cx="468.46" cy="172.09" r="0.7" fill="#3b9fd9"/>
<circle cx="466.18" cy="174.46" r="0.7" fill="#3b9fd9"/>
<circle cx="466.50" cy="175.63" r="0.7" fill="#3b9fd9"/>
<circle cx="469.21" cy="174.10" r="0.7" fill="#3b9fd9"/>
<circle cx="469.02" cy="167.87" r="0.7" fill="#3b9fd9"/>
<circle cx="466.65" cy="175.40" r="0.7" fill="#3b9fd9"/>
<circle cx="465.50" cy="165.10" r="0.7" fill="#3b9fd9"/>
<circle cx="468.58" cy="176.94" r="0.7" fill="#3b9fd9"/>
<circle cx="468.00" cy="167.67" r="0.7" fill="#3b9fd9"/>
<circle cx="468.36" cy="174.88" r="0.7" fill="#3b9fd9"/>
<circle cx="466.02" cy="177.79" r="0.7" fill="#3b9fd9"/>
<circle cx="467.62" cy="173.50" r="0.7" fill="#3b9fd9"/>
<circle cx="467.71" cy="170.83" r="0.7" fill="#3b9fd9"/>
<circle cx="465.39" cy="171.41" r="0.7" fill="#3b9fd9"/>
<circle cx="465.54" cy="165.36" r="0.7" fill="#3b9fd9"/>
<circle cx="466.76" cy="176.60" r="0.7" fill="#3b9fd9"/>
<circle cx="466.63" cy="178.07" r="0.7" fill="#3b9fd9"/>
<circle cx="466.69" cy="175.89" r="0.7" fill="#3b9fd9"/>
<circle cx="467.30" cy="163.00" r="0.7" fill="#3b9fd9"/>
<circle cx="467.30" cy="184.80" r="0.7" fill="#3b9fd9"/>
<line x1="474.70" y1="166.40" x2="474.70" y2="181.40" stroke="#62b8e6" stroke-width="0.65"/>
<line x1="473.40" y1="166.40" x2="476.00" y2="166.40" stroke="#62b8e6" stroke-width="0.75"/>
<line x1="473.40" y1="181.40" x2="476.00" y2="181.40" stroke="#62b8e6" stroke-width="0.75"/>
<rect x="472.50" y="176.20" width="4.40" height="5.20" fill="#b3def5" stroke="#62b8e6" stroke-width="0.5"/>
<line x1="472.50" y1="178.48" x2="476.90" y2="178.48" stroke="#3b9fd9" stroke-width="0.8"/>
<circle cx="472.83" cy="180.53" r="0.7" fill="#3b9fd9"/>
<circle cx="475.55" cy="179.08" r="0.7" fill="#3b9fd9"/>
<circle cx="474.03" cy="172.30" r="0.7" fill="#3b9fd9"/>
<circle cx="473.68" cy="179.31" r="0.7" fill="#3b9fd9"/>
<circle cx="475.20" cy="178.45" r="0.7" fill="#3b9fd9"/>
<circle cx="476.50" cy="167.16" r="0.7" fill="#3b9fd9"/>
<circle cx="475.35" cy="177.85" r="0.7" fill="#3b9fd9"/>
<circle cx="474.52" cy="179.52" r="0.7" fill="#3b9fd9"/>
<circle cx="476.57" cy="178.66" r="0.7" fill="#3b9fd9"/>
<circle cx="472.73" cy="176.78" r="0.7" fill="#3b9fd9"/>
<circle cx="475.41" cy="177.75" r="0.7" fill="#3b9fd9"/>
<circle cx="472.88" cy="169.25" r="0.7" fill="#3b9fd9"/>
<circle cx="473.42" cy="178.33" r="0.7" fill="#3b9fd9"/>
<circle cx="473.25" cy="181.19" r="0.7" fill="#3b9fd9"/>
<circle cx="472.91" cy="181.33" r="0.7" fill="#3b9fd9"/>
<circle cx="473.95" cy="178.99" r="0.7" fill="#3b9fd9"/>
<circle cx="474.70" cy="166.90" r="0.7" fill="#3b9fd9"/>
<circle cx="474.70" cy="180.90" r="0.7" fill="#3b9fd9"/>
<line x1="482.20" y1="169.70" x2="482.20" y2="180.10" stroke="#62b8e6" stroke-width="0.65"/>
<line x1="480.90" y1="169.70" x2="483.50" y2="169.70" stroke="#62b8e6" stroke-width="0.75"/>
<line x1="480.90" y1="180.10" x2="483.50" y2="180.10" stroke="#62b8e6" stroke-width="0.75"/>
<rect x="480.00" y="171.00" width="4.40" height="5.80" fill="#b3def5" stroke="#62b8e6" stroke-width="0.5"/>
<line x1="480.00" y1="173.90" x2="484.40" y2="173.90" stroke="#3b9fd9" stroke-width="0.8"/>
<circle cx="482.58" cy="176.59" r="0.7" fill="#3b9fd9"/>
<circle cx="483.02" cy="178.81" r="0.7" fill="#3b9fd9"/>
<circle cx="483.10" cy="172.14" r="0.7" fill="#3b9fd9"/>
<circle cx="480.73" cy="177.42" r="0.7" fill="#3b9fd9"/>
<circle cx="480.48" cy="172.17" r="0.7" fill="#3b9fd9"/>
<circle cx="482.80" cy="173.11" r="0.7" fill="#3b9fd9"/>
<circle cx="483.23" cy="173.62" r="0.7" fill="#3b9fd9"/>
<circle cx="482.85" cy="174.73" r="0.7" fill="#3b9fd9"/>
<circle cx="481.36" cy="173.03" r="0.7" fill="#3b9fd9"/>
<circle cx="480.40" cy="170.85" r="0.7" fill="#3b9fd9"/>
<circle cx="483.13" cy="176.42" r="0.7" fill="#3b9fd9"/>
<circle cx="480.95" cy="174.65" r="0.7" fill="#3b9fd9"/>
<circle cx="483.82" cy="173.48" r="0.7" fill="#3b9fd9"/>
<circle cx="481.75" cy="173.10" r="0.7" fill="#3b9fd9"/>
<circle cx="483.47" cy="175.15" r="0.7" fill="#3b9fd9"/>
<circle cx="483.32" cy="172.84" r="0.7" fill="#3b9fd9"/>
<circle cx="481.63" cy="177.40" r="0.7" fill="#3b9fd9"/>
<circle cx="482.20" cy="170.20" r="0.7" fill="#3b9fd9"/>
<circle cx="482.20" cy="179.60" r="0.7" fill="#3b9fd9"/>
<line x1="489.50" y1="166.40" x2="489.50" y2="185.30" stroke="#62b8e6" stroke-width="0.65"/>
<line x1="488.20" y1="166.40" x2="490.80" y2="166.40" stroke="#62b8e6" stroke-width="0.75"/>
<line x1="488.20" y1="185.30" x2="490.80" y2="185.30" stroke="#62b8e6" stroke-width="0.75"/>
<rect x="487.30" y="171.60" width="4.40" height="7.20" fill="#b3def5" stroke="#62b8e6" stroke-width="0.5"/>
<line x1="487.30" y1="175.66" x2="491.70" y2="175.66" stroke="#3b9fd9" stroke-width="0.8"/>
<circle cx="488.77" cy="177.80" r="0.7" fill="#3b9fd9"/>
<circle cx="490.50" cy="169.92" r="0.7" fill="#3b9fd9"/>
<circle cx="488.82" cy="177.44" r="0.7" fill="#3b9fd9"/>
<circle cx="488.75" cy="175.53" r="0.7" fill="#3b9fd9"/>
<circle cx="490.91" cy="172.22" r="0.7" fill="#3b9fd9"/>
<circle cx="488.64" cy="173.33" r="0.7" fill="#3b9fd9"/>
<circle cx="489.63" cy="173.07" r="0.7" fill="#3b9fd9"/>
<circle cx="489.40" cy="171.63" r="0.7" fill="#3b9fd9"/>
<circle cx="489.14" cy="171.60" r="0.7" fill="#3b9fd9"/>
<circle cx="490.93" cy="167.79" r="0.7" fill="#3b9fd9"/>
<circle cx="489.87" cy="178.16" r="0.7" fill="#3b9fd9"/>
<circle cx="487.70" cy="177.24" r="0.7" fill="#3b9fd9"/>
<circle cx="491.13" cy="178.05" r="0.7" fill="#3b9fd9"/>
<circle cx="487.76" cy="174.70" r="0.7" fill="#3b9fd9"/>
<circle cx="491.44" cy="174.54" r="0.7" fill="#3b9fd9"/>
<circle cx="490.94" cy="178.03" r="0.7" fill="#3b9fd9"/>
<circle cx="488.58" cy="171.98" r="0.7" fill="#3b9fd9"/>
<circle cx="490.77" cy="177.66" r="0.7" fill="#3b9fd9"/>
<circle cx="489.50" cy="166.90" r="0.7" fill="#3b9fd9"/>
<circle cx="489.50" cy="184.80" r="0.7" fill="#3b9fd9"/>
<line x1="497.00" y1="173.60" x2="497.00" y2="193.20" stroke="#62b8e6" stroke-width="0.65"/>
<line x1="495.70" y1="173.60" x2="498.30" y2="173.60" stroke="#62b8e6" stroke-width="0.75"/>
<line x1="495.70" y1="193.20" x2="498.30" y2="193.20" stroke="#62b8e6" stroke-width="0.75"/>
<rect x="494.80" y="176.80" width="4.40" height="14.70" fill="#b3def5" stroke="#62b8e6" stroke-width="0.5"/>
<line x1="494.80" y1="184.10" x2="499.20" y2="184.10" stroke="#3b9fd9" stroke-width="0.8"/>
<circle cx="496.48" cy="180.44" r="0.7" fill="#3b9fd9"/>
<circle cx="498.75" cy="185.61" r="0.7" fill="#3b9fd9"/>
<circle cx="495.53" cy="189.02" r="0.7" fill="#3b9fd9"/>
<circle cx="496.80" cy="184.80" r="0.7" fill="#3b9fd9"/>
<circle cx="498.09" cy="182.10" r="0.7" fill="#3b9fd9"/>
<circle cx="496.62" cy="190.35" r="0.7" fill="#3b9fd9"/>
<circle cx="495.90" cy="184.90" r="0.7" fill="#3b9fd9"/>
<circle cx="495.29" cy="184.90" r="0.7" fill="#3b9fd9"/>
<circle cx="496.42" cy="184.85" r="0.7" fill="#3b9fd9"/>
<circle cx="496.21" cy="181.80" r="0.7" fill="#3b9fd9"/>
<circle cx="497.67" cy="188.09" r="0.7" fill="#3b9fd9"/>
<circle cx="495.40" cy="189.23" r="0.7" fill="#3b9fd9"/>
<circle cx="495.59" cy="177.94" r="0.7" fill="#3b9fd9"/>
<circle cx="495.27" cy="188.19" r="0.7" fill="#3b9fd9"/>
<circle cx="497.59" cy="185.61" r="0.7" fill="#3b9fd9"/>
<circle cx="497.57" cy="187.32" r="0.7" fill="#3b9fd9"/>
<circle cx="495.86" cy="180.92" r="0.7" fill="#3b9fd9"/>
<circle cx="498.47" cy="179.37" r="0.7" fill="#3b9fd9"/>
<circle cx="497.92" cy="191.36" r="0.7" fill="#3b9fd9"/>
<circle cx="498.39" cy="189.56" r="0.7" fill="#3b9fd9"/>
<circle cx="495.07" cy="183.21" r="0.7" fill="#3b9fd9"/>
<circle cx="498.56" cy="190.42" r="0.7" fill="#3b9fd9"/>
<circle cx="495.95" cy="182.15" r="0.7" fill="#3b9fd9"/>
<circle cx="497.60" cy="183.40" r="0.7" fill="#3b9fd9"/>
<circle cx="496.81" cy="180.73" r="0.7" fill="#3b9fd9"/>
<circle cx="497.00" cy="174.10" r="0.7" fill="#3b9fd9"/>
<circle cx="497.00" cy="192.70" r="0.7" fill="#3b9fd9"/>
<line x1="504.40" y1="161.80" x2="504.40" y2="206.90" stroke="#62b8e6" stroke-width="0.65"/>
<line x1="503.10" y1="161.80" x2="505.70" y2="161.80" stroke="#62b8e6" stroke-width="0.75"/>
<line x1="503.10" y1="206.90" x2="505.70" y2="206.90" stroke="#62b8e6" stroke-width="0.75"/>
<rect x="502.20" y="175.50" width="4.40" height="9.20" fill="#b3def5" stroke="#62b8e6" stroke-width="0.5"/>
<line x1="502.20" y1="180.48" x2="506.60" y2="180.48" stroke="#3b9fd9" stroke-width="0.8"/>
<circle cx="503.07" cy="171.28" r="0.7" fill="#3b9fd9"/>
<circle cx="504.64" cy="180.85" r="0.7" fill="#3b9fd9"/>
<circle cx="503.64" cy="181.57" r="0.7" fill="#3b9fd9"/>
<circle cx="504.77" cy="183.74" r="0.7" fill="#3b9fd9"/>
<circle cx="503.30" cy="178.39" r="0.7" fill="#3b9fd9"/>
<circle cx="502.54" cy="178.02" r="0.7" fill="#3b9fd9"/>
<circle cx="504.40" cy="180.10" r="0.7" fill="#3b9fd9"/>
<circle cx="504.87" cy="180.05" r="0.7" fill="#3b9fd9"/>
<circle cx="503.24" cy="184.69" r="0.7" fill="#3b9fd9"/>
<circle cx="502.60" cy="177.04" r="0.7" fill="#3b9fd9"/>
<circle cx="505.22" cy="178.38" r="0.7" fill="#3b9fd9"/>
<circle cx="505.22" cy="179.00" r="0.7" fill="#3b9fd9"/>
<circle cx="503.28" cy="177.59" r="0.7" fill="#3b9fd9"/>
<circle cx="504.70" cy="171.82" r="0.7" fill="#3b9fd9"/>
<circle cx="505.14" cy="180.14" r="0.7" fill="#3b9fd9"/>
<circle cx="504.20" cy="180.68" r="0.7" fill="#3b9fd9"/>
<circle cx="504.16" cy="191.96" r="0.7" fill="#3b9fd9"/>
<circle cx="505.70" cy="192.02" r="0.7" fill="#3b9fd9"/>
<circle cx="503.12" cy="183.49" r="0.7" fill="#3b9fd9"/>
<circle cx="503.57" cy="176.59" r="0.7" fill="#3b9fd9"/>
<circle cx="504.40" cy="162.30" r="0.7" fill="#3b9fd9"/>
<circle cx="504.40" cy="206.40" r="0.7" fill="#3b9fd9"/>
<text x="386.30" y="133.20" font-size="6.0" fill="#c50f2e" font-style="italic" textLength="55.00" lengthAdjust="spacingAndGlyphs">Ppm1d<tspan font-size="72%" dy="-2.6">f/f</tspan><tspan dy="2.6">; Mx-Cre+</tspan></text>
<text x="450.80" y="133.20" font-size="6.0" fill="#45ace3" font-style="italic" textLength="53.50" lengthAdjust="spacingAndGlyphs">Ppm1d<tspan font-size="72%" dy="-2.6">f/f</tspan><tspan dy="2.6">; Mx-Cre-</tspan></text>
<text x="444.90" y="231.30" font-size="8.6" text-anchor="middle" stroke="#222222" stroke-width="0.15" textLength="52.00" lengthAdjust="spacingAndGlyphs">Months after pIpC</text>
<text x="366.20" y="173.50" font-size="8.4" text-anchor="middle" stroke="#222222" stroke-width="0.15" textLength="21.60" lengthAdjust="spacingAndGlyphs" transform="rotate(-90 366.20 173.50)">Hct (%)</text>
<text x="12.20" y="168.60" font-size="10.2" fill="#111" font-weight="bold" stroke="#111" stroke-width="0.25">C</text>
<line x1="41.30" y1="180.40" x2="41.30" y2="261.40" stroke="#262626" stroke-width="1.35"/>
<line x1="38.50" y1="260.80" x2="41.30" y2="260.80" stroke="#262626" stroke-width="0.95"/>
<text x="37.30" y="263.18" font-size="6.6" text-anchor="end" stroke="#222222" stroke-width="0.15" textLength="3.10" lengthAdjust="spacingAndGlyphs">0</text>
<line x1="38.50" y1="244.80" x2="41.30" y2="244.80" stroke="#262626" stroke-width="0.95"/>
<text x="37.30" y="247.18" font-size="6.6" text-anchor="end" stroke="#222222" stroke-width="0.15" textLength="6.20" lengthAdjust="spacingAndGlyphs">10</text>
<line x1="38.50" y1="228.80" x2="41.30" y2="228.80" stroke="#262626" stroke-width="0.95"/>
<text x="37.30" y="231.18" font-size="6.6" text-anchor="end" stroke="#222222" stroke-width="0.15" textLength="6.20" lengthAdjust="spacingAndGlyphs">20</text>
<line x1="38.50" y1="212.80" x2="41.30" y2="212.80" stroke="#262626" stroke-width="0.95"/>
<text x="37.30" y="215.18" font-size="6.6" text-anchor="end" stroke="#222222" stroke-width="0.15" textLength="6.20" lengthAdjust="spacingAndGlyphs">30</text>
<line x1="38.50" y1="196.80" x2="41.30" y2="196.80" stroke="#262626" stroke-width="0.95"/>
<text x="37.30" y="199.18" font-size="6.6" text-anchor="end" stroke="#222222" stroke-width="0.15" textLength="6.20" lengthAdjust="spacingAndGlyphs">40</text>
<line x1="38.50" y1="180.80" x2="41.30" y2="180.80" stroke="#262626" stroke-width="0.95"/>
<text x="37.30" y="183.18" font-size="6.6" text-anchor="end" stroke="#222222" stroke-width="0.15" textLength="6.20" lengthAdjust="spacingAndGlyphs">50</text>
<line x1="40.70" y1="260.80" x2="179.00" y2="260.80" stroke="#262626" stroke-width="1.35"/>
<rect x="45.60" y="258.56" width="7.60" height="2.24" fill="#c50f2e"/>
<rect x="53.20" y="259.20" width="7.60" height="1.60" fill="#29a8e0"/>
<line x1="49.40" y1="257.92" x2="49.40" y2="259.20" stroke="#222" stroke-width="0.6"/>
<line x1="47.70" y1="257.92" x2="51.10" y2="257.92" stroke="#222" stroke-width="0.6"/>
<line x1="47.70" y1="259.20" x2="51.10" y2="259.20" stroke="#222" stroke-width="0.6"/>
<line x1="57.00" y1="258.72" x2="57.00" y2="259.68" stroke="#222" stroke-width="0.6"/>
<line x1="55.30" y1="258.72" x2="58.70" y2="258.72" stroke="#222" stroke-width="0.6"/>
<line x1="55.30" y1="259.68" x2="58.70" y2="259.68" stroke="#222" stroke-width="0.6"/>
<line x1="53.20" y1="260.80" x2="53.20" y2="263.60" stroke="#262626" stroke-width="0.95"/>
<text x="54.80" y="268.80" font-size="6.6" text-anchor="end" stroke="#222222" stroke-width="0.15" textLength="10.50" lengthAdjust="spacingAndGlyphs" transform="rotate(-45 54.80 268.80)">LSK</text>
<rect x="68.30" y="200.80" width="7.60" height="60.00" fill="#c50f2e"/>
<rect x="75.90" y="209.28" width="7.60" height="51.52" fill="#29a8e0"/>
<line x1="72.10" y1="196.96" x2="72.10" y2="204.64" stroke="#222" stroke-width="0.6"/>
<line x1="70.40" y1="196.96" x2="73.80" y2="196.96" stroke="#222" stroke-width="0.6"/>
<line x1="70.40" y1="204.64" x2="73.80" y2="204.64" stroke="#222" stroke-width="0.6"/>
<line x1="79.70" y1="204.48" x2="79.70" y2="214.08" stroke="#222" stroke-width="0.6"/>
<line x1="78.00" y1="204.48" x2="81.40" y2="204.48" stroke="#222" stroke-width="0.6"/>
<line x1="78.00" y1="214.08" x2="81.40" y2="214.08" stroke="#222" stroke-width="0.6"/>
<line x1="75.90" y1="260.80" x2="75.90" y2="263.60" stroke="#262626" stroke-width="0.95"/>
<text x="77.50" y="268.80" font-size="6.6" text-anchor="end" stroke="#222222" stroke-width="0.15" textLength="19.50" lengthAdjust="spacingAndGlyphs" transform="rotate(-45 77.50 268.80)">LT-HSC</text>
<rect x="91.10" y="243.20" width="7.60" height="17.60" fill="#c50f2e"/>
<rect x="98.70" y="235.20" width="7.60" height="25.60" fill="#29a8e0"/>
<line x1="94.90" y1="241.28" x2="94.90" y2="245.12" stroke="#222" stroke-width="0.6"/>
<line x1="93.20" y1="241.28" x2="96.60" y2="241.28" stroke="#222" stroke-width="0.6"/>
<line x1="93.20" y1="245.12" x2="96.60" y2="245.12" stroke="#222" stroke-width="0.6"/>
<line x1="102.50" y1="231.52" x2="102.50" y2="238.88" stroke="#222" stroke-width="0.6"/>
<line x1="100.80" y1="231.52" x2="104.20" y2="231.52" stroke="#222" stroke-width="0.6"/>
<line x1="100.80" y1="238.88" x2="104.20" y2="238.88" stroke="#222" stroke-width="0.6"/>
<line x1="98.70" y1="260.80" x2="98.70" y2="263.60" stroke="#262626" stroke-width="0.95"/>
<text x="100.30" y="268.80" font-size="6.6" text-anchor="end" stroke="#222222" stroke-width="0.15" textLength="19.50" lengthAdjust="spacingAndGlyphs" transform="rotate(-45 100.30 268.80)">ST-HSC</text>
<rect x="113.80" y="239.20" width="7.60" height="21.60" fill="#c50f2e"/>
<rect x="121.40" y="240.64" width="7.60" height="20.16" fill="#29a8e0"/>
<line x1="117.60" y1="237.60" x2="117.60" y2="240.80" stroke="#222" stroke-width="0.6"/>
<line x1="115.90" y1="237.60" x2="119.30" y2="237.60" stroke="#222" stroke-width="0.6"/>
<line x1="115.90" y1="240.80" x2="119.30" y2="240.80" stroke="#222" stroke-width="0.6"/>
<line x1="125.20" y1="237.76" x2="125.20" y2="243.52" stroke="#222" stroke-width="0.6"/>
<line x1="123.50" y1="237.76" x2="126.90" y2="237.76" stroke="#222" stroke-width="0.6"/>
<line x1="123.50" y1="243.52" x2="126.90" y2="243.52" stroke="#222" stroke-width="0.6"/>
<line x1="121.40" y1="260.80" x2="121.40" y2="263.60" stroke="#262626" stroke-width="0.95"/>
<text x="123.00" y="268.80" font-size="6.6" text-anchor="end" stroke="#222222" stroke-width="0.15" textLength="15.50" lengthAdjust="spacingAndGlyphs" transform="rotate(-45 123.00 268.80)">MPP2</text>
<rect x="136.80" y="200.00" width="7.60" height="60.80" fill="#c50f2e"/>
<rect x="144.40" y="199.20" width="7.60" height="61.60" fill="#29a8e0"/>
<line x1="140.60" y1="196.48" x2="140.60" y2="203.52" stroke="#222" stroke-width="0.6"/>
<line x1="138.90" y1="196.48" x2="142.30" y2="196.48" stroke="#222" stroke-width="0.6"/>
<line x1="138.90" y1="203.52" x2="142.30" y2="203.52" stroke="#222" stroke-width="0.6"/>
<line x1="148.20" y1="193.60" x2="148.20" y2="204.80" stroke="#222" stroke-width="0.6"/>
<line x1="146.50" y1="193.60" x2="149.90" y2="193.60" stroke="#222" stroke-width="0.6"/>
<line x1="146.50" y1="204.80" x2="149.90" y2="204.80" stroke="#222" stroke-width="0.6"/>
<line x1="144.40" y1="260.80" x2="144.40" y2="263.60" stroke="#262626" stroke-width="0.95"/>
<text x="146.00" y="268.80" font-size="6.6" text-anchor="end" stroke="#222222" stroke-width="0.15" textLength="15.50" lengthAdjust="spacingAndGlyphs" transform="rotate(-45 146.00 268.80)">MPP3</text>
<rect x="159.40" y="216.00" width="7.60" height="44.80" fill="#c50f2e"/>
<rect x="167.00" y="212.00" width="7.60" height="48.80" fill="#29a8e0"/>
<line x1="163.20" y1="212.48" x2="163.20" y2="219.52" stroke="#222" stroke-width="0.6"/>
<line x1="161.50" y1="212.48" x2="164.90" y2="212.48" stroke="#222" stroke-width="0.6"/>
<line x1="161.50" y1="219.52" x2="164.90" y2="219.52" stroke="#222" stroke-width="0.6"/>
<line x1="170.80" y1="210.40" x2="170.80" y2="213.60" stroke="#222" stroke-width="0.6"/>
<line x1="169.10" y1="210.40" x2="172.50" y2="210.40" stroke="#222" stroke-width="0.6"/>
<line x1="169.10" y1="213.60" x2="172.50" y2="213.60" stroke="#222" stroke-width="0.6"/>
<line x1="167.00" y1="260.80" x2="167.00" y2="263.60" stroke="#262626" stroke-width="0.95"/>
<text x="168.60" y="268.80" font-size="6.6" text-anchor="end" stroke="#222222" stroke-width="0.15" textLength="15.50" lengthAdjust="spacingAndGlyphs" transform="rotate(-45 168.60 268.80)">MPP4</text>
<text x="45.10" y="182.80" font-size="6.4" fill="#c50f2e" font-style="italic" textLength="46.60" lengthAdjust="spacingAndGlyphs">Ppm1d<tspan font-size="72%" dy="-2.5">f/f</tspan><tspan dy="2.5">; Mx-Cre+</tspan></text>
<text x="45.10" y="193.50" font-size="6.4" fill="#29a8e0" font-style="italic" textLength="47.50" lengthAdjust="spacingAndGlyphs">Ppm1d<tspan font-size="72%" dy="-2.5">f/f</tspan><tspan dy="2.5">; Mx-Cre-</tspan></text>
<text x="110.60" y="293.80" font-size="8.6" text-anchor="middle" stroke="#222222" stroke-width="0.15" textLength="31.00" lengthAdjust="spacingAndGlyphs">Population</text>
<text x="22.80" y="219.50" font-size="8.4" text-anchor="middle" stroke="#222222" stroke-width="0.15" textLength="67.00" lengthAdjust="spacingAndGlyphs" transform="rotate(-90 22.80 219.50)">% of parent population</text>
<text x="188.60" y="249.30" font-size="10.2" fill="#111" font-weight="bold" stroke="#111" stroke-width="0.25">D</text>
<text x="213.30" y="250.50" font-size="6.9" stroke="#222222" stroke-width="0.15" textLength="62.70" lengthAdjust="spacingAndGlyphs"><tspan font-style="italic">Ppm1d</tspan><tspan font-size="72%" dy="-2.5">+/+</tspan><tspan dy="2.5"> or </tspan><tspan font-style="italic">Ppm1d</tspan><tspan font-size="62%" dy="-2.3">f/f</tspan></text>
<path d="M227.80,253.90 L227.80,258.30 Q227.90,260.00 231.10,260.20 Q233.00,260.50 233.60,263.50" stroke="#3a3a3a" fill="none" stroke-width="0.72" stroke-linejoin="round"/>
<path d="M233.50,263.90 L255.80,263.90 M233.50,263.90 C234.50,259.30 237.50,256.10 241.50,255.70 C244.00,255.40 246.00,255.40 247.40,255.30 C247.60,253.80 249.30,253.00 250.70,253.60 C251.80,254.10 252.20,254.80 252.70,255.30 C253.80,255.90 253.90,257.10 253.40,257.90 L252.40,260.30 L255.80,263.90" stroke="#3a3a3a" fill="none" stroke-width="0.72" stroke-linejoin="round"/>
<path d="M248.10,254.80 C248.70,254.00 249.90,254.00 250.40,254.60" stroke="#3a3a3a" fill="none" stroke-width="0.45"/>
<path d="M253.90,264.15 L255.10,261.90 L256.40,264.15 Z" stroke="none" fill="#111" stroke-width="0.8"/>
<text x="234.00" y="271.20" font-size="6.9" stroke="#222222" stroke-width="0.15" textLength="22.00" lengthAdjust="spacingAndGlyphs">CD45.2</text>
<text x="246.40" y="286.20" font-size="6.9" text-anchor="middle" stroke="#222222" stroke-width="0.15" textLength="9.50" lengthAdjust="spacingAndGlyphs">WT</text>
<path d="M227.80,289.20 L227.80,293.60 Q227.90,295.30 231.10,295.50 Q233.00,295.80 233.60,298.80" stroke="#3a3a3a" fill="none" stroke-width="0.72" stroke-linejoin="round"/>
<path d="M233.50,299.20 L255.80,299.20 M233.50,299.20 C234.50,294.60 237.50,291.40 241.50,291.00 C244.00,290.70 246.00,290.70 247.40,290.60 C247.60,289.10 249.30,288.30 250.70,288.90 C251.80,289.40 252.20,290.10 252.70,290.60 C253.80,291.20 253.90,292.40 253.40,293.20 L252.40,295.60 L255.80,299.20" stroke="#3a3a3a" fill="none" stroke-width="0.72" stroke-linejoin="round"/>
<path d="M248.10,290.10 C248.70,289.30 249.90,289.30 250.40,289.90" stroke="#3a3a3a" fill="none" stroke-width="0.45"/>
<path d="M253.90,299.45 L255.10,297.20 L256.40,299.45 Z" stroke="none" fill="#111" stroke-width="0.8"/>
<text x="231.70" y="306.60" font-size="6.9" stroke="#222222" stroke-width="0.15" textLength="27.00" lengthAdjust="spacingAndGlyphs">CD45.1/2</text>
<path d="M285.80,274.00 L285.80,278.40 Q285.90,280.10 289.10,280.30 Q291.00,280.60 291.60,283.60" stroke="#3a3a3a" fill="none" stroke-width="0.72" stroke-linejoin="round"/>
<path d="M291.50,284.00 L313.80,284.00 M291.50,284.00 C292.50,279.40 295.50,276.20 299.50,275.80 C302.00,275.50 304.00,275.50 305.40,275.40 C305.60,273.90 307.30,273.10 308.70,273.70 C309.80,274.20 310.20,274.90 310.70,275.40 C311.80,276.00 311.90,277.20 311.40,278.00 L310.40,280.40 L313.80,284.00" stroke="#3a3a3a" fill="none" stroke-width="0.72" stroke-linejoin="round"/>
<path d="M306.10,274.90 C306.70,274.10 307.90,274.10 308.40,274.70" stroke="#3a3a3a" fill="none" stroke-width="0.45"/>
<path d="M311.90,284.25 L313.10,282.00 L314.40,284.25 Z" stroke="none" fill="#111" stroke-width="0.8"/>
<text x="292.30" y="290.90" font-size="6.9" stroke="#222222" stroke-width="0.15" textLength="20.80" lengthAdjust="spacingAndGlyphs">CD45.1</text>
<path d="M260,259.2 Q285,261.5 288.8,269.3" stroke="#333" fill="none" stroke-width="0.75"/>
<path d="M286.9,268.9 L290.1,272.2 L290.5,267.9 Z" stroke="none" fill="#111" stroke-width="0.8"/>
<path d="M260,301.1 Q285,299 289.0,290.6" stroke="#333" fill="none" stroke-width="0.75"/>
<path d="M287.2,291.0 L290.6,287.8 L290.9,292.0 Z" stroke="none" fill="#111" stroke-width="0.8"/>
<text x="284.30" y="262.10" font-size="6.9" text-anchor="middle" stroke="#222222" stroke-width="0.15" textLength="9.00" lengthAdjust="spacingAndGlyphs">BM</text>
<text x="275.60" y="270.10" font-size="6.9" text-anchor="middle" stroke="#222222" stroke-width="0.15" font-style="italic" textLength="11.00" lengthAdjust="spacingAndGlyphs">50%</text>
<text x="275.60" y="294.20" font-size="6.9" text-anchor="middle" stroke="#222222" stroke-width="0.15" font-style="italic" textLength="11.00" lengthAdjust="spacingAndGlyphs">50%</text>
<text x="284.30" y="303.40" font-size="6.9" text-anchor="middle" stroke="#222222" stroke-width="0.15" textLength="9.00" lengthAdjust="spacingAndGlyphs">BM</text>
<line x1="315.50" y1="278.60" x2="368.50" y2="278.60" stroke="#48566a" stroke-width="1.25"/>
<path d="M373.80,278.60 L368.20,281.60 L369.10,278.60 L368.20,275.60 Z" stroke="none" fill="#48566a" stroke-width="0.8"/>
<text x="320.60" y="266.20" font-size="6.9" stroke="#222222" stroke-width="0.15" textLength="43.00" lengthAdjust="spacingAndGlyphs">Hematopoietic</text>
<text x="322.00" y="273.60" font-size="6.9" stroke="#222222" stroke-width="0.15" textLength="41.00" lengthAdjust="spacingAndGlyphs">Reconstitution</text>
<text x="378.00" y="269.20" font-size="7.0" fill="#111" font-weight="bold" textLength="30.00" lengthAdjust="spacingAndGlyphs">Treatment</text>
<text x="383.80" y="277.00" font-size="6.9" stroke="#222222" stroke-width="0.15" textLength="19.40" lengthAdjust="spacingAndGlyphs">Vehicle</text>
<text x="381.50" y="284.30" font-size="6.9" stroke="#222222" stroke-width="0.15" textLength="23.70" lengthAdjust="spacingAndGlyphs">Cisplatin</text>
<text x="388.20" y="291.80" font-size="6.9" stroke="#222222" stroke-width="0.15" textLength="10.60" lengthAdjust="spacingAndGlyphs">XRT</text>
<line x1="407.50" y1="278.40" x2="479.50" y2="278.40" stroke="#48566a" stroke-width="1.25"/>
<path d="M484.80,278.40 L479.20,281.40 L480.10,278.40 L479.20,275.40 Z" stroke="none" fill="#48566a" stroke-width="0.8"/>
<text x="486.80" y="277.00" font-size="7.0" fill="#111" font-weight="bold" textLength="24.50" lengthAdjust="spacingAndGlyphs">Relative</text>
<text x="487.60" y="284.50" font-size="7.0" fill="#111" font-weight="bold" textLength="21.60" lengthAdjust="spacingAndGlyphs">Fitness</text>
<text x="420.50" y="289.50" font-size="6.9" stroke="#222222" stroke-width="0.15" textLength="50.50" lengthAdjust="spacingAndGlyphs">Serial bleeding to</text>
<text x="421.30" y="297.20" font-size="6.9" stroke="#222222" stroke-width="0.15" textLength="48.70" lengthAdjust="spacingAndGlyphs">assess chimerism</text>
<text x="436.90" y="304.50" font-size="6.9" stroke="#222222" stroke-width="0.15" textLength="15.90" lengthAdjust="spacingAndGlyphs">FACS</text>
<rect x="431.70" y="240.70" width="30.10" height="28.50" fill="#fff" stroke="#9a9a9a" stroke-width="1.7"/>
<line x1="447.00" y1="240.60" x2="447.00" y2="269.30" stroke="#9a9a9a" stroke-width="1.6"/>
<line x1="431.60" y1="254.50" x2="461.90" y2="254.50" stroke="#9a9a9a" stroke-width="1.6"/>
<circle cx="438.11" cy="245.13" r="0.62" fill="#111"/>
<circle cx="441.25" cy="244.44" r="0.62" fill="#111"/>
<circle cx="440.14" cy="247.02" r="0.62" fill="#111"/>
<circle cx="435.56" cy="248.27" r="0.62" fill="#111"/>
<circle cx="435.36" cy="247.62" r="0.62" fill="#111"/>
<circle cx="435.67" cy="244.60" r="0.62" fill="#111"/>
<circle cx="439.08" cy="251.08" r="0.62" fill="#111"/>
<circle cx="436.19" cy="245.76" r="0.62" fill="#111"/>
<circle cx="441.02" cy="252.14" r="0.62" fill="#111"/>
<circle cx="440.54" cy="247.29" r="0.62" fill="#111"/>
<circle cx="444.37" cy="244.21" r="0.62" fill="#111"/>
<circle cx="443.24" cy="246.35" r="0.62" fill="#111"/>
<circle cx="436.38" cy="244.84" r="0.62" fill="#111"/>
<circle cx="437.96" cy="250.98" r="0.62" fill="#111"/>
<circle cx="436.73" cy="248.92" r="0.62" fill="#111"/>
<circle cx="441.13" cy="247.08" r="0.62" fill="#111"/>
<circle cx="440.26" cy="244.35" r="0.62" fill="#111"/>
<circle cx="435.57" cy="245.61" r="0.62" fill="#111"/>
<circle cx="441.53" cy="247.56" r="0.62" fill="#111"/>
<circle cx="438.02" cy="248.95" r="0.62" fill="#111"/>
<circle cx="439.35" cy="246.44" r="0.62" fill="#111"/>
<circle cx="442.63" cy="249.95" r="0.62" fill="#111"/>
<circle cx="452.84" cy="248.85" r="0.62" fill="#111"/>
<circle cx="455.54" cy="251.50" r="0.62" fill="#111"/>
<circle cx="457.50" cy="246.33" r="0.62" fill="#111"/>
<circle cx="459.91" cy="244.84" r="0.62" fill="#111"/>
<circle cx="454.51" cy="250.46" r="0.62" fill="#111"/>
<circle cx="451.96" cy="248.10" r="0.62" fill="#111"/>
<circle cx="450.88" cy="249.68" r="0.62" fill="#111"/>
<circle cx="457.84" cy="248.84" r="0.62" fill="#111"/>
<circle cx="458.90" cy="246.56" r="0.62" fill="#111"/>
<circle cx="457.17" cy="249.03" r="0.62" fill="#111"/>
<circle cx="456.07" cy="247.81" r="0.62" fill="#111"/>
<circle cx="458.56" cy="252.11" r="0.62" fill="#111"/>
<circle cx="455.05" cy="249.64" r="0.62" fill="#111"/>
<circle cx="451.08" cy="249.97" r="0.62" fill="#111"/>
<circle cx="456.71" cy="252.54" r="0.62" fill="#111"/>
<circle cx="458.39" cy="246.30" r="0.62" fill="#111"/>
<circle cx="454.20" cy="249.68" r="0.62" fill="#111"/>
<circle cx="450.72" cy="247.86" r="0.62" fill="#111"/>
<circle cx="452.11" cy="244.83" r="0.62" fill="#111"/>
<circle cx="451.07" cy="250.56" r="0.62" fill="#111"/>
<circle cx="451.74" cy="245.98" r="0.62" fill="#111"/>
<circle cx="454.25" cy="251.47" r="0.62" fill="#111"/>
<circle cx="451.27" cy="261.85" r="0.62" fill="#111"/>
<circle cx="455.77" cy="265.67" r="0.62" fill="#111"/>
<circle cx="458.37" cy="265.50" r="0.62" fill="#111"/>
<circle cx="453.17" cy="261.55" r="0.62" fill="#111"/>
<circle cx="453.94" cy="265.68" r="0.62" fill="#111"/>
<circle cx="459.69" cy="259.23" r="0.62" fill="#111"/>
<circle cx="452.19" cy="259.94" r="0.62" fill="#111"/>
<circle cx="452.74" cy="262.17" r="0.62" fill="#111"/>
<circle cx="456.16" cy="260.21" r="0.62" fill="#111"/>
<circle cx="450.54" cy="261.59" r="0.62" fill="#111"/>
<circle cx="454.04" cy="262.88" r="0.62" fill="#111"/>
<circle cx="459.65" cy="263.98" r="0.62" fill="#111"/>
<circle cx="455.45" cy="263.33" r="0.62" fill="#111"/>
<circle cx="456.99" cy="258.38" r="0.62" fill="#111"/>
<circle cx="459.14" cy="264.76" r="0.62" fill="#111"/>
<circle cx="458.90" cy="264.92" r="0.62" fill="#111"/>
<circle cx="454.27" cy="261.41" r="0.62" fill="#111"/>
<circle cx="451.49" cy="263.48" r="0.62" fill="#111"/>
<circle cx="451.10" cy="258.49" r="0.62" fill="#111"/>
<circle cx="452.50" cy="259.33" r="0.62" fill="#111"/>
<circle cx="453.76" cy="258.36" r="0.62" fill="#111"/>
<circle cx="450.50" cy="259.23" r="0.62" fill="#111"/>
<text x="436.30" y="276.20" font-size="6.9" stroke="#222222" stroke-width="0.15" textLength="21.70" lengthAdjust="spacingAndGlyphs">CD45.2</text>
<text x="428.60" y="255.00" font-size="6.9" text-anchor="middle" stroke="#222222" stroke-width="0.15" textLength="20.00" lengthAdjust="spacingAndGlyphs" transform="rotate(-90 428.60 255.00)">CD45.1</text>
<text x="56.60" y="330.20" font-size="10.2" fill="#111" font-weight="bold" stroke="#111" stroke-width="0.25">E</text>
<line x1="91.80" y1="329.60" x2="91.80" y2="407.20" stroke="#262626" stroke-width="1.35"/>
<line x1="89.00" y1="406.60" x2="91.80" y2="406.60" stroke="#262626" stroke-width="0.95"/>
<text x="87.80" y="408.90" font-size="6.4" text-anchor="end" stroke="#222222" stroke-width="0.15" textLength="3.20" lengthAdjust="spacingAndGlyphs">0</text>
<line x1="89.00" y1="393.83" x2="91.80" y2="393.83" stroke="#262626" stroke-width="0.95"/>
<text x="87.80" y="396.13" font-size="6.4" text-anchor="end" stroke="#222222" stroke-width="0.15" textLength="6.40" lengthAdjust="spacingAndGlyphs">10</text>
<line x1="89.00" y1="381.06" x2="91.80" y2="381.06" stroke="#262626" stroke-width="0.95"/>
<text x="87.80" y="383.36" font-size="6.4" text-anchor="end" stroke="#222222" stroke-width="0.15" textLength="6.40" lengthAdjust="spacingAndGlyphs">20</text>
<line x1="89.00" y1="368.29" x2="91.80" y2="368.29" stroke="#262626" stroke-width="0.95"/>
<text x="87.80" y="370.59" font-size="6.4" text-anchor="end" stroke="#222222" stroke-width="0.15" textLength="6.40" lengthAdjust="spacingAndGlyphs">30</text>
<line x1="89.00" y1="355.52" x2="91.80" y2="355.52" stroke="#262626" stroke-width="0.95"/>
<text x="87.80" y="357.82" font-size="6.4" text-anchor="end" stroke="#222222" stroke-width="0.15" textLength="6.40" lengthAdjust="spacingAndGlyphs">40</text>
<line x1="89.00" y1="342.75" x2="91.80" y2="342.75" stroke="#262626" stroke-width="0.95"/>
<text x="87.80" y="345.05" font-size="6.4" text-anchor="end" stroke="#222222" stroke-width="0.15" textLength="6.40" lengthAdjust="spacingAndGlyphs">50</text>
<line x1="89.00" y1="329.98" x2="91.80" y2="329.98" stroke="#262626" stroke-width="0.95"/>
<text x="87.80" y="332.28" font-size="6.4" text-anchor="end" stroke="#222222" stroke-width="0.15" textLength="6.40" lengthAdjust="spacingAndGlyphs">60</text>
<line x1="91.20" y1="406.60" x2="208.80" y2="406.60" stroke="#262626" stroke-width="1.35"/>
<line x1="91.80" y1="406.60" x2="91.80" y2="408.80" stroke="#262626" stroke-width="0.95"/>
<text x="91.80" y="417.00" font-size="6.4" text-anchor="middle" stroke="#222222" stroke-width="0.15">0</text>
<line x1="111.00" y1="406.60" x2="111.00" y2="408.80" stroke="#262626" stroke-width="0.95"/>
<text x="111.00" y="417.00" font-size="6.4" text-anchor="middle" stroke="#222222" stroke-width="0.15">2</text>
<line x1="130.20" y1="406.60" x2="130.20" y2="408.80" stroke="#262626" stroke-width="0.95"/>
<text x="130.20" y="417.00" font-size="6.4" text-anchor="middle" stroke="#222222" stroke-width="0.15">4</text>
<line x1="149.40" y1="406.60" x2="149.40" y2="408.80" stroke="#262626" stroke-width="0.95"/>
<text x="149.40" y="417.00" font-size="6.4" text-anchor="middle" stroke="#222222" stroke-width="0.15">6</text>
<line x1="168.60" y1="406.60" x2="168.60" y2="408.80" stroke="#262626" stroke-width="0.95"/>
<text x="168.60" y="417.00" font-size="6.4" text-anchor="middle" stroke="#222222" stroke-width="0.15">8</text>
<line x1="187.80" y1="406.60" x2="187.80" y2="408.80" stroke="#262626" stroke-width="0.95"/>
<text x="187.80" y="417.00" font-size="6.4" text-anchor="middle" stroke="#222222" stroke-width="0.15">10</text>
<line x1="207.00" y1="406.60" x2="207.00" y2="408.80" stroke="#262626" stroke-width="0.95"/>
<text x="207.00" y="417.00" font-size="6.4" text-anchor="middle" stroke="#222222" stroke-width="0.15">12</text>
<text x="118.80" y="428.20" font-size="8.6" stroke="#222222" stroke-width="0.15" textLength="65.00" lengthAdjust="spacingAndGlyphs">Weeks post transplant</text>
<text x="73.80" y="366.50" font-size="9.0" text-anchor="middle" stroke="#222222" stroke-width="0.15" textLength="37.70" lengthAdjust="spacingAndGlyphs" transform="rotate(-90 73.80 366.50)">% PB CD45.2</text>
<path d="M91.80,349.20 L130.20,348.80 L149.40,342.90 L178.20,341.50 L207.00,340.10" stroke="#ec9f93" fill="none" stroke-width="1.0"/>
<line x1="130.20" y1="347.50" x2="130.20" y2="350.10" stroke="#ec9f93" stroke-width="0.7"/>
<line x1="128.90" y1="347.50" x2="131.50" y2="347.50" stroke="#ec9f93" stroke-width="0.7"/>
<line x1="128.90" y1="350.10" x2="131.50" y2="350.10" stroke="#ec9f93" stroke-width="0.7"/>
<line x1="149.40" y1="340.90" x2="149.40" y2="344.90" stroke="#ec9f93" stroke-width="0.7"/>
<line x1="148.10" y1="340.90" x2="150.70" y2="340.90" stroke="#ec9f93" stroke-width="0.7"/>
<line x1="148.10" y1="344.90" x2="150.70" y2="344.90" stroke="#ec9f93" stroke-width="0.7"/>
<line x1="178.20" y1="338.90" x2="178.20" y2="344.10" stroke="#ec9f93" stroke-width="0.7"/>
<line x1="176.90" y1="338.90" x2="179.50" y2="338.90" stroke="#ec9f93" stroke-width="0.7"/>
<line x1="176.90" y1="344.10" x2="179.50" y2="344.10" stroke="#ec9f93" stroke-width="0.7"/>
<line x1="207.00" y1="336.90" x2="207.00" y2="343.30" stroke="#ec9f93" stroke-width="0.7"/>
<line x1="205.70" y1="336.90" x2="208.30" y2="336.90" stroke="#ec9f93" stroke-width="0.7"/>
<line x1="205.70" y1="343.30" x2="208.30" y2="343.30" stroke="#ec9f93" stroke-width="0.7"/>
<path d="M91.80,350.80 L130.20,395.30 L149.40,404.20 L178.20,405.90 L207.00,406.00" stroke="#8fd0f0" fill="none" stroke-width="1.0"/>
<path d="M91.80,350.80 L130.20,395.30 L149.40,402.80 L178.20,405.30 L207.00,405.80" stroke="#3fa3da" fill="none" stroke-width="1.0"/>
<path d="M91.80,350.80 L130.20,395.30 L149.40,397.70 L178.20,400.20 L207.00,396.60" stroke="#4db2e2" fill="none" stroke-width="1.0"/>
<circle cx="130.20" cy="395.30" r="1.0" fill="#3aa7dc"/>
<circle cx="149.40" cy="397.70" r="1.0" fill="#3aa7dc"/>
<circle cx="178.20" cy="400.20" r="1.0" fill="#3aa7dc"/>
<circle cx="207.00" cy="396.60" r="1.0" fill="#3aa7dc"/>
<circle cx="149.40" cy="403.30" r="1.0" fill="#3aa7dc"/>
<text x="95.40" y="328.50" font-size="6.3" fill="#ec9f93" textLength="64.00" lengthAdjust="spacingAndGlyphs"><tspan font-style="italic">Ppm1d</tspan><tspan font-size="72%" dy="-2.5">+/+</tspan><tspan dy="2.5"> vs Competitor</tspan></text>
<text x="95.40" y="337.00" font-size="6.3" fill="#3aa7dc" textLength="63.00" lengthAdjust="spacingAndGlyphs"><tspan font-style="italic">Ppm1d</tspan><tspan font-size="72%" dy="-2.5">f/f</tspan><tspan dy="2.5"> vs Competitor</tspan></text>
<line x1="130.60" y1="357.00" x2="130.60" y2="361.30" stroke="#111" stroke-width="0.9"/>
<path d="M129.10,360.70 L132.10,360.70 L130.60,363.90 Z" stroke="none" fill="#111" stroke-width="0.8"/>
<line x1="130.60" y1="367.50" x2="130.60" y2="371.70" stroke="#111" stroke-width="0.9"/>
<path d="M129.10,371.10 L132.10,371.10 L130.60,374.30 Z" stroke="none" fill="#111" stroke-width="0.8"/>
<line x1="136.90" y1="357.00" x2="136.90" y2="361.30" stroke="#111" stroke-width="0.9"/>
<path d="M135.40,360.70 L138.40,360.70 L136.90,363.90 Z" stroke="none" fill="#111" stroke-width="0.8"/>
<line x1="136.90" y1="367.50" x2="136.90" y2="371.70" stroke="#111" stroke-width="0.9"/>
<path d="M135.40,371.10 L138.40,371.10 L136.90,374.30 Z" stroke="none" fill="#111" stroke-width="0.8"/>
<line x1="143.40" y1="357.00" x2="143.40" y2="361.30" stroke="#111" stroke-width="0.9"/>
<path d="M141.90,360.70 L144.90,360.70 L143.40,363.90 Z" stroke="none" fill="#111" stroke-width="0.8"/>
<line x1="143.40" y1="367.50" x2="143.40" y2="371.70" stroke="#111" stroke-width="0.9"/>
<path d="M141.90,371.10 L144.90,371.10 L143.40,374.30 Z" stroke="none" fill="#111" stroke-width="0.8"/>
<line x1="149.80" y1="357.00" x2="149.80" y2="361.30" stroke="#111" stroke-width="0.9"/>
<path d="M148.30,360.70 L151.30,360.70 L149.80,363.90 Z" stroke="none" fill="#111" stroke-width="0.8"/>
<line x1="149.80" y1="367.50" x2="149.80" y2="371.70" stroke="#111" stroke-width="0.9"/>
<path d="M148.30,371.10 L151.30,371.10 L149.80,374.30 Z" stroke="none" fill="#111" stroke-width="0.8"/>
<line x1="156.20" y1="357.00" x2="156.20" y2="361.30" stroke="#111" stroke-width="0.9"/>
<path d="M154.70,360.70 L157.70,360.70 L156.20,363.90 Z" stroke="none" fill="#111" stroke-width="0.8"/>
<line x1="156.20" y1="367.50" x2="156.20" y2="371.70" stroke="#111" stroke-width="0.9"/>
<path d="M154.70,371.10 L157.70,371.10 L156.20,374.30 Z" stroke="none" fill="#111" stroke-width="0.8"/>
<line x1="130.60" y1="378.00" x2="130.60" y2="383.30" stroke="#111" stroke-width="0.9"/>
<path d="M129.1,382.8 L132.1,382.8 L130.6,386 Z" stroke="none" fill="#111" stroke-width="0.8"/>
<text x="162.30" y="362.50" font-size="6.9" stroke="#222222" stroke-width="0.15" textLength="19.60" lengthAdjust="spacingAndGlyphs">Vehicle</text>
<text x="162.30" y="373.10" font-size="6.9" stroke="#222222" stroke-width="0.15" textLength="24.00" lengthAdjust="spacingAndGlyphs">Cisplatin</text>
<text x="162.30" y="383.80" font-size="6.9" stroke="#222222" stroke-width="0.15" textLength="10.60" lengthAdjust="spacingAndGlyphs">XRT</text>
<text x="211.20" y="342.10" font-size="6.9" stroke="#222222" stroke-width="0.15" textLength="20.70" lengthAdjust="spacingAndGlyphs">Vehicle</text>
<text x="211.80" y="398.40" font-size="6.9" fill="#3aa7dc" textLength="20.00" lengthAdjust="spacingAndGlyphs">Vehicle</text>
<text x="211.80" y="407.00" font-size="6.9" fill="#3aa7dc" textLength="38.60" lengthAdjust="spacingAndGlyphs">XRT/Cisplatin</text>
<path d="M240.3,341 L243.2,341 L243.2,396.6 L240.3,396.6" stroke="#222" fill="none" stroke-width="0.9"/>
<text x="247.50" y="370.20" font-size="6.4" text-anchor="middle" stroke="#222222" stroke-width="0.15">**</text>
<path d="M252.4,397.2 L255.1,397.2 L255.1,405.3 L252.4,405.3" stroke="#222" fill="none" stroke-width="0.9"/>
<text x="258.00" y="402.00" font-size="6.4" text-anchor="middle" stroke="#222222" stroke-width="0.15">*</text>
<text x="277.60" y="330.20" font-size="10.2" fill="#111" font-weight="bold" stroke="#111" stroke-width="0.25">F</text>
<line x1="314.30" y1="329.60" x2="314.30" y2="407.20" stroke="#262626" stroke-width="1.35"/>
<line x1="311.50" y1="406.60" x2="314.30" y2="406.60" stroke="#262626" stroke-width="0.95"/>
<text x="310.30" y="408.90" font-size="6.4" text-anchor="end" stroke="#222222" stroke-width="0.15" textLength="3.20" lengthAdjust="spacingAndGlyphs">0</text>
<line x1="311.50" y1="391.30" x2="314.30" y2="391.30" stroke="#262626" stroke-width="0.95"/>
<text x="310.30" y="393.60" font-size="6.4" text-anchor="end" stroke="#222222" stroke-width="0.15" textLength="3.20" lengthAdjust="spacingAndGlyphs">5</text>
<line x1="311.50" y1="376.00" x2="314.30" y2="376.00" stroke="#262626" stroke-width="0.95"/>
<text x="310.30" y="378.30" font-size="6.4" text-anchor="end" stroke="#222222" stroke-width="0.15" textLength="6.40" lengthAdjust="spacingAndGlyphs">10</text>
<line x1="311.50" y1="360.70" x2="314.30" y2="360.70" stroke="#262626" stroke-width="0.95"/>
<text x="310.30" y="363.00" font-size="6.4" text-anchor="end" stroke="#222222" stroke-width="0.15" textLength="6.40" lengthAdjust="spacingAndGlyphs">15</text>
<line x1="311.50" y1="345.40" x2="314.30" y2="345.40" stroke="#262626" stroke-width="0.95"/>
<text x="310.30" y="347.70" font-size="6.4" text-anchor="end" stroke="#222222" stroke-width="0.15" textLength="6.40" lengthAdjust="spacingAndGlyphs">20</text>
<line x1="311.50" y1="330.10" x2="314.30" y2="330.10" stroke="#262626" stroke-width="0.95"/>
<text x="310.30" y="332.40" font-size="6.4" text-anchor="end" stroke="#222222" stroke-width="0.15" textLength="6.40" lengthAdjust="spacingAndGlyphs">25</text>
<line x1="313.70" y1="406.60" x2="437.50" y2="406.60" stroke="#262626" stroke-width="1.35"/>
<rect x="317.20" y="382.73" width="4.00" height="23.87" fill="#29a8e0"/>
<line x1="319.20" y1="379.98" x2="319.20" y2="383.73" stroke="#222" stroke-width="0.7"/>
<line x1="318.30" y1="379.98" x2="320.10" y2="379.98" stroke="#222" stroke-width="0.7"/>
<rect x="321.60" y="402.62" width="4.00" height="3.98" fill="#1d6b45"/>
<rect x="326.30" y="403.54" width="3.20" height="3.06" fill="#8a7fc2"/>
<line x1="327.90" y1="402.62" x2="327.90" y2="404.04" stroke="#333" stroke-width="0.6"/>
<line x1="327.00" y1="402.62" x2="328.80" y2="402.62" stroke="#333" stroke-width="0.6"/>
<line x1="323.60" y1="406.60" x2="323.60" y2="409.40" stroke="#262626" stroke-width="0.95"/>
<text x="325.40" y="413.10" font-size="6.3" text-anchor="end" stroke="#222222" stroke-width="0.15" textLength="7.50" lengthAdjust="spacingAndGlyphs" transform="rotate(-45 325.40 413.10)">PB</text>
<line x1="319.30" y1="368.70" x2="322.90" y2="368.70" stroke="#222" stroke-width="0.9"/>
<text x="320.90" y="367.80" font-size="5.2" text-anchor="middle" stroke="#222222" stroke-width="0.15">*</text>
<line x1="318.60" y1="360.00" x2="329.00" y2="360.00" stroke="#222" stroke-width="0.9"/>
<text x="323.70" y="359.10" font-size="5.2" text-anchor="middle" stroke="#222222" stroke-width="0.15">*</text>
<rect x="334.80" y="385.79" width="4.00" height="20.81" fill="#29a8e0"/>
<line x1="336.80" y1="381.51" x2="336.80" y2="386.79" stroke="#222" stroke-width="0.7"/>
<line x1="335.90" y1="381.51" x2="337.70" y2="381.51" stroke="#222" stroke-width="0.7"/>
<rect x="339.20" y="406.14" width="4.00" height="0.46" fill="#1d6b45"/>
<rect x="343.90" y="405.07" width="3.20" height="1.53" fill="#8a7fc2"/>
<line x1="345.50" y1="404.46" x2="345.50" y2="405.57" stroke="#333" stroke-width="0.6"/>
<line x1="344.60" y1="404.46" x2="346.40" y2="404.46" stroke="#333" stroke-width="0.6"/>
<line x1="341.20" y1="406.60" x2="341.20" y2="409.40" stroke="#262626" stroke-width="0.95"/>
<text x="343.00" y="413.10" font-size="6.3" text-anchor="end" stroke="#222222" stroke-width="0.15" textLength="8.50" lengthAdjust="spacingAndGlyphs" transform="rotate(-45 343.00 413.10)">BM</text>
<line x1="336.90" y1="368.70" x2="340.50" y2="368.70" stroke="#222" stroke-width="0.9"/>
<text x="338.50" y="367.80" font-size="5.2" text-anchor="middle" stroke="#222222" stroke-width="0.15">*</text>
<line x1="336.20" y1="360.00" x2="346.60" y2="360.00" stroke="#222" stroke-width="0.9"/>
<text x="341.30" y="359.10" font-size="5.2" text-anchor="middle" stroke="#222222" stroke-width="0.15">*</text>
<rect x="352.30" y="368.04" width="4.00" height="38.56" fill="#29a8e0"/>
<line x1="354.30" y1="364.68" x2="354.30" y2="369.04" stroke="#222" stroke-width="0.7"/>
<line x1="353.40" y1="364.68" x2="355.20" y2="364.68" stroke="#222" stroke-width="0.7"/>
<rect x="356.70" y="406.14" width="4.00" height="0.46" fill="#1d6b45"/>
<rect x="361.40" y="403.54" width="3.20" height="3.06" fill="#8a7fc2"/>
<line x1="363.00" y1="401.40" x2="363.00" y2="404.04" stroke="#333" stroke-width="0.6"/>
<line x1="362.10" y1="401.40" x2="363.90" y2="401.40" stroke="#333" stroke-width="0.6"/>
<line x1="358.70" y1="406.60" x2="358.70" y2="409.40" stroke="#262626" stroke-width="0.95"/>
<text x="360.50" y="413.10" font-size="6.3" text-anchor="end" stroke="#222222" stroke-width="0.15" textLength="6.50" lengthAdjust="spacingAndGlyphs" transform="rotate(-45 360.50 413.10)">LK</text>
<line x1="354.40" y1="357.50" x2="358.00" y2="357.50" stroke="#222" stroke-width="0.9"/>
<text x="356.00" y="356.60" font-size="5.2" text-anchor="middle" stroke="#222222" stroke-width="0.15">*</text>
<line x1="353.70" y1="348.60" x2="364.10" y2="348.60" stroke="#222" stroke-width="0.9"/>
<text x="358.80" y="347.70" font-size="5.2" text-anchor="middle" stroke="#222222" stroke-width="0.15">*</text>
<rect x="369.80" y="355.19" width="4.00" height="51.41" fill="#29a8e0"/>
<line x1="371.80" y1="352.13" x2="371.80" y2="356.19" stroke="#222" stroke-width="0.7"/>
<line x1="370.90" y1="352.13" x2="372.70" y2="352.13" stroke="#222" stroke-width="0.7"/>
<rect x="374.20" y="406.14" width="4.00" height="0.46" fill="#1d6b45"/>
<rect x="378.90" y="400.48" width="3.20" height="6.12" fill="#8a7fc2"/>
<line x1="380.50" y1="396.20" x2="380.50" y2="400.98" stroke="#333" stroke-width="0.6"/>
<line x1="379.60" y1="396.20" x2="381.40" y2="396.20" stroke="#333" stroke-width="0.6"/>
<line x1="376.20" y1="406.60" x2="376.20" y2="409.40" stroke="#262626" stroke-width="0.95"/>
<text x="378.00" y="413.10" font-size="6.3" text-anchor="end" stroke="#222222" stroke-width="0.15" textLength="10.50" lengthAdjust="spacingAndGlyphs" transform="rotate(-45 378.00 413.10)">LSK</text>
<line x1="371.90" y1="346.30" x2="375.50" y2="346.30" stroke="#222" stroke-width="0.9"/>
<text x="373.50" y="345.40" font-size="5.2" text-anchor="middle" stroke="#222222" stroke-width="0.15">*</text>
<line x1="371.20" y1="337.00" x2="381.60" y2="337.00" stroke="#222" stroke-width="0.9"/>
<text x="376.30" y="336.10" font-size="5.2" text-anchor="middle" stroke="#222222" stroke-width="0.15">*</text>
<rect x="387.50" y="346.93" width="4.00" height="59.67" fill="#29a8e0"/>
<line x1="389.50" y1="338.67" x2="389.50" y2="347.93" stroke="#222" stroke-width="0.7"/>
<line x1="388.60" y1="338.67" x2="390.40" y2="338.67" stroke="#222" stroke-width="0.7"/>
<rect x="391.90" y="405.38" width="4.00" height="1.22" fill="#1d6b45"/>
<rect x="396.60" y="398.03" width="3.20" height="8.57" fill="#8a7fc2"/>
<line x1="398.20" y1="390.99" x2="398.20" y2="398.53" stroke="#333" stroke-width="0.6"/>
<line x1="397.30" y1="390.99" x2="399.10" y2="390.99" stroke="#333" stroke-width="0.6"/>
<line x1="393.90" y1="406.60" x2="393.90" y2="409.40" stroke="#262626" stroke-width="0.95"/>
<text x="395.70" y="413.10" font-size="6.3" text-anchor="end" stroke="#222222" stroke-width="0.15" textLength="19.50" lengthAdjust="spacingAndGlyphs" transform="rotate(-45 395.70 413.10)">LT-HSC</text>
<line x1="389.60" y1="335.30" x2="393.20" y2="335.30" stroke="#222" stroke-width="0.9"/>
<text x="391.20" y="334.40" font-size="5.2" text-anchor="middle" stroke="#222222" stroke-width="0.15">*</text>
<line x1="388.90" y1="326.30" x2="399.30" y2="326.30" stroke="#222" stroke-width="0.9"/>
<text x="394.00" y="325.40" font-size="5.2" text-anchor="middle" stroke="#222222" stroke-width="0.15">*</text>
<rect x="405.10" y="384.26" width="4.00" height="22.34" fill="#29a8e0"/>
<line x1="407.10" y1="377.53" x2="407.10" y2="385.26" stroke="#222" stroke-width="0.7"/>
<line x1="406.20" y1="377.53" x2="408.00" y2="377.53" stroke="#222" stroke-width="0.7"/>
<rect x="409.50" y="406.14" width="4.00" height="0.46" fill="#1d6b45"/>
<rect x="414.20" y="405.07" width="3.20" height="1.53" fill="#8a7fc2"/>
<line x1="415.80" y1="402.62" x2="415.80" y2="405.57" stroke="#333" stroke-width="0.6"/>
<line x1="414.90" y1="402.62" x2="416.70" y2="402.62" stroke="#333" stroke-width="0.6"/>
<line x1="411.50" y1="406.60" x2="411.50" y2="409.40" stroke="#262626" stroke-width="0.95"/>
<text x="413.30" y="413.10" font-size="6.3" text-anchor="end" stroke="#222222" stroke-width="0.15" textLength="19.50" lengthAdjust="spacingAndGlyphs" transform="rotate(-45 413.30 413.10)">ST-HSC</text>
<line x1="407.20" y1="375.00" x2="410.80" y2="375.00" stroke="#222" stroke-width="0.9"/>
<text x="408.80" y="374.10" font-size="5.2" text-anchor="middle" stroke="#222222" stroke-width="0.15">*</text>
<line x1="406.50" y1="366.30" x2="416.90" y2="366.30" stroke="#222" stroke-width="0.9"/>
<text x="411.60" y="365.40" font-size="5.2" text-anchor="middle" stroke="#222222" stroke-width="0.15">*</text>
<rect x="422.90" y="358.25" width="4.00" height="48.35" fill="#29a8e0"/>
<line x1="424.90" y1="353.66" x2="424.90" y2="359.25" stroke="#222" stroke-width="0.7"/>
<line x1="424.00" y1="353.66" x2="425.80" y2="353.66" stroke="#222" stroke-width="0.7"/>
<rect x="427.30" y="406.14" width="4.00" height="0.46" fill="#1d6b45"/>
<rect x="432.00" y="402.32" width="3.20" height="4.28" fill="#8a7fc2"/>
<line x1="433.60" y1="399.56" x2="433.60" y2="402.82" stroke="#333" stroke-width="0.6"/>
<line x1="432.70" y1="399.56" x2="434.50" y2="399.56" stroke="#333" stroke-width="0.6"/>
<line x1="429.30" y1="406.60" x2="429.30" y2="409.40" stroke="#262626" stroke-width="0.95"/>
<text x="431.10" y="413.10" font-size="6.3" text-anchor="end" stroke="#222222" stroke-width="0.15" textLength="11.50" lengthAdjust="spacingAndGlyphs" transform="rotate(-45 431.10 413.10)">MPP</text>
<line x1="425.00" y1="351.60" x2="428.60" y2="351.60" stroke="#222" stroke-width="0.9"/>
<text x="426.60" y="350.70" font-size="5.2" text-anchor="middle" stroke="#222222" stroke-width="0.15">*</text>
<line x1="424.30" y1="342.30" x2="434.70" y2="342.30" stroke="#222" stroke-width="0.9"/>
<text x="429.40" y="341.40" font-size="5.2" text-anchor="middle" stroke="#222222" stroke-width="0.15">*</text>
<text x="441.20" y="361.20" font-size="6.6" fill="#29a8e0" textLength="18.30" lengthAdjust="spacingAndGlyphs">Vehicle</text>
<text x="441.20" y="369.20" font-size="6.6" fill="#2a7a50" textLength="22.50" lengthAdjust="spacingAndGlyphs">Cisplatin</text>
<text x="441.20" y="377.00" font-size="6.6" fill="#8a7fc2" textLength="9.30" lengthAdjust="spacingAndGlyphs">XRT</text>
<text x="343.80" y="438.70" font-size="8.6" stroke="#222222" stroke-width="0.15" textLength="65.00" lengthAdjust="spacingAndGlyphs">Cellular compartment</text>
<text x="297.20" y="366.80" font-size="8.4" text-anchor="middle" stroke="#222222" stroke-width="0.15" textLength="59.00" lengthAdjust="spacingAndGlyphs" transform="rotate(-90 297.20 366.80)">%CD45.2 <tspan font-style="italic">Ppm1d</tspan><tspan font-size="72%" dy="-2.5">f/f</tspan></text>
<text x="7.20" y="456.30" font-size="10.2" fill="#111" font-weight="bold" stroke="#111" stroke-width="0.25">G</text>
<text x="18.80" y="466.50" font-size="7.3" stroke="#222222" stroke-width="0.15" textLength="52.00" lengthAdjust="spacingAndGlyphs">Ppm1d<tspan font-size="72%" dy="-2.5">f/f</tspan><tspan dy="2.5">; Vav-Cre</tspan></text>
<path d="M25.93,472.90 L25.93,477.74 Q26.04,479.61 29.56,479.83 Q31.65,480.16 32.31,483.46" stroke="#3a3a3a" fill="none" stroke-width="0.72" stroke-linejoin="round"/>
<path d="M32.20,483.90 L56.73,483.90 M32.20,483.90 C33.30,478.84 36.60,475.32 41.00,474.88 C43.75,474.55 45.95,474.55 47.49,474.44 C47.71,472.79 49.58,471.91 51.12,472.57 C52.33,473.12 52.77,473.89 53.32,474.44 C54.53,475.10 54.64,476.42 54.09,477.30 L52.99,479.94 L56.73,483.90" stroke="#3a3a3a" fill="none" stroke-width="0.72" stroke-linejoin="round"/>
<path d="M48.26,473.89 C48.92,473.01 50.24,473.01 50.79,473.67" stroke="#3a3a3a" fill="none" stroke-width="0.45"/>
<path d="M54.64,484.17 L55.96,481.70 L57.39,484.17 Z" stroke="none" fill="#111" stroke-width="0.8"/>
<text x="34.20" y="490.50" font-size="7.3" stroke="#222222" stroke-width="0.15" textLength="21.00" lengthAdjust="spacingAndGlyphs">CD45.2</text>
<line x1="58.00" y1="480.30" x2="84.50" y2="480.30" stroke="#48566a" stroke-width="1.25"/>
<path d="M88.80,480.30 L84.20,482.80 L85.10,480.30 L84.20,477.80 Z" stroke="none" fill="#48566a" stroke-width="0.8"/>
<text x="68.00" y="475.80" font-size="7.3" stroke="#222222" stroke-width="0.15" textLength="9.30" lengthAdjust="spacingAndGlyphs">BM</text>
<text x="65.80" y="488.10" font-size="6.6" stroke="#222222" stroke-width="0.15" font-style="italic" textLength="15.40" lengthAdjust="spacingAndGlyphs">100%</text>
<path d="M94.03,473.60 L94.03,478.44 Q94.14,480.31 97.66,480.53 Q99.75,480.86 100.41,484.16" stroke="#3a3a3a" fill="none" stroke-width="0.72" stroke-linejoin="round"/>
<path d="M100.30,484.60 L124.83,484.60 M100.30,484.60 C101.40,479.54 104.70,476.02 109.10,475.58 C111.85,475.25 114.05,475.25 115.59,475.14 C115.81,473.49 117.68,472.61 119.22,473.27 C120.43,473.82 120.87,474.59 121.42,475.14 C122.63,475.80 122.74,477.12 122.19,478.00 L121.09,480.64 L124.83,484.60" stroke="#3a3a3a" fill="none" stroke-width="0.72" stroke-linejoin="round"/>
<path d="M116.36,474.59 C117.02,473.71 118.34,473.71 118.89,474.37" stroke="#3a3a3a" fill="none" stroke-width="0.45"/>
<path d="M122.74,484.88 L124.06,482.40 L125.49,484.88 Z" stroke="none" fill="#111" stroke-width="0.8"/>
<text x="102.20" y="492.30" font-size="7.3" stroke="#222222" stroke-width="0.15" textLength="20.90" lengthAdjust="spacingAndGlyphs">CD45.1</text>
<line x1="125.70" y1="480.00" x2="154.90" y2="480.00" stroke="#48566a" stroke-width="1.25"/>
<path d="M159.20,480.00 L154.60,482.50 L155.50,480.00 L154.60,477.50 Z" stroke="none" fill="#48566a" stroke-width="0.8"/>
<text x="127.70" y="475.40" font-size="7.3" stroke="#222222" stroke-width="0.15" textLength="25.70" lengthAdjust="spacingAndGlyphs">12 weeks</text>
<line x1="161.20" y1="479.90" x2="174.98" y2="471.44" stroke="#48566a" stroke-width="1.2"/>
<path d="M178.30,469.40 L175.92,473.56 L175.49,471.13 L173.52,469.64 Z" stroke="none" fill="#48566a" stroke-width="0.8"/>
<line x1="161.20" y1="480.10" x2="174.92" y2="487.96" stroke="#48566a" stroke-width="1.2"/>
<path d="M178.30,489.90 L173.51,489.81 L175.44,488.26 L175.80,485.82 Z" stroke="none" fill="#48566a" stroke-width="0.8"/>
<text x="180.40" y="470.90" font-size="7.3" stroke="#222222" stroke-width="0.15" textLength="21.60" lengthAdjust="spacingAndGlyphs">No XRT</text>
<text x="180.40" y="491.40" font-size="7.3" stroke="#222222" stroke-width="0.15" textLength="25.40" lengthAdjust="spacingAndGlyphs">5 Gy XRT</text>
<line x1="205.80" y1="468.10" x2="232.10" y2="468.10" stroke="#48566a" stroke-width="1.25"/>
<path d="M236.40,468.10 L231.80,470.60 L232.70,468.10 L231.80,465.60 Z" stroke="none" fill="#48566a" stroke-width="0.8"/>
<text x="212.10" y="463.50" font-size="7.3" stroke="#222222" stroke-width="0.15" textLength="8.90" lengthAdjust="spacingAndGlyphs">BM</text>
<text x="210.40" y="476.60" font-size="6.6" stroke="#222222" stroke-width="0.15" font-style="italic" textLength="14.00" lengthAdjust="spacingAndGlyphs">100%</text>
<path d="M241.20,462.10 L241.20,466.81 Q241.31,468.63 244.73,468.84 Q246.77,469.16 247.41,472.37" stroke="#3a3a3a" fill="none" stroke-width="0.72" stroke-linejoin="round"/>
<path d="M247.30,472.80 L271.16,472.80 M247.30,472.80 C248.37,467.88 251.58,464.45 255.86,464.03 C258.54,463.70 260.68,463.70 262.17,463.60 C262.39,461.99 264.21,461.14 265.70,461.78 C266.88,462.31 267.31,463.06 267.84,463.60 C269.02,464.24 269.13,465.52 268.59,466.38 L267.52,468.95 L271.16,472.80" stroke="#3a3a3a" fill="none" stroke-width="0.72" stroke-linejoin="round"/>
<path d="M262.92,463.06 C263.56,462.21 264.85,462.21 265.38,462.85" stroke="#3a3a3a" fill="none" stroke-width="0.45"/>
<path d="M269.13,473.07 L270.41,470.66 L271.80,473.07 Z" stroke="none" fill="#111" stroke-width="0.8"/>
<text x="249.20" y="479.60" font-size="7.3" stroke="#222222" stroke-width="0.15" textLength="20.40" lengthAdjust="spacingAndGlyphs">CD45.1</text>
<text x="18.80" y="514.50" font-size="7.3" stroke="#222222" stroke-width="0.15" textLength="53.00" lengthAdjust="spacingAndGlyphs">Ppm1d<tspan font-size="72%" dy="-2.5">+/+</tspan><tspan dy="2.5">; Vav-Cre</tspan></text>
<path d="M25.93,520.90 L25.93,525.74 Q26.04,527.61 29.56,527.83 Q31.65,528.16 32.31,531.46" stroke="#3a3a3a" fill="none" stroke-width="0.72" stroke-linejoin="round"/>
<path d="M32.20,531.90 L56.73,531.90 M32.20,531.90 C33.30,526.84 36.60,523.32 41.00,522.88 C43.75,522.55 45.95,522.55 47.49,522.44 C47.71,520.79 49.58,519.91 51.12,520.57 C52.33,521.12 52.77,521.89 53.32,522.44 C54.53,523.10 54.64,524.42 54.09,525.30 L52.99,527.94 L56.73,531.90" stroke="#3a3a3a" fill="none" stroke-width="0.72" stroke-linejoin="round"/>
<path d="M48.26,521.89 C48.92,521.01 50.24,521.01 50.79,521.67" stroke="#3a3a3a" fill="none" stroke-width="0.45"/>
<path d="M54.64,532.17 L55.96,529.70 L57.39,532.17 Z" stroke="none" fill="#111" stroke-width="0.8"/>
<text x="34.20" y="538.50" font-size="7.3" stroke="#222222" stroke-width="0.15" textLength="21.00" lengthAdjust="spacingAndGlyphs">CD45.2</text>
<line x1="58.00" y1="528.30" x2="84.50" y2="528.30" stroke="#48566a" stroke-width="1.25"/>
<path d="M88.80,528.30 L84.20,530.80 L85.10,528.30 L84.20,525.80 Z" stroke="none" fill="#48566a" stroke-width="0.8"/>
<text x="68.00" y="523.80" font-size="7.3" stroke="#222222" stroke-width="0.15" textLength="9.30" lengthAdjust="spacingAndGlyphs">BM</text>
<text x="65.80" y="536.10" font-size="6.6" stroke="#222222" stroke-width="0.15" font-style="italic" textLength="15.40" lengthAdjust="spacingAndGlyphs">100%</text>
<path d="M94.03,521.60 L94.03,526.44 Q94.14,528.31 97.66,528.53 Q99.75,528.86 100.41,532.16" stroke="#3a3a3a" fill="none" stroke-width="0.72" stroke-linejoin="round"/>
<path d="M100.30,532.60 L124.83,532.60 M100.30,532.60 C101.40,527.54 104.70,524.02 109.10,523.58 C111.85,523.25 114.05,523.25 115.59,523.14 C115.81,521.49 117.68,520.61 119.22,521.27 C120.43,521.82 120.87,522.59 121.42,523.14 C122.63,523.80 122.74,525.12 122.19,526.00 L121.09,528.64 L124.83,532.60" stroke="#3a3a3a" fill="none" stroke-width="0.72" stroke-linejoin="round"/>
<path d="M116.36,522.59 C117.02,521.71 118.34,521.71 118.89,522.37" stroke="#3a3a3a" fill="none" stroke-width="0.45"/>
<path d="M122.74,532.88 L124.06,530.40 L125.49,532.88 Z" stroke="none" fill="#111" stroke-width="0.8"/>
<text x="102.20" y="540.30" font-size="7.3" stroke="#222222" stroke-width="0.15" textLength="20.90" lengthAdjust="spacingAndGlyphs">CD45.1</text>
<line x1="125.70" y1="528.00" x2="154.90" y2="528.00" stroke="#48566a" stroke-width="1.25"/>
<path d="M159.20,528.00 L154.60,530.50 L155.50,528.00 L154.60,525.50 Z" stroke="none" fill="#48566a" stroke-width="0.8"/>
<text x="127.70" y="523.40" font-size="7.3" stroke="#222222" stroke-width="0.15" textLength="25.70" lengthAdjust="spacingAndGlyphs">12 weeks</text>
<line x1="161.20" y1="527.90" x2="174.98" y2="519.44" stroke="#48566a" stroke-width="1.2"/>
<path d="M178.30,517.40 L175.92,521.56 L175.49,519.13 L173.52,517.64 Z" stroke="none" fill="#48566a" stroke-width="0.8"/>
<line x1="161.20" y1="528.10" x2="174.92" y2="535.96" stroke="#48566a" stroke-width="1.2"/>
<path d="M178.30,537.90 L173.51,537.81 L175.44,536.26 L175.80,533.82 Z" stroke="none" fill="#48566a" stroke-width="0.8"/>
<text x="180.40" y="518.90" font-size="7.3" stroke="#222222" stroke-width="0.15" textLength="21.60" lengthAdjust="spacingAndGlyphs">No XRT</text>
<text x="180.40" y="539.40" font-size="7.3" stroke="#222222" stroke-width="0.15" textLength="25.40" lengthAdjust="spacingAndGlyphs">5 Gy XRT</text>
<line x1="205.80" y1="516.10" x2="232.10" y2="516.10" stroke="#48566a" stroke-width="1.25"/>
<path d="M236.40,516.10 L231.80,518.60 L232.70,516.10 L231.80,513.60 Z" stroke="none" fill="#48566a" stroke-width="0.8"/>
<text x="212.10" y="511.50" font-size="7.3" stroke="#222222" stroke-width="0.15" textLength="8.90" lengthAdjust="spacingAndGlyphs">BM</text>
<text x="210.40" y="524.60" font-size="6.6" stroke="#222222" stroke-width="0.15" font-style="italic" textLength="14.00" lengthAdjust="spacingAndGlyphs">100%</text>
<path d="M241.20,510.10 L241.20,514.81 Q241.31,516.63 244.73,516.84 Q246.77,517.16 247.41,520.37" stroke="#3a3a3a" fill="none" stroke-width="0.72" stroke-linejoin="round"/>
<path d="M247.30,520.80 L271.16,520.80 M247.30,520.80 C248.37,515.88 251.58,512.45 255.86,512.03 C258.54,511.70 260.68,511.70 262.17,511.60 C262.39,509.99 264.21,509.14 265.70,509.78 C266.88,510.31 267.31,511.06 267.84,511.60 C269.02,512.24 269.13,513.52 268.59,514.38 L267.52,516.95 L271.16,520.80" stroke="#3a3a3a" fill="none" stroke-width="0.72" stroke-linejoin="round"/>
<path d="M262.92,511.06 C263.56,510.21 264.85,510.21 265.38,510.85" stroke="#3a3a3a" fill="none" stroke-width="0.45"/>
<path d="M269.13,521.07 L270.41,518.66 L271.80,521.07 Z" stroke="none" fill="#111" stroke-width="0.8"/>
<text x="249.20" y="527.60" font-size="7.3" stroke="#222222" stroke-width="0.15" textLength="20.40" lengthAdjust="spacingAndGlyphs">CD45.1</text>
<text x="287.20" y="455.70" font-size="10.2" fill="#111" font-weight="bold" stroke="#111" stroke-width="0.25">H</text>
<line x1="330.50" y1="460.20" x2="330.50" y2="526.40" stroke="#262626" stroke-width="1.35"/>
<line x1="327.70" y1="525.80" x2="330.50" y2="525.80" stroke="#262626" stroke-width="0.95"/>
<text x="326.50" y="528.10" font-size="6.4" text-anchor="end" stroke="#222222" stroke-width="0.15" textLength="3.20" lengthAdjust="spacingAndGlyphs">0</text>
<line x1="327.70" y1="509.50" x2="330.50" y2="509.50" stroke="#262626" stroke-width="0.95"/>
<text x="326.50" y="511.80" font-size="6.4" text-anchor="end" stroke="#222222" stroke-width="0.15" textLength="6.40" lengthAdjust="spacingAndGlyphs">25</text>
<line x1="327.70" y1="493.20" x2="330.50" y2="493.20" stroke="#262626" stroke-width="0.95"/>
<text x="326.50" y="495.50" font-size="6.4" text-anchor="end" stroke="#222222" stroke-width="0.15" textLength="6.40" lengthAdjust="spacingAndGlyphs">50</text>
<line x1="327.70" y1="476.90" x2="330.50" y2="476.90" stroke="#262626" stroke-width="0.95"/>
<text x="326.50" y="479.20" font-size="6.4" text-anchor="end" stroke="#222222" stroke-width="0.15" textLength="6.40" lengthAdjust="spacingAndGlyphs">75</text>
<line x1="327.70" y1="460.60" x2="330.50" y2="460.60" stroke="#262626" stroke-width="0.95"/>
<text x="326.50" y="462.90" font-size="6.4" text-anchor="end" stroke="#222222" stroke-width="0.15" textLength="9.60" lengthAdjust="spacingAndGlyphs">100</text>
<line x1="329.90" y1="525.80" x2="449.50" y2="525.80" stroke="#262626" stroke-width="1.35"/>
<line x1="330.50" y1="525.80" x2="330.50" y2="528.00" stroke="#262626" stroke-width="0.95"/>
<text x="330.50" y="536.00" font-size="6.4" text-anchor="middle" stroke="#222222" stroke-width="0.15">0</text>
<line x1="359.66" y1="525.80" x2="359.66" y2="528.00" stroke="#262626" stroke-width="0.95"/>
<text x="359.66" y="536.00" font-size="6.4" text-anchor="middle" stroke="#222222" stroke-width="0.15">4</text>
<line x1="388.82" y1="525.80" x2="388.82" y2="528.00" stroke="#262626" stroke-width="0.95"/>
<text x="388.82" y="536.00" font-size="6.4" text-anchor="middle" stroke="#222222" stroke-width="0.15">8</text>
<line x1="417.98" y1="525.80" x2="417.98" y2="528.00" stroke="#262626" stroke-width="0.95"/>
<text x="417.98" y="536.00" font-size="6.4" text-anchor="middle" stroke="#222222" stroke-width="0.15">12</text>
<line x1="447.14" y1="525.80" x2="447.14" y2="528.00" stroke="#262626" stroke-width="0.95"/>
<text x="447.14" y="536.00" font-size="6.4" text-anchor="middle" stroke="#222222" stroke-width="0.15">16</text>
<text x="358.00" y="547.00" font-size="8.6" stroke="#222222" stroke-width="0.15" textLength="65.00" lengthAdjust="spacingAndGlyphs">Weeks post transplant</text>
<text x="309.80" y="491.50" font-size="8.4" text-anchor="middle" stroke="#222222" stroke-width="0.15" textLength="85.70" lengthAdjust="spacingAndGlyphs" transform="rotate(-90 309.80 491.50)">Total PB CD45.2% chimerism</text>
<path d="M330.50,460.60 L359.66,472.34 L388.82,467.77 L417.98,467.12 L447.14,474.94" stroke="#f4b9b2" fill="none" stroke-width="1.0"/>
<circle cx="330.50" cy="460.60" r="1.15" fill="#f4b9b2"/>
<circle cx="359.66" cy="472.34" r="1.15" fill="#f4b9b2"/>
<line x1="359.66" y1="471.03" x2="359.66" y2="473.64" stroke="#f4b9b2" stroke-width="0.7"/>
<line x1="358.46" y1="471.03" x2="360.86" y2="471.03" stroke="#f4b9b2" stroke-width="0.7"/>
<line x1="358.46" y1="473.64" x2="360.86" y2="473.64" stroke="#f4b9b2" stroke-width="0.7"/>
<circle cx="388.82" cy="467.77" r="1.15" fill="#f4b9b2"/>
<line x1="388.82" y1="466.47" x2="388.82" y2="469.08" stroke="#f4b9b2" stroke-width="0.7"/>
<line x1="387.62" y1="466.47" x2="390.02" y2="466.47" stroke="#f4b9b2" stroke-width="0.7"/>
<line x1="387.62" y1="469.08" x2="390.02" y2="469.08" stroke="#f4b9b2" stroke-width="0.7"/>
<circle cx="417.98" cy="467.12" r="1.15" fill="#f4b9b2"/>
<line x1="417.98" y1="465.82" x2="417.98" y2="468.42" stroke="#f4b9b2" stroke-width="0.7"/>
<line x1="416.78" y1="465.82" x2="419.18" y2="465.82" stroke="#f4b9b2" stroke-width="0.7"/>
<line x1="416.78" y1="468.42" x2="419.18" y2="468.42" stroke="#f4b9b2" stroke-width="0.7"/>
<circle cx="447.14" cy="474.94" r="1.15" fill="#f4b9b2"/>
<line x1="447.14" y1="472.99" x2="447.14" y2="476.90" stroke="#f4b9b2" stroke-width="0.7"/>
<line x1="445.94" y1="472.99" x2="448.34" y2="472.99" stroke="#f4b9b2" stroke-width="0.7"/>
<line x1="445.94" y1="476.90" x2="448.34" y2="476.90" stroke="#f4b9b2" stroke-width="0.7"/>
<path d="M330.50,460.60 L359.66,491.90 L388.82,487.98 L417.98,488.64 L447.14,514.06" stroke="#b4def6" fill="none" stroke-width="1.0"/>
<circle cx="330.50" cy="460.60" r="1.15" fill="#b4def6"/>
<circle cx="359.66" cy="491.90" r="1.15" fill="#b4def6"/>
<line x1="359.66" y1="489.94" x2="359.66" y2="493.85" stroke="#b4def6" stroke-width="0.7"/>
<line x1="358.46" y1="489.94" x2="360.86" y2="489.94" stroke="#b4def6" stroke-width="0.7"/>
<line x1="358.46" y1="493.85" x2="360.86" y2="493.85" stroke="#b4def6" stroke-width="0.7"/>
<circle cx="388.82" cy="487.98" r="1.15" fill="#b4def6"/>
<line x1="388.82" y1="485.38" x2="388.82" y2="490.59" stroke="#b4def6" stroke-width="0.7"/>
<line x1="387.62" y1="485.38" x2="390.02" y2="485.38" stroke="#b4def6" stroke-width="0.7"/>
<line x1="387.62" y1="490.59" x2="390.02" y2="490.59" stroke="#b4def6" stroke-width="0.7"/>
<circle cx="417.98" cy="488.64" r="1.15" fill="#b4def6"/>
<line x1="417.98" y1="485.38" x2="417.98" y2="491.90" stroke="#b4def6" stroke-width="0.7"/>
<line x1="416.78" y1="485.38" x2="419.18" y2="485.38" stroke="#b4def6" stroke-width="0.7"/>
<line x1="416.78" y1="491.90" x2="419.18" y2="491.90" stroke="#b4def6" stroke-width="0.7"/>
<circle cx="447.14" cy="514.06" r="1.15" fill="#b4def6"/>
<line x1="447.14" y1="512.11" x2="447.14" y2="516.02" stroke="#b4def6" stroke-width="0.7"/>
<line x1="445.94" y1="512.11" x2="448.34" y2="512.11" stroke="#b4def6" stroke-width="0.7"/>
<line x1="445.94" y1="516.02" x2="448.34" y2="516.02" stroke="#b4def6" stroke-width="0.7"/>
<path d="M330.50,460.60 L359.66,488.64 L388.82,485.38 L417.98,488.31 L447.14,488.31" stroke="#3aa5da" fill="none" stroke-width="1.2"/>
<circle cx="330.50" cy="460.60" r="1.15" fill="#3aa5da"/>
<circle cx="359.66" cy="488.64" r="1.15" fill="#3aa5da"/>
<line x1="359.66" y1="486.03" x2="359.66" y2="491.24" stroke="#3aa5da" stroke-width="0.7"/>
<line x1="358.46" y1="486.03" x2="360.86" y2="486.03" stroke="#3aa5da" stroke-width="0.7"/>
<line x1="358.46" y1="491.24" x2="360.86" y2="491.24" stroke="#3aa5da" stroke-width="0.7"/>
<circle cx="388.82" cy="485.38" r="1.15" fill="#3aa5da"/>
<line x1="388.82" y1="480.16" x2="388.82" y2="490.59" stroke="#3aa5da" stroke-width="0.7"/>
<line x1="387.62" y1="480.16" x2="390.02" y2="480.16" stroke="#3aa5da" stroke-width="0.7"/>
<line x1="387.62" y1="490.59" x2="390.02" y2="490.59" stroke="#3aa5da" stroke-width="0.7"/>
<circle cx="417.98" cy="488.31" r="1.15" fill="#3aa5da"/>
<line x1="417.98" y1="481.79" x2="417.98" y2="494.83" stroke="#3aa5da" stroke-width="0.7"/>
<line x1="416.78" y1="481.79" x2="419.18" y2="481.79" stroke="#3aa5da" stroke-width="0.7"/>
<line x1="416.78" y1="494.83" x2="419.18" y2="494.83" stroke="#3aa5da" stroke-width="0.7"/>
<circle cx="447.14" cy="488.31" r="1.15" fill="#3aa5da"/>
<line x1="447.14" y1="481.79" x2="447.14" y2="494.83" stroke="#3aa5da" stroke-width="0.7"/>
<line x1="445.94" y1="481.79" x2="448.34" y2="481.79" stroke="#3aa5da" stroke-width="0.7"/>
<line x1="445.94" y1="494.83" x2="448.34" y2="494.83" stroke="#3aa5da" stroke-width="0.7"/>
<path d="M330.50,460.60 L359.66,471.68 L388.82,467.45 L417.98,467.12 L447.14,472.99" stroke="#c1223f" fill="none" stroke-width="1.4"/>
<circle cx="330.50" cy="460.60" r="1.15" fill="#c1223f"/>
<circle cx="359.66" cy="471.68" r="1.15" fill="#c1223f"/>
<line x1="359.66" y1="471.03" x2="359.66" y2="472.34" stroke="#c1223f" stroke-width="0.7"/>
<line x1="358.46" y1="471.03" x2="360.86" y2="471.03" stroke="#c1223f" stroke-width="0.7"/>
<line x1="358.46" y1="472.34" x2="360.86" y2="472.34" stroke="#c1223f" stroke-width="0.7"/>
<circle cx="388.82" cy="467.45" r="1.15" fill="#c1223f"/>
<line x1="388.82" y1="466.79" x2="388.82" y2="468.10" stroke="#c1223f" stroke-width="0.7"/>
<line x1="387.62" y1="466.79" x2="390.02" y2="466.79" stroke="#c1223f" stroke-width="0.7"/>
<line x1="387.62" y1="468.10" x2="390.02" y2="468.10" stroke="#c1223f" stroke-width="0.7"/>
<circle cx="417.98" cy="467.12" r="1.15" fill="#c1223f"/>
<line x1="417.98" y1="466.14" x2="417.98" y2="468.10" stroke="#c1223f" stroke-width="0.7"/>
<line x1="416.78" y1="466.14" x2="419.18" y2="466.14" stroke="#c1223f" stroke-width="0.7"/>
<line x1="416.78" y1="468.10" x2="419.18" y2="468.10" stroke="#c1223f" stroke-width="0.7"/>
<circle cx="447.14" cy="472.99" r="1.15" fill="#c1223f"/>
<line x1="447.14" y1="471.36" x2="447.14" y2="474.62" stroke="#c1223f" stroke-width="0.7"/>
<line x1="445.94" y1="471.36" x2="448.34" y2="471.36" stroke="#c1223f" stroke-width="0.7"/>
<line x1="445.94" y1="474.62" x2="448.34" y2="474.62" stroke="#c1223f" stroke-width="0.7"/>
<line x1="419.00" y1="514.60" x2="419.00" y2="508.00" stroke="#111" stroke-width="0.9"/>
<path d="M417.4,508.6 L420.6,508.6 L419,504.8 Z" stroke="none" fill="#111" stroke-width="0.8"/>
<text x="405.00" y="522.70" font-size="6.6" stroke="#222222" stroke-width="0.15" textLength="27.00" lengthAdjust="spacingAndGlyphs">XRT (5 Gy)</text>
<line x1="455.20" y1="478.30" x2="463.60" y2="478.30" stroke="#c1223f" stroke-width="1.5"/>
<circle cx="459.40" cy="478.30" r="1.25" fill="#c1223f"/>
<text x="465.60" y="480.50" font-size="6.5" stroke="#222222" stroke-width="0.15" textLength="46.40" lengthAdjust="spacingAndGlyphs"><tspan font-style="italic">Ppm1d</tspan><tspan font-size="72%" dy="-2.5">+/+</tspan><tspan dy="2.5"> No XRT</tspan></text>
<line x1="455.20" y1="487.97" x2="463.60" y2="487.97" stroke="#f4b9b2" stroke-width="1.0"/>
<circle cx="459.40" cy="487.97" r="1.25" fill="#f4b9b2"/>
<text x="465.60" y="490.17" font-size="6.5" stroke="#222222" stroke-width="0.15" textLength="32.30" lengthAdjust="spacingAndGlyphs"><tspan font-style="italic">Ppm1d</tspan><tspan font-size="72%" dy="-2.5">+/+</tspan><tspan dy="2.5"> XRT</tspan></text>
<line x1="455.20" y1="497.64" x2="463.60" y2="497.64" stroke="#3aa5da" stroke-width="1.5"/>
<circle cx="459.40" cy="497.64" r="1.25" fill="#3aa5da"/>
<text x="465.60" y="499.84" font-size="6.5" stroke="#222222" stroke-width="0.15" textLength="46.40" lengthAdjust="spacingAndGlyphs"><tspan font-style="italic">Ppm1d</tspan><tspan font-size="72%" dy="-2.5">f/f</tspan><tspan dy="2.5"> No XRT</tspan></text>
<line x1="455.20" y1="507.31" x2="463.60" y2="507.31" stroke="#b4def6" stroke-width="1.0"/>
<circle cx="459.40" cy="507.31" r="1.25" fill="#b4def6"/>
<text x="465.60" y="509.51" font-size="6.5" stroke="#222222" stroke-width="0.15" textLength="37.00" lengthAdjust="spacingAndGlyphs"><tspan font-style="italic">Ppm1d</tspan><tspan font-size="72%" dy="-2.5">f/f</tspan><tspan dy="2.5"> XRT</tspan></text>
<text x="39.20" y="567.60" font-size="10.2" fill="#111" font-weight="bold" stroke="#111" stroke-width="0.25">I</text>
<line x1="74.80" y1="571.10" x2="74.80" y2="637.30" stroke="#262626" stroke-width="1.35"/>
<line x1="72.00" y1="636.70" x2="74.80" y2="636.70" stroke="#262626" stroke-width="0.95"/>
<text x="70.80" y="639.00" font-size="6.4" text-anchor="end" stroke="#222222" stroke-width="0.15" textLength="3.10" lengthAdjust="spacingAndGlyphs">0</text>
<line x1="72.00" y1="620.40" x2="74.80" y2="620.40" stroke="#262626" stroke-width="0.95"/>
<text x="70.80" y="622.70" font-size="6.4" text-anchor="end" stroke="#222222" stroke-width="0.15" textLength="6.20" lengthAdjust="spacingAndGlyphs">25</text>
<line x1="72.00" y1="604.10" x2="74.80" y2="604.10" stroke="#262626" stroke-width="0.95"/>
<text x="70.80" y="606.40" font-size="6.4" text-anchor="end" stroke="#222222" stroke-width="0.15" textLength="6.20" lengthAdjust="spacingAndGlyphs">50</text>
<line x1="72.00" y1="587.80" x2="74.80" y2="587.80" stroke="#262626" stroke-width="0.95"/>
<text x="70.80" y="590.10" font-size="6.4" text-anchor="end" stroke="#222222" stroke-width="0.15" textLength="6.20" lengthAdjust="spacingAndGlyphs">75</text>
<line x1="72.00" y1="571.50" x2="74.80" y2="571.50" stroke="#262626" stroke-width="0.95"/>
<text x="70.80" y="573.80" font-size="6.4" text-anchor="end" stroke="#222222" stroke-width="0.15" textLength="9.30" lengthAdjust="spacingAndGlyphs">100</text>
<line x1="74.20" y1="636.70" x2="227.00" y2="636.70" stroke="#262626" stroke-width="1.35"/>
<rect x="76.10" y="576.52" width="3.35" height="60.18" fill="#c50f2e"/>
<line x1="77.77" y1="574.56" x2="77.77" y2="578.48" stroke="#4a0d18" stroke-width="0.8"/>
<line x1="76.87" y1="574.56" x2="78.67" y2="574.56" stroke="#4a0d18" stroke-width="0.8"/>
<line x1="76.87" y1="578.48" x2="78.67" y2="578.48" stroke="#4a0d18" stroke-width="0.8"/>
<rect x="79.45" y="593.67" width="3.35" height="43.03" fill="#e6988c"/>
<line x1="81.12" y1="587.80" x2="81.12" y2="599.54" stroke="#6b3530" stroke-width="0.8"/>
<line x1="80.22" y1="587.80" x2="82.02" y2="587.80" stroke="#6b3530" stroke-width="0.8"/>
<line x1="80.22" y1="599.54" x2="82.02" y2="599.54" stroke="#6b3530" stroke-width="0.8"/>
<rect x="82.80" y="597.19" width="3.35" height="39.51" fill="#29a8e0"/>
<line x1="84.47" y1="588.06" x2="84.47" y2="606.32" stroke="#123f63" stroke-width="0.8"/>
<line x1="83.57" y1="588.06" x2="85.38" y2="588.06" stroke="#123f63" stroke-width="0.8"/>
<line x1="83.57" y1="606.32" x2="85.38" y2="606.32" stroke="#123f63" stroke-width="0.8"/>
<rect x="86.15" y="632.14" width="3.35" height="4.56" fill="#acd8f3"/>
<line x1="87.82" y1="623.66" x2="87.82" y2="635.90" stroke="#183c5e" stroke-width="1.0"/>
<line x1="86.92" y1="623.66" x2="88.72" y2="623.66" stroke="#183c5e" stroke-width="1.0"/>
<line x1="82.80" y1="636.70" x2="82.80" y2="639.50" stroke="#262626" stroke-width="0.95"/>
<text x="84.40" y="644.20" font-size="6.8" text-anchor="end" stroke="#222222" stroke-width="0.15" textLength="11.00" lengthAdjust="spacingAndGlyphs" transform="rotate(-45 84.40 644.20)">LSK</text>
<rect x="93.25" y="576.52" width="3.35" height="60.18" fill="#c50f2e"/>
<line x1="94.92" y1="574.56" x2="94.92" y2="578.48" stroke="#4a0d18" stroke-width="0.8"/>
<line x1="94.02" y1="574.56" x2="95.83" y2="574.56" stroke="#4a0d18" stroke-width="0.8"/>
<line x1="94.02" y1="578.48" x2="95.83" y2="578.48" stroke="#4a0d18" stroke-width="0.8"/>
<rect x="96.60" y="599.54" width="3.35" height="37.16" fill="#e6988c"/>
<line x1="98.27" y1="593.67" x2="98.27" y2="605.40" stroke="#6b3530" stroke-width="0.8"/>
<line x1="97.37" y1="593.67" x2="99.17" y2="593.67" stroke="#6b3530" stroke-width="0.8"/>
<line x1="97.37" y1="605.40" x2="99.17" y2="605.40" stroke="#6b3530" stroke-width="0.8"/>
<rect x="99.95" y="603.19" width="3.35" height="33.51" fill="#29a8e0"/>
<line x1="101.62" y1="594.71" x2="101.62" y2="611.66" stroke="#123f63" stroke-width="0.8"/>
<line x1="100.72" y1="594.71" x2="102.53" y2="594.71" stroke="#123f63" stroke-width="0.8"/>
<line x1="100.72" y1="611.66" x2="102.53" y2="611.66" stroke="#123f63" stroke-width="0.8"/>
<rect x="103.30" y="633.11" width="3.35" height="3.59" fill="#acd8f3"/>
<line x1="104.97" y1="616.81" x2="104.97" y2="635.90" stroke="#183c5e" stroke-width="1.0"/>
<line x1="104.07" y1="616.81" x2="105.88" y2="616.81" stroke="#183c5e" stroke-width="1.0"/>
<line x1="99.95" y1="636.70" x2="99.95" y2="639.50" stroke="#262626" stroke-width="0.95"/>
<text x="101.55" y="644.20" font-size="6.8" text-anchor="end" stroke="#222222" stroke-width="0.15" textLength="36.00" lengthAdjust="spacingAndGlyphs" transform="rotate(-45 101.55 644.20)">LSK 150+48–</text>
<rect x="110.40" y="576.06" width="3.35" height="60.64" fill="#c50f2e"/>
<line x1="112.07" y1="574.43" x2="112.07" y2="577.69" stroke="#4a0d18" stroke-width="0.8"/>
<line x1="111.17" y1="574.43" x2="112.97" y2="574.43" stroke="#4a0d18" stroke-width="0.8"/>
<line x1="111.17" y1="577.69" x2="112.97" y2="577.69" stroke="#4a0d18" stroke-width="0.8"/>
<rect x="113.75" y="589.10" width="3.35" height="47.60" fill="#e6988c"/>
<line x1="115.42" y1="583.89" x2="115.42" y2="594.32" stroke="#6b3530" stroke-width="0.8"/>
<line x1="114.52" y1="583.89" x2="116.32" y2="583.89" stroke="#6b3530" stroke-width="0.8"/>
<line x1="114.52" y1="594.32" x2="116.32" y2="594.32" stroke="#6b3530" stroke-width="0.8"/>
<rect x="117.10" y="600.19" width="3.35" height="36.51" fill="#29a8e0"/>
<line x1="118.77" y1="590.41" x2="118.77" y2="609.97" stroke="#123f63" stroke-width="0.8"/>
<line x1="117.87" y1="590.41" x2="119.67" y2="590.41" stroke="#123f63" stroke-width="0.8"/>
<line x1="117.87" y1="609.97" x2="119.67" y2="609.97" stroke="#123f63" stroke-width="0.8"/>
<rect x="120.45" y="631.03" width="3.35" height="5.67" fill="#acd8f3"/>
<line x1="122.12" y1="623.86" x2="122.12" y2="635.90" stroke="#183c5e" stroke-width="1.0"/>
<line x1="121.22" y1="623.86" x2="123.02" y2="623.86" stroke="#183c5e" stroke-width="1.0"/>
<line x1="117.10" y1="636.70" x2="117.10" y2="639.50" stroke="#262626" stroke-width="0.95"/>
<text x="118.70" y="644.20" font-size="6.8" text-anchor="end" stroke="#222222" stroke-width="0.15" textLength="36.00" lengthAdjust="spacingAndGlyphs" transform="rotate(-45 118.70 644.20)">LSK 150+48+</text>
<rect x="127.55" y="576.52" width="3.35" height="60.18" fill="#c50f2e"/>
<line x1="129.22" y1="574.56" x2="129.22" y2="578.48" stroke="#4a0d18" stroke-width="0.8"/>
<line x1="128.32" y1="574.56" x2="130.12" y2="574.56" stroke="#4a0d18" stroke-width="0.8"/>
<line x1="128.32" y1="578.48" x2="130.12" y2="578.48" stroke="#4a0d18" stroke-width="0.8"/>
<rect x="130.90" y="594.97" width="3.35" height="41.73" fill="#e6988c"/>
<line x1="132.57" y1="587.15" x2="132.57" y2="602.80" stroke="#6b3530" stroke-width="0.8"/>
<line x1="131.67" y1="587.15" x2="133.47" y2="587.15" stroke="#6b3530" stroke-width="0.8"/>
<line x1="131.67" y1="602.80" x2="133.47" y2="602.80" stroke="#6b3530" stroke-width="0.8"/>
<rect x="134.25" y="591.71" width="3.35" height="44.99" fill="#29a8e0"/>
<line x1="135.92" y1="580.63" x2="135.92" y2="602.80" stroke="#123f63" stroke-width="0.8"/>
<line x1="135.02" y1="580.63" x2="136.82" y2="580.63" stroke="#123f63" stroke-width="0.8"/>
<line x1="135.02" y1="602.80" x2="136.82" y2="602.80" stroke="#123f63" stroke-width="0.8"/>
<rect x="137.60" y="632.59" width="3.35" height="4.11" fill="#acd8f3"/>
<line x1="139.28" y1="621.51" x2="139.28" y2="635.90" stroke="#183c5e" stroke-width="1.0"/>
<line x1="138.38" y1="621.51" x2="140.18" y2="621.51" stroke="#183c5e" stroke-width="1.0"/>
<line x1="134.25" y1="636.70" x2="134.25" y2="639.50" stroke="#262626" stroke-width="0.95"/>
<text x="135.85" y="644.20" font-size="6.8" text-anchor="end" stroke="#222222" stroke-width="0.15" textLength="36.00" lengthAdjust="spacingAndGlyphs" transform="rotate(-45 135.85 644.20)">LSK 150–48+</text>
<rect x="144.70" y="581.93" width="3.35" height="54.77" fill="#c50f2e"/>
<line x1="146.38" y1="579.32" x2="146.38" y2="584.54" stroke="#4a0d18" stroke-width="0.8"/>
<line x1="145.47" y1="579.32" x2="147.28" y2="579.32" stroke="#4a0d18" stroke-width="0.8"/>
<line x1="145.47" y1="584.54" x2="147.28" y2="584.54" stroke="#4a0d18" stroke-width="0.8"/>
<rect x="148.05" y="613.23" width="3.35" height="23.47" fill="#e6988c"/>
<line x1="149.72" y1="609.32" x2="149.72" y2="617.14" stroke="#6b3530" stroke-width="0.8"/>
<line x1="148.82" y1="609.32" x2="150.62" y2="609.32" stroke="#6b3530" stroke-width="0.8"/>
<line x1="148.82" y1="617.14" x2="150.62" y2="617.14" stroke="#6b3530" stroke-width="0.8"/>
<rect x="151.40" y="600.19" width="3.35" height="36.51" fill="#29a8e0"/>
<line x1="153.07" y1="593.02" x2="153.07" y2="607.36" stroke="#123f63" stroke-width="0.8"/>
<line x1="152.17" y1="593.02" x2="153.97" y2="593.02" stroke="#123f63" stroke-width="0.8"/>
<line x1="152.17" y1="607.36" x2="153.97" y2="607.36" stroke="#123f63" stroke-width="0.8"/>
<rect x="154.75" y="635.72" width="3.35" height="0.98" fill="#acd8f3"/>
<line x1="156.43" y1="634.42" x2="156.43" y2="635.90" stroke="#183c5e" stroke-width="1.0"/>
<line x1="155.53" y1="634.42" x2="157.33" y2="634.42" stroke="#183c5e" stroke-width="1.0"/>
<line x1="151.40" y1="636.70" x2="151.40" y2="639.50" stroke="#262626" stroke-width="0.95"/>
<text x="153.00" y="644.20" font-size="6.8" text-anchor="end" stroke="#222222" stroke-width="0.15" textLength="36.00" lengthAdjust="spacingAndGlyphs" transform="rotate(-45 153.00 644.20)">LSK 150–48–</text>
<rect x="161.85" y="584.54" width="3.35" height="52.16" fill="#c50f2e"/>
<line x1="163.53" y1="582.58" x2="163.53" y2="586.50" stroke="#4a0d18" stroke-width="0.8"/>
<line x1="162.62" y1="582.58" x2="164.43" y2="582.58" stroke="#4a0d18" stroke-width="0.8"/>
<line x1="162.62" y1="586.50" x2="164.43" y2="586.50" stroke="#4a0d18" stroke-width="0.8"/>
<rect x="165.20" y="596.93" width="3.35" height="39.77" fill="#e6988c"/>
<line x1="166.88" y1="591.71" x2="166.88" y2="602.14" stroke="#6b3530" stroke-width="0.8"/>
<line x1="165.97" y1="591.71" x2="167.78" y2="591.71" stroke="#6b3530" stroke-width="0.8"/>
<line x1="165.97" y1="602.14" x2="167.78" y2="602.14" stroke="#6b3530" stroke-width="0.8"/>
<rect x="168.55" y="608.01" width="3.35" height="28.69" fill="#29a8e0"/>
<line x1="170.22" y1="601.49" x2="170.22" y2="614.53" stroke="#123f63" stroke-width="0.8"/>
<line x1="169.32" y1="601.49" x2="171.12" y2="601.49" stroke="#123f63" stroke-width="0.8"/>
<line x1="169.32" y1="614.53" x2="171.12" y2="614.53" stroke="#123f63" stroke-width="0.8"/>
<rect x="171.90" y="635.40" width="3.35" height="1.30" fill="#acd8f3"/>
<line x1="173.58" y1="633.77" x2="173.58" y2="635.90" stroke="#183c5e" stroke-width="1.0"/>
<line x1="172.68" y1="633.77" x2="174.48" y2="633.77" stroke="#183c5e" stroke-width="1.0"/>
<line x1="168.55" y1="636.70" x2="168.55" y2="639.50" stroke="#262626" stroke-width="0.95"/>
<text x="170.15" y="644.20" font-size="6.8" text-anchor="end" stroke="#222222" stroke-width="0.15" textLength="33.00" lengthAdjust="spacingAndGlyphs" transform="rotate(-45 170.15 644.20)">Lin Low Live</text>
<rect x="179.00" y="580.30" width="3.35" height="56.40" fill="#c50f2e"/>
<line x1="180.68" y1="577.69" x2="180.68" y2="582.91" stroke="#4a0d18" stroke-width="0.8"/>
<line x1="179.78" y1="577.69" x2="181.58" y2="577.69" stroke="#4a0d18" stroke-width="0.8"/>
<line x1="179.78" y1="582.91" x2="181.58" y2="582.91" stroke="#4a0d18" stroke-width="0.8"/>
<rect x="182.35" y="596.93" width="3.35" height="39.77" fill="#e6988c"/>
<line x1="184.03" y1="589.76" x2="184.03" y2="604.10" stroke="#6b3530" stroke-width="0.8"/>
<line x1="183.12" y1="589.76" x2="184.93" y2="589.76" stroke="#6b3530" stroke-width="0.8"/>
<line x1="183.12" y1="604.10" x2="184.93" y2="604.10" stroke="#6b3530" stroke-width="0.8"/>
<rect x="185.70" y="598.88" width="3.35" height="37.82" fill="#29a8e0"/>
<line x1="187.38" y1="589.10" x2="187.38" y2="608.66" stroke="#123f63" stroke-width="0.8"/>
<line x1="186.47" y1="589.10" x2="188.28" y2="589.10" stroke="#123f63" stroke-width="0.8"/>
<line x1="186.47" y1="608.66" x2="188.28" y2="608.66" stroke="#123f63" stroke-width="0.8"/>
<rect x="189.05" y="634.74" width="3.35" height="1.96" fill="#acd8f3"/>
<line x1="190.73" y1="632.46" x2="190.73" y2="635.90" stroke="#183c5e" stroke-width="1.0"/>
<line x1="189.83" y1="632.46" x2="191.63" y2="632.46" stroke="#183c5e" stroke-width="1.0"/>
<line x1="185.70" y1="636.70" x2="185.70" y2="639.50" stroke="#262626" stroke-width="0.95"/>
<text x="187.30" y="644.20" font-size="6.8" text-anchor="end" stroke="#222222" stroke-width="0.15" textLength="7.00" lengthAdjust="spacingAndGlyphs" transform="rotate(-45 187.30 644.20)">LK</text>
<rect x="196.15" y="575.41" width="3.35" height="61.29" fill="#c50f2e"/>
<line x1="197.82" y1="573.46" x2="197.82" y2="577.37" stroke="#4a0d18" stroke-width="0.8"/>
<line x1="196.92" y1="573.46" x2="198.72" y2="573.46" stroke="#4a0d18" stroke-width="0.8"/>
<line x1="196.92" y1="577.37" x2="198.72" y2="577.37" stroke="#4a0d18" stroke-width="0.8"/>
<rect x="199.50" y="589.76" width="3.35" height="46.94" fill="#e6988c"/>
<line x1="201.17" y1="582.58" x2="201.17" y2="596.93" stroke="#6b3530" stroke-width="0.8"/>
<line x1="200.27" y1="582.58" x2="202.07" y2="582.58" stroke="#6b3530" stroke-width="0.8"/>
<line x1="200.27" y1="596.93" x2="202.07" y2="596.93" stroke="#6b3530" stroke-width="0.8"/>
<rect x="202.85" y="594.32" width="3.35" height="42.38" fill="#29a8e0"/>
<line x1="204.52" y1="585.19" x2="204.52" y2="603.45" stroke="#123f63" stroke-width="0.8"/>
<line x1="203.62" y1="585.19" x2="205.42" y2="585.19" stroke="#123f63" stroke-width="0.8"/>
<line x1="203.62" y1="603.45" x2="205.42" y2="603.45" stroke="#123f63" stroke-width="0.8"/>
<rect x="206.20" y="629.53" width="3.35" height="7.17" fill="#acd8f3"/>
<line x1="207.88" y1="624.96" x2="207.88" y2="634.09" stroke="#183c5e" stroke-width="1.0"/>
<line x1="206.97" y1="624.96" x2="208.78" y2="624.96" stroke="#183c5e" stroke-width="1.0"/>
<line x1="206.97" y1="634.09" x2="208.78" y2="634.09" stroke="#183c5e" stroke-width="1.0"/>
<line x1="202.85" y1="636.70" x2="202.85" y2="639.50" stroke="#262626" stroke-width="0.95"/>
<text x="204.45" y="644.20" font-size="6.8" text-anchor="end" stroke="#222222" stroke-width="0.15" textLength="13.00" lengthAdjust="spacingAndGlyphs" transform="rotate(-45 204.45 644.20)">CMP</text>
<rect x="213.30" y="578.02" width="3.35" height="58.68" fill="#c50f2e"/>
<line x1="214.97" y1="575.41" x2="214.97" y2="580.63" stroke="#4a0d18" stroke-width="0.8"/>
<line x1="214.07" y1="575.41" x2="215.88" y2="575.41" stroke="#4a0d18" stroke-width="0.8"/>
<line x1="214.07" y1="580.63" x2="215.88" y2="580.63" stroke="#4a0d18" stroke-width="0.8"/>
<rect x="216.65" y="598.88" width="3.35" height="37.82" fill="#e6988c"/>
<line x1="218.32" y1="590.41" x2="218.32" y2="607.36" stroke="#6b3530" stroke-width="0.8"/>
<line x1="217.42" y1="590.41" x2="219.22" y2="590.41" stroke="#6b3530" stroke-width="0.8"/>
<line x1="217.42" y1="607.36" x2="219.22" y2="607.36" stroke="#6b3530" stroke-width="0.8"/>
<rect x="220.00" y="596.93" width="3.35" height="39.77" fill="#29a8e0"/>
<line x1="221.67" y1="587.15" x2="221.67" y2="606.71" stroke="#123f63" stroke-width="0.8"/>
<line x1="220.77" y1="587.15" x2="222.57" y2="587.15" stroke="#123f63" stroke-width="0.8"/>
<line x1="220.77" y1="606.71" x2="222.57" y2="606.71" stroke="#123f63" stroke-width="0.8"/>
<rect x="223.35" y="634.74" width="3.35" height="1.96" fill="#acd8f3"/>
<line x1="225.03" y1="632.79" x2="225.03" y2="635.90" stroke="#183c5e" stroke-width="1.0"/>
<line x1="224.12" y1="632.79" x2="225.93" y2="632.79" stroke="#183c5e" stroke-width="1.0"/>
<line x1="220.00" y1="636.70" x2="220.00" y2="639.50" stroke="#262626" stroke-width="0.95"/>
<text x="221.60" y="644.20" font-size="6.8" text-anchor="end" stroke="#222222" stroke-width="0.15" textLength="13.00" lengthAdjust="spacingAndGlyphs" transform="rotate(-45 221.60 644.20)">GMP</text>
<rect x="231.00" y="582.70" width="6.20" height="6.20" fill="#c50f2e"/>
<text x="240.80" y="588.10" font-size="6.6" stroke="#222222" stroke-width="0.15" textLength="47.00" lengthAdjust="spacingAndGlyphs"><tspan font-style="italic">Ppm1d</tspan><tspan font-size="72%" dy="-2.5">+/+</tspan><tspan dy="2.5"> No XRT</tspan></text>
<rect x="231.00" y="595.03" width="6.20" height="6.20" fill="#e6988c"/>
<text x="240.80" y="600.43" font-size="6.6" stroke="#222222" stroke-width="0.15" textLength="38.40" lengthAdjust="spacingAndGlyphs"><tspan font-style="italic">Ppm1d</tspan><tspan font-size="72%" dy="-2.5">+/+</tspan><tspan dy="2.5"> XRT</tspan></text>
<rect x="231.00" y="607.36" width="6.20" height="6.20" fill="#29a8e0"/>
<text x="240.80" y="612.76" font-size="6.6" stroke="#222222" stroke-width="0.15" textLength="46.00" lengthAdjust="spacingAndGlyphs"><tspan font-style="italic">Ppm1d</tspan><tspan font-size="72%" dy="-2.5">f/f</tspan><tspan dy="2.5"> No XRT</tspan></text>
<rect x="231.00" y="619.69" width="6.20" height="6.20" fill="#acd8f3"/>
<text x="240.80" y="625.09" font-size="6.6" stroke="#222222" stroke-width="0.15" textLength="36.00" lengthAdjust="spacingAndGlyphs"><tspan font-style="italic">Ppm1d</tspan><tspan font-size="72%" dy="-2.5">f/f</tspan><tspan dy="2.5"> XRT</tspan></text>
<text x="111.20" y="679.00" font-size="8.6" stroke="#222222" stroke-width="0.15" textLength="81.40" lengthAdjust="spacingAndGlyphs">Bone marrow compartment</text>
<text x="54.00" y="602.60" font-size="8.4" text-anchor="middle" stroke="#222222" stroke-width="0.15" textLength="60.00" lengthAdjust="spacingAndGlyphs" transform="rotate(-90 54.00 602.60)">% CD45.2 chimerism</text>
<text x="302.50" y="567.80" font-size="10.2" fill="#111" font-weight="bold" stroke="#111" stroke-width="0.25">J</text>
<line x1="352.30" y1="564.30" x2="352.30" y2="637.50" stroke="#262626" stroke-width="1.35"/>
<line x1="349.50" y1="636.90" x2="352.30" y2="636.90" stroke="#262626" stroke-width="0.95"/>
<text x="348.30" y="639.20" font-size="6.4" text-anchor="end" stroke="#222222" stroke-width="0.15" textLength="7.70" lengthAdjust="spacingAndGlyphs">0.0</text>
<line x1="349.50" y1="622.46" x2="352.30" y2="622.46" stroke="#262626" stroke-width="0.95"/>
<text x="348.30" y="624.76" font-size="6.4" text-anchor="end" stroke="#222222" stroke-width="0.15" textLength="7.70" lengthAdjust="spacingAndGlyphs">0.2</text>
<line x1="349.50" y1="608.02" x2="352.30" y2="608.02" stroke="#262626" stroke-width="0.95"/>
<text x="348.30" y="610.32" font-size="6.4" text-anchor="end" stroke="#222222" stroke-width="0.15" textLength="7.70" lengthAdjust="spacingAndGlyphs">0.4</text>
<line x1="349.50" y1="593.58" x2="352.30" y2="593.58" stroke="#262626" stroke-width="0.95"/>
<text x="348.30" y="595.88" font-size="6.4" text-anchor="end" stroke="#222222" stroke-width="0.15" textLength="7.70" lengthAdjust="spacingAndGlyphs">0.6</text>
<line x1="349.50" y1="579.14" x2="352.30" y2="579.14" stroke="#262626" stroke-width="0.95"/>
<text x="348.30" y="581.44" font-size="6.4" text-anchor="end" stroke="#222222" stroke-width="0.15" textLength="7.70" lengthAdjust="spacingAndGlyphs">0.8</text>
<line x1="349.50" y1="564.70" x2="352.30" y2="564.70" stroke="#262626" stroke-width="0.95"/>
<text x="348.30" y="567.00" font-size="6.4" text-anchor="end" stroke="#222222" stroke-width="0.15" textLength="7.70" lengthAdjust="spacingAndGlyphs">1.0</text>
<line x1="351.70" y1="636.90" x2="480.80" y2="636.90" stroke="#262626" stroke-width="1.35"/>
<rect x="356.20" y="564.70" width="7.10" height="72.20" fill="#29a8e0"/>
<rect x="363.30" y="564.70" width="7.10" height="72.20" fill="#c50f2e"/>
<line x1="363.30" y1="636.90" x2="363.30" y2="639.10" stroke="#262626" stroke-width="0.95"/>
<text x="363.30" y="647.70" font-size="6.4" text-anchor="middle" stroke="#222222" stroke-width="0.15">0</text>
<rect x="377.50" y="604.41" width="7.10" height="32.49" fill="#29a8e0"/>
<rect x="384.60" y="620.29" width="7.10" height="16.61" fill="#c50f2e"/>
<line x1="381.05" y1="600.80" x2="381.05" y2="608.02" stroke="#222" stroke-width="0.75"/>
<line x1="379.45" y1="600.80" x2="382.65" y2="600.80" stroke="#222" stroke-width="0.75"/>
<line x1="379.45" y1="608.02" x2="382.65" y2="608.02" stroke="#222" stroke-width="0.75"/>
<line x1="388.15" y1="616.68" x2="388.15" y2="623.90" stroke="#222" stroke-width="0.75"/>
<line x1="386.55" y1="616.68" x2="389.75" y2="616.68" stroke="#222" stroke-width="0.75"/>
<line x1="386.55" y1="623.90" x2="389.75" y2="623.90" stroke="#222" stroke-width="0.75"/>
<line x1="384.60" y1="636.90" x2="384.60" y2="639.10" stroke="#262626" stroke-width="0.95"/>
<text x="384.60" y="647.70" font-size="6.4" text-anchor="middle" stroke="#222222" stroke-width="0.15">4</text>
<rect x="398.80" y="592.14" width="7.10" height="44.76" fill="#29a8e0"/>
<rect x="405.90" y="619.57" width="7.10" height="17.33" fill="#c50f2e"/>
<line x1="402.35" y1="584.92" x2="402.35" y2="599.36" stroke="#222" stroke-width="0.75"/>
<line x1="400.75" y1="584.92" x2="403.95" y2="584.92" stroke="#222" stroke-width="0.75"/>
<line x1="400.75" y1="599.36" x2="403.95" y2="599.36" stroke="#222" stroke-width="0.75"/>
<line x1="409.45" y1="613.07" x2="409.45" y2="626.07" stroke="#222" stroke-width="0.75"/>
<line x1="407.85" y1="613.07" x2="411.05" y2="613.07" stroke="#222" stroke-width="0.75"/>
<line x1="407.85" y1="626.07" x2="411.05" y2="626.07" stroke="#222" stroke-width="0.75"/>
<line x1="405.90" y1="636.90" x2="405.90" y2="639.10" stroke="#262626" stroke-width="0.95"/>
<text x="405.90" y="647.70" font-size="6.4" text-anchor="middle" stroke="#222222" stroke-width="0.15">8</text>
<rect x="420.10" y="592.14" width="7.10" height="44.76" fill="#29a8e0"/>
<rect x="427.20" y="623.18" width="7.10" height="13.72" fill="#c50f2e"/>
<line x1="423.65" y1="585.64" x2="423.65" y2="598.63" stroke="#222" stroke-width="0.75"/>
<line x1="422.05" y1="585.64" x2="425.25" y2="585.64" stroke="#222" stroke-width="0.75"/>
<line x1="422.05" y1="598.63" x2="425.25" y2="598.63" stroke="#222" stroke-width="0.75"/>
<line x1="430.75" y1="617.41" x2="430.75" y2="628.96" stroke="#222" stroke-width="0.75"/>
<line x1="429.15" y1="617.41" x2="432.35" y2="617.41" stroke="#222" stroke-width="0.75"/>
<line x1="429.15" y1="628.96" x2="432.35" y2="628.96" stroke="#222" stroke-width="0.75"/>
<line x1="427.20" y1="636.90" x2="427.20" y2="639.10" stroke="#262626" stroke-width="0.95"/>
<text x="427.20" y="647.70" font-size="6.4" text-anchor="middle" stroke="#222222" stroke-width="0.15">12</text>
<rect x="441.40" y="593.58" width="7.10" height="43.32" fill="#29a8e0"/>
<rect x="448.50" y="628.24" width="7.10" height="8.66" fill="#c50f2e"/>
<line x1="444.95" y1="587.08" x2="444.95" y2="600.08" stroke="#222" stroke-width="0.75"/>
<line x1="443.35" y1="587.08" x2="446.55" y2="587.08" stroke="#222" stroke-width="0.75"/>
<line x1="443.35" y1="600.08" x2="446.55" y2="600.08" stroke="#222" stroke-width="0.75"/>
<line x1="452.05" y1="624.63" x2="452.05" y2="631.85" stroke="#222" stroke-width="0.75"/>
<line x1="450.45" y1="624.63" x2="453.65" y2="624.63" stroke="#222" stroke-width="0.75"/>
<line x1="450.45" y1="631.85" x2="453.65" y2="631.85" stroke="#222" stroke-width="0.75"/>
<line x1="448.50" y1="636.90" x2="448.50" y2="639.10" stroke="#262626" stroke-width="0.95"/>
<text x="448.50" y="647.70" font-size="6.4" text-anchor="middle" stroke="#222222" stroke-width="0.15">16</text>
<rect x="462.70" y="590.69" width="7.10" height="46.21" fill="#29a8e0"/>
<rect x="469.80" y="631.12" width="7.10" height="5.78" fill="#c50f2e"/>
<line x1="466.25" y1="583.47" x2="466.25" y2="597.91" stroke="#222" stroke-width="0.75"/>
<line x1="464.65" y1="583.47" x2="467.85" y2="583.47" stroke="#222" stroke-width="0.75"/>
<line x1="464.65" y1="597.91" x2="467.85" y2="597.91" stroke="#222" stroke-width="0.75"/>
<line x1="473.35" y1="627.51" x2="473.35" y2="634.73" stroke="#222" stroke-width="0.75"/>
<line x1="471.75" y1="627.51" x2="474.95" y2="627.51" stroke="#222" stroke-width="0.75"/>
<line x1="471.75" y1="634.73" x2="474.95" y2="634.73" stroke="#222" stroke-width="0.75"/>
<line x1="469.80" y1="636.90" x2="469.80" y2="639.10" stroke="#262626" stroke-width="0.95"/>
<text x="469.80" y="647.70" font-size="6.4" text-anchor="middle" stroke="#222222" stroke-width="0.15">24</text>
<text x="368.00" y="658.00" font-size="8.6" stroke="#222222" stroke-width="0.15" textLength="97.00" lengthAdjust="spacingAndGlyphs">Weeks post secondary transplant</text>
<text x="323.30" y="598.80" font-size="8.4" text-anchor="middle" stroke="#222222" stroke-width="0.15" textLength="69.30" lengthAdjust="spacingAndGlyphs" transform="rotate(-90 323.30 598.80)">PB CD45.2% chimerism</text>
<text x="331.80" y="599.50" font-size="8.4" text-anchor="middle" stroke="#222222" stroke-width="0.15" textLength="58.90" lengthAdjust="spacingAndGlyphs" transform="rotate(-90 331.80 599.50)">normalized to input</text>
<text x="413.40" y="567.20" font-size="6.3" fill="#29a8e0" textLength="63.90" lengthAdjust="spacingAndGlyphs"><tspan font-style="italic">Ppm1d</tspan><tspan font-size="72%" dy="-2.5">+/+</tspan><tspan dy="2.5"> vs Competitor</tspan></text>
<text x="413.40" y="576.00" font-size="6.3" fill="#c50f2e" textLength="62.30" lengthAdjust="spacingAndGlyphs"><tspan font-style="italic">Ppm1d</tspan><tspan font-size="72%" dy="-2.5">f/f</tspan><tspan dy="2.5"> vs Competitor</tspan></text>
<rect x="0.55" y="0.55" width="518.9" height="687.9" fill="none" stroke="#4a4a4a" stroke-width="1.3"/>
</svg></div></body></html>
